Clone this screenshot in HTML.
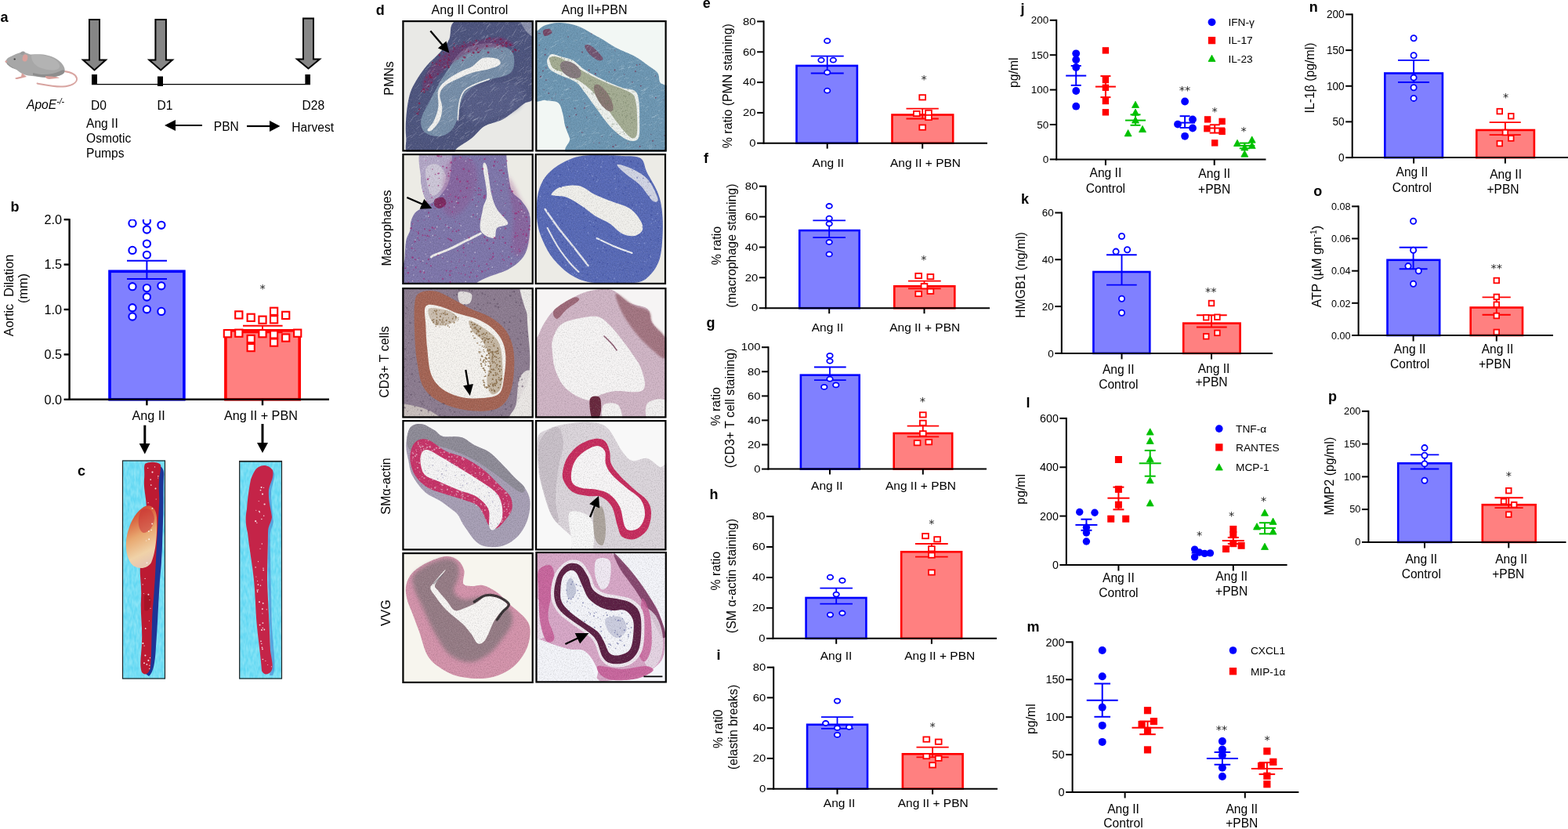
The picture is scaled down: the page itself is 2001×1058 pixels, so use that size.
<!DOCTYPE html>
<html><head><meta charset="utf-8"><title>Figure</title>
<style>html,body{margin:0;padding:0;background:#fff;} svg{display:block;} text{font-family:"Liberation Sans",Arial,Helvetica,sans-serif;}</style>
</head><body>
<svg width="2001" height="1058" viewBox="0 0 2001 1058">
<rect x="0" y="0" width="2001" height="1058" fill="#fff"/>
<text x="0.5" y="27.8" font-size="18" text-anchor="start" font-weight="bold" fill="#000">a</text>
<polygon points="114.0,25.0 127.0,25.0 127.0,76.6 135.0,76.6 120.5,89.5 106.0,76.6 114.0,76.6" fill="#868686" stroke="#000" stroke-width="2" stroke-linejoin="miter"/>
<polygon points="198.4,25.0 211.9,25.0 211.9,76.6 220.0,76.6 205.2,89.5 190.4,76.6 198.4,76.6" fill="#868686" stroke="#000" stroke-width="2" stroke-linejoin="miter"/>
<polygon points="387.0,23.5 400.0,23.5 400.0,75.6 408.0,75.6 393.5,87.5 379.0,75.6 387.0,75.6" fill="#868686" stroke="#000" stroke-width="2" stroke-linejoin="miter"/>
<line x1="117" y1="107.6" x2="396" y2="107.6" stroke="#000" stroke-width="1.3" stroke-linecap="butt"/>
<rect x="117" y="95" width="7" height="13" fill="#000" stroke="none" stroke-width="0"/>
<rect x="201" y="97.5" width="7" height="12.5" fill="#000" stroke="none" stroke-width="0"/>
<rect x="389.4" y="95" width="6.6" height="13" fill="#000" stroke="none" stroke-width="0"/>
<g>
<path d="M82,91 C90,92 97,95 98,100 C99,106 90,110 80,110.5 C68,111 56,108 47.5,106.5" fill="none" stroke="#d8a4a0" stroke-width="1.9" stroke-linecap="round"/>
<path d="M7.5,78 C8,75 11,73 14,72 C18,70 22,68 28,66.5 C33,66 36,69.5 40,69.5 C46,69 50,69 55,69.5 C63,70.5 71,73.5 77,79 C82,84 84,89 82,93 C79,96.5 73,97.5 66,98.5 C58,99.5 48,98 41,97 C34,96.5 29,95 25,92 C20,88 14,84 10,82 C8,81 7,79.5 7.5,78 Z" fill="#a7a7a7"/>
<path d="M40,70.5 C50,69 62,71 70,76 C76,80 78,85 74,88 C68,91 58,89 50,86 C44,83 40,78 40,70.5 Z" fill="#b3b3b3"/>
<path d="M42,93 C52,96 66,96 76,91 C80,89 83,88 82,92 C80,96 73,97.5 66,98.5 C58,99.5 48,98 42,96 Z" fill="#8d8d8d"/>
<path d="M9,80 C12,83 17,86 22,89 C18,88 13,86 9,82 Z" fill="#959595"/>
<ellipse cx="32" cy="74" rx="3.3" ry="4.6" transform="rotate(10 32 74)" fill="#d9a09b"/>
<path d="M25.5,69 C26,66 29,64.5 31.5,66 C32,67.5 31,69 29,70 Z" fill="#9b9b9b"/>
<ellipse cx="18.7" cy="75.5" rx="1.2" ry="1" fill="#333"/>
<circle cx="7.8" cy="78.6" r="1.3" fill="#d9a09b"/>
<path d="M28,93 C30,95 33,97 34,98 L22,101 C19,101 18.5,99.5 21,99 L27,97.5 Z" fill="#d9a09b"/>
<path d="M58,97 L66,97.5 C70,98 75,98.5 76,99.5 L63,101 C60,101 59,99.5 58,99 Z" fill="#d9a09b"/>
</g>
<text x="34" y="139.4" font-size="15.6" text-anchor="start" font-style="italic" fill="#000">ApoE<tspan font-size="10.5" dy="-6">-/-</tspan></text>
<text x="116" y="139.5" font-size="15.6" text-anchor="start" fill="#000">D0</text>
<text x="200.4" y="139.5" font-size="15.6" text-anchor="start" fill="#000">D1</text>
<text x="385.5" y="139.5" font-size="15.6" text-anchor="start" fill="#000">D28</text>
<text x="110" y="163" font-size="15.6" text-anchor="start" fill="#000">Ang II</text>
<text x="110" y="182" font-size="15.6" text-anchor="start" fill="#000">Osmotic</text>
<text x="110" y="201" font-size="15.6" text-anchor="start" fill="#000">Pumps</text>
<text x="272.8" y="167" font-size="15.6" text-anchor="start" fill="#000">PBN</text>
<text x="372.3" y="168" font-size="15.6" text-anchor="start" fill="#000">Harvest</text>
<line x1="222" y1="160" x2="258" y2="160" stroke="#000" stroke-width="2.2" stroke-linecap="butt"/>
<polygon points="210,160 224,153 224,167" fill="#000"/>
<line x1="315" y1="161" x2="346" y2="161" stroke="#000" stroke-width="2.2" stroke-linecap="butt"/>
<polygon points="357.5,161 344,154 344,168" fill="#000"/>
<text x="13.5" y="270" font-size="18" text-anchor="start" font-weight="bold" fill="#000">b</text>
<line x1="88.6" y1="279.2" x2="88.6" y2="510.8" stroke="#000" stroke-width="2.4" stroke-linecap="butt"/>
<line x1="81.6" y1="280.2" x2="88.6" y2="280.2" stroke="#000" stroke-width="2.4" stroke-linecap="butt"/>
<text x="79" y="286.032" font-size="16.2" text-anchor="end" fill="#000">2.0</text>
<line x1="81.6" y1="337.6" x2="88.6" y2="337.6" stroke="#000" stroke-width="2.4" stroke-linecap="butt"/>
<text x="79" y="343.432" font-size="16.2" text-anchor="end" fill="#000">1.5</text>
<line x1="81.6" y1="395" x2="88.6" y2="395" stroke="#000" stroke-width="2.4" stroke-linecap="butt"/>
<text x="79" y="400.832" font-size="16.2" text-anchor="end" fill="#000">1.0</text>
<line x1="81.6" y1="452.4" x2="88.6" y2="452.4" stroke="#000" stroke-width="2.4" stroke-linecap="butt"/>
<text x="79" y="458.23199999999997" font-size="16.2" text-anchor="end" fill="#000">0.5</text>
<line x1="81.6" y1="509.8" x2="88.6" y2="509.8" stroke="#000" stroke-width="2.4" stroke-linecap="butt"/>
<text x="79" y="515.6320000000001" font-size="16.2" text-anchor="end" fill="#000">0.0</text>
<clipPath id="cb"><rect x="89" y="280" width="340" height="232"/></clipPath>
<g clip-path="url(#cb)">
<rect x="140.0" y="346.3" width="94.9" height="163.5" fill="#8080ff" stroke="#0000ff" stroke-width="3.6"/>
<rect x="287.90000000000003" y="421.8" width="94.29999999999998" height="88.00000000000001" fill="#ff8080" stroke="#ff0000" stroke-width="3.6"/>
<line x1="187.4" y1="332.7" x2="187.4" y2="356.1" stroke="#0000ff" stroke-width="2" stroke-linecap="butt"/>
<line x1="162" y1="332.7" x2="213" y2="332.7" stroke="#0000ff" stroke-width="2" stroke-linecap="butt"/>
<line x1="162" y1="356.1" x2="213" y2="356.1" stroke="#0000ff" stroke-width="2" stroke-linecap="butt"/>
<line x1="335" y1="415.8" x2="335" y2="424.2" stroke="#ff0000" stroke-width="2" stroke-linecap="butt"/>
<line x1="310" y1="415.8" x2="360.6" y2="415.8" stroke="#ff0000" stroke-width="2" stroke-linecap="butt"/>
<line x1="310" y1="424.2" x2="360.6" y2="424.2" stroke="#ff0000" stroke-width="2" stroke-linecap="butt"/>
<circle cx="169" cy="284.9" r="4.6" fill="#fff" stroke="#0000ff" stroke-width="2.1"/>
<circle cx="187.4" cy="282" r="4.6" fill="#fff" stroke="#0000ff" stroke-width="2.1"/>
<circle cx="187.4" cy="293" r="4.6" fill="#fff" stroke="#0000ff" stroke-width="2.1"/>
<circle cx="205.9" cy="287.3" r="4.6" fill="#fff" stroke="#0000ff" stroke-width="2.1"/>
<circle cx="187.4" cy="311.1" r="4.6" fill="#fff" stroke="#0000ff" stroke-width="2.1"/>
<circle cx="169" cy="319.4" r="4.6" fill="#fff" stroke="#0000ff" stroke-width="2.1"/>
<circle cx="187.4" cy="325.3" r="4.6" fill="#fff" stroke="#0000ff" stroke-width="2.1"/>
<circle cx="169" cy="365.7" r="4.6" fill="#fff" stroke="#0000ff" stroke-width="2.1"/>
<circle cx="187.4" cy="367.6" r="4.6" fill="#fff" stroke="#0000ff" stroke-width="2.1"/>
<circle cx="205.9" cy="364.8" r="4.6" fill="#fff" stroke="#0000ff" stroke-width="2.1"/>
<circle cx="187.4" cy="379" r="4.6" fill="#fff" stroke="#0000ff" stroke-width="2.1"/>
<circle cx="169" cy="392.7" r="4.6" fill="#fff" stroke="#0000ff" stroke-width="2.1"/>
<circle cx="187.4" cy="394.8" r="4.6" fill="#fff" stroke="#0000ff" stroke-width="2.1"/>
<circle cx="205.9" cy="397.4" r="4.6" fill="#fff" stroke="#0000ff" stroke-width="2.1"/>
<circle cx="169" cy="404" r="4.6" fill="#fff" stroke="#0000ff" stroke-width="2.1"/>
<rect x="300.2" y="397.29999999999995" width="9.2" height="9.2" fill="#fff" stroke="#ff0000" stroke-width="2.1"/>
<rect x="315.59999999999997" y="400.7" width="9.2" height="9.2" fill="#fff" stroke="#ff0000" stroke-width="2.1"/>
<rect x="330.4" y="403.59999999999997" width="9.2" height="9.2" fill="#fff" stroke="#ff0000" stroke-width="2.1"/>
<rect x="345.0" y="392.7" width="9.2" height="9.2" fill="#fff" stroke="#ff0000" stroke-width="2.1"/>
<rect x="345.0" y="403.2" width="9.2" height="9.2" fill="#fff" stroke="#ff0000" stroke-width="2.1"/>
<rect x="360.09999999999997" y="397.79999999999995" width="9.2" height="9.2" fill="#fff" stroke="#ff0000" stroke-width="2.1"/>
<rect x="285.79999999999995" y="421.09999999999997" width="9.2" height="9.2" fill="#fff" stroke="#ff0000" stroke-width="2.1"/>
<rect x="300.2" y="420.59999999999997" width="9.2" height="9.2" fill="#fff" stroke="#ff0000" stroke-width="2.1"/>
<rect x="315.59999999999997" y="427.9" width="9.2" height="9.2" fill="#fff" stroke="#ff0000" stroke-width="2.1"/>
<rect x="315.59999999999997" y="439.0" width="9.2" height="9.2" fill="#fff" stroke="#ff0000" stroke-width="2.1"/>
<rect x="330.4" y="421.09999999999997" width="9.2" height="9.2" fill="#fff" stroke="#ff0000" stroke-width="2.1"/>
<rect x="345.0" y="422.29999999999995" width="9.2" height="9.2" fill="#fff" stroke="#ff0000" stroke-width="2.1"/>
<rect x="345.0" y="432.5" width="9.2" height="9.2" fill="#fff" stroke="#ff0000" stroke-width="2.1"/>
<rect x="360.09999999999997" y="426.5" width="9.2" height="9.2" fill="#fff" stroke="#ff0000" stroke-width="2.1"/>
<rect x="375.09999999999997" y="420.59999999999997" width="9.2" height="9.2" fill="#fff" stroke="#ff0000" stroke-width="2.1"/>
</g>
<line x1="87.6" y1="509.8" x2="420" y2="509.8" stroke="#000" stroke-width="2.4" stroke-linecap="butt"/>
<line x1="187.4" y1="509.8" x2="187.4" y2="517.3" stroke="#000" stroke-width="2.4" stroke-linecap="butt"/>
<line x1="335" y1="509.8" x2="335" y2="517.3" stroke="#000" stroke-width="2.4" stroke-linecap="butt"/>
<text x="335" y="373.15" font-size="14.5" text-anchor="middle" fill="#222" style="font-family:'DejaVu Sans',sans-serif">*</text>
<text x="189.6" y="536" font-size="16.2" text-anchor="middle" fill="#000">Ang II</text>
<text x="332.9" y="536" font-size="16.2" text-anchor="middle" fill="#000">Ang II + PBN</text>
<text x="17" y="377" font-size="16.2" text-anchor="middle" transform="rotate(-90 17 377)" fill="#000">Aortic&#160;&#160;Dilation</text>
<text x="34.5" y="368" font-size="16.2" text-anchor="middle" transform="rotate(-90 34.5 368)" fill="#000">(mm)</text>
<line x1="184.8" y1="542.7" x2="184.8" y2="567" stroke="#000" stroke-width="3" stroke-linecap="butt"/>
<polygon points="177.7,566 191.5,566 184.8,579.5" fill="#000"/>
<line x1="335" y1="541" x2="335" y2="566" stroke="#000" stroke-width="3" stroke-linecap="butt"/>
<polygon points="328,565 342,565 335,578" fill="#000"/>
<text x="99" y="607" font-size="18" text-anchor="start" font-weight="bold" fill="#000">c</text>
<defs>
<filter id="noise" x="0" y="0" width="100%" height="100%">
<feTurbulence type="fractalNoise" baseFrequency="0.35 0.12" numOctaves="2" seed="3"/>
<feColorMatrix type="matrix" values="0 0 0 0 0.7  0 0 0 0 1  0 0 0 0 1  0 0 0 -1.3 1.05"/>
</filter>
</defs>
<g><rect x="156" y="587.5" width="55" height="279.0" fill="#5ed6f2"/>
<rect x="156" y="587.5" width="55" height="279.0" fill="#fff" filter="url(#noise)" opacity="0.45"/>

<defs><linearGradient id="bulge" x1="0" y1="0" x2="0.25" y2="1">
<stop offset="0" stop-color="#c42a30"/><stop offset="0.25" stop-color="#d8603c"/><stop offset="0.55" stop-color="#e8a870"/><stop offset="0.85" stop-color="#f0d2a8"/><stop offset="1" stop-color="#e8c8b0"/></linearGradient></defs>
<path d="M200,594 C207,594 210,600 209,608 C208,625 209,645 208,665 C207,690 207,715 204,740 C202,770 201,800 199,825 C198,845 196,858 190,863 L186,860 C192,840 194,800 194,770 C195,740 195,700 196,670 C197,640 199,615 200,594 Z" fill="#1e3496"/>
<path d="M185,592 C190,589 201,589 205,593 C206,600 203,606 203,614 C202,625 204,632 203,645 C202,665 200,690 199,715 C198,735 197,755 195,775 C193,800 194,830 192,852 C190,860 185,863 181,858 C178,850 180,840 181,820 C182,800 179,785 180,765 C181,745 178,735 179,724 C182,700 186,670 187,650 C187,635 183,625 184,612 C185,602 183,597 185,592 Z" fill="#bc1a32"/>
<path d="M182,648 C190,642 199,646 200,660 C201,680 199,705 193,718 C188,726 178,727 170,722 C163,716 160,703 161,692 C162,676 170,656 182,648 Z" fill="url(#bulge)"/>
<path d="M180,651 C188,646 196,650 197,662 C196,672 190,680 183,680 C177,678 174,664 180,651 Z" fill="#c8323a" opacity="0.55"/>
<path d="M184,760 C188,757 193,760 193,768 C192,778 188,782 184,778 Z" fill="#9a1020" opacity="0.6"/>
<g fill="#fff" opacity="0.85"><circle cx="189.4" cy="758.8" r="0.98"/><circle cx="189.4" cy="842.9" r="1.05"/><circle cx="194.5" cy="602.6" r="1.07"/><circle cx="191.0" cy="765.7" r="0.57"/><circle cx="187.5" cy="718.4" r="0.83"/><circle cx="182.1" cy="745.9" r="0.63"/><circle cx="194.2" cy="668.5" r="0.96"/><circle cx="199.2" cy="637.0" r="0.58"/><circle cx="183.3" cy="757.4" r="0.50"/><circle cx="184.1" cy="824.2" r="0.63"/><circle cx="190.7" cy="853.4" r="0.67"/><circle cx="187.4" cy="847.9" r="0.91"/><circle cx="194.4" cy="648.9" r="0.91"/><circle cx="190.9" cy="849.2" r="0.68"/><circle cx="186.7" cy="690.0" r="0.59"/><circle cx="192.2" cy="612.1" r="0.86"/><circle cx="197.5" cy="595.9" r="0.70"/><circle cx="193.2" cy="676.5" r="0.79"/><circle cx="189.8" cy="678.1" r="0.92"/><circle cx="201.7" cy="610.0" r="0.51"/><circle cx="190.4" cy="792.2" r="0.51"/><circle cx="185.7" cy="802.2" r="0.85"/><circle cx="188.7" cy="597.4" r="0.61"/><circle cx="184.0" cy="846.2" r="0.95"/><circle cx="191.4" cy="839.5" r="0.71"/><circle cx="190.2" cy="688.3" r="0.97"/><circle cx="198.5" cy="623.4" r="0.98"/><circle cx="182.4" cy="821.1" r="1.07"/><circle cx="192.8" cy="619.0" r="0.87"/><circle cx="185.4" cy="836.5" r="1.05"/><circle cx="185.1" cy="738.4" r="0.69"/><circle cx="189.1" cy="641.7" r="0.59"/><circle cx="192.0" cy="776.3" r="0.60"/><circle cx="201.8" cy="607.8" r="0.82"/></g>

<rect x="156.5" y="588.0" width="54" height="278.0" fill="none" stroke="#222" stroke-width="1.2"/></g>
<g><rect x="305.2" y="588" width="54.80000000000001" height="278.5" fill="#5ed6f2"/>
<rect x="305.2" y="588" width="54.80000000000001" height="278.5" fill="#fff" filter="url(#noise)" opacity="0.45"/>

<rect x="305.2" y="588" width="54.8" height="1.6" fill="#111"/>
<path d="M333,598 C340,594 348,598 350,604 C351,612 347,618 346,628 C346,650 349,660 349,666 C348,672 344,676 345,690 C345,720 346,760 347,800 C349,830 353,850 348,862 L344,862 C347,840 344,800 343,760 C342,720 342,690 342,680 Z" fill="#3a70c8" opacity="0.5"/>
<path d="M330,596 C336,592 344,594 348,600 C350,610 345,615 343,625 C342,640 346,650 347,660 C346,668 342,670 342,680 C342,700 341,720 341,740 C342,770 344,800 345,830 C347,845 350,852 345,858 C341,862 336,861 334,856 C333,840 330,820 328,800 C326,780 326,760 324,740 C322,720 318,700 316,680 C313,668 313,660 315,650 C316,635 318,622 320,612 C323,604 326,598 330,596 Z" fill="#c42448"/>
<g fill="#fff" opacity="0.85"><circle cx="329.5" cy="716.7" r="0.58"/><circle cx="333.0" cy="818.4" r="0.80"/><circle cx="334.5" cy="826.4" r="0.83"/><circle cx="328.6" cy="755.4" r="0.73"/><circle cx="334.8" cy="777.3" r="0.94"/><circle cx="330.2" cy="639.6" r="0.57"/><circle cx="336.2" cy="727.6" r="0.85"/><circle cx="335.4" cy="795.1" r="0.95"/><circle cx="332.5" cy="625.6" r="0.90"/><circle cx="334.9" cy="782.9" r="0.55"/><circle cx="327.8" cy="667.2" r="0.67"/><circle cx="334.0" cy="804.0" r="1.03"/><circle cx="333.8" cy="821.6" r="0.73"/><circle cx="326.1" cy="723.9" r="0.75"/><circle cx="335.0" cy="828.4" r="0.86"/><circle cx="335.0" cy="630.6" r="1.04"/><circle cx="326.8" cy="651.2" r="0.55"/><circle cx="326.9" cy="736.0" r="0.55"/><circle cx="336.0" cy="725.2" r="0.75"/><circle cx="332.0" cy="700.3" r="0.56"/><circle cx="329.4" cy="746.1" r="0.87"/><circle cx="335.4" cy="841.5" r="0.83"/><circle cx="329.6" cy="752.8" r="0.66"/><circle cx="346.5" cy="850.7" r="0.57"/><circle cx="340.3" cy="777.8" r="0.64"/><circle cx="328.5" cy="754.0" r="0.72"/><circle cx="335.7" cy="769.9" r="0.96"/><circle cx="333.6" cy="621.9" r="1.02"/><circle cx="332.5" cy="747.2" r="0.74"/><circle cx="341.7" cy="848.5" r="0.51"/><circle cx="335.2" cy="801.4" r="0.76"/><circle cx="331.4" cy="653.8" r="0.69"/><circle cx="336.6" cy="622.4" r="0.56"/><circle cx="331.6" cy="797.6" r="0.97"/><circle cx="337.3" cy="803.5" r="0.93"/><circle cx="333.9" cy="662.6" r="0.76"/><circle cx="336.7" cy="658.2" r="0.74"/><circle cx="334.3" cy="694.0" r="0.72"/><circle cx="331.0" cy="768.2" r="1.01"/><circle cx="326.2" cy="665.2" r="1.09"/><circle cx="337.6" cy="643.5" r="1.09"/><circle cx="328.1" cy="752.9" r="0.54"/><circle cx="330.8" cy="652.6" r="0.87"/><circle cx="338.9" cy="843.5" r="0.58"/><circle cx="328.6" cy="741.6" r="0.55"/><circle cx="334.7" cy="740.1" r="0.54"/></g>

<rect x="305.7" y="588.5" width="53.80000000000001" height="277.5" fill="none" stroke="#222" stroke-width="1.2"/></g>
<defs>
<filter id="grain" x="0" y="0" width="100%" height="100%">
<feTurbulence type="fractalNoise" baseFrequency="0.6" numOctaves="2" seed="7"/>
<feColorMatrix type="matrix" values="0 0 0 0 0  0 0 0 0 0  0 0 0 0 0  0 0 0 -2.2 1.25"/>
</filter>
<filter id="tex" x="0" y="0" width="100%" height="100%">
<feTurbulence type="fractalNoise" baseFrequency="0.75" numOctaves="2" seed="11" result="n"/>
<feColorMatrix in="n" type="matrix" values="0 0 0 0 0  0 0 0 0 0  0 0 0 0 0  0 0 0 -2.4 1.35" result="dn"/>
<feComposite in="dn" in2="SourceAlpha" operator="in" result="dm"/>
<feComponentTransfer in="dm" result="dm2"><feFuncA type="linear" slope="0.28"/></feComponentTransfer>
<feColorMatrix in="n" type="matrix" values="0 0 0 0 1  0 0 0 0 1  0 0 0 0 1  0 0 0 2.4 -1.45" result="ln"/>
<feComposite in="ln" in2="SourceAlpha" operator="in" result="lm"/>
<feComponentTransfer in="lm" result="lm2"><feFuncA type="linear" slope="0.12"/></feComponentTransfer>
<feMerge><feMergeNode in="SourceGraphic"/><feMergeNode in="dm2"/><feMergeNode in="lm2"/></feMerge>
</filter>
<filter id="blur1"><feGaussianBlur stdDeviation="1.2"/></filter>
<filter id="blur2"><feGaussianBlur stdDeviation="2.5"/></filter>
</defs>
<text x="479.8" y="19" font-size="18" text-anchor="start" font-weight="bold" fill="#000">d</text>
<text x="599.5" y="18.4" font-size="16" text-anchor="middle" fill="#000">Ang II Control</text>
<text x="758.5" y="18.4" font-size="16" text-anchor="middle" fill="#000">Ang II+PBN</text>
<text x="502" y="100" font-size="16" text-anchor="middle" transform="rotate(-90 502 100)" fill="#000">PMNs</text>
<text x="499" y="291" font-size="16" text-anchor="middle" transform="rotate(-90 499 291)" fill="#000">Macrophages</text>
<text x="496" y="462" font-size="16" text-anchor="middle" transform="rotate(-90 496 462)" fill="#000">CD3+ T cells</text>
<text x="498.5" y="620.6" font-size="16" text-anchor="middle" transform="rotate(-90 498.5 620.6)" fill="#000">SM&#945;-actin</text>
<text x="498" y="782.2" font-size="16" text-anchor="middle" transform="rotate(-90 498 782.2)" fill="#000">VVG</text>
<clipPath id="h11"><rect x="0" y="0" width="167.5" height="167.5"/></clipPath>
<g transform="translate(513.3,26)"><g clip-path="url(#h11)">
<rect x="0" y="0" width="167.5" height="167.5" fill="#e9e9e6"/>
<g filter="url(#tex)"><path d="M65.0,3.0 C70.0,-1.7 72.2,-2.8 90.0,-4.0 C107.8,-5.2 158.3,-14.7 172.0,-4.0 C185.7,6.7 172.7,43.0 172.0,60.0 C171.3,77.0 170.7,90.3 168.0,98.0 C165.3,105.7 160.2,103.0 156.0,106.0 C151.8,109.0 147.8,112.5 143.0,116.0 C138.2,119.5 133.3,123.8 127.0,127.0 C120.7,130.2 111.3,131.2 105.0,135.0 C98.7,138.8 94.8,145.3 89.0,150.0 C83.2,154.7 74.8,159.3 70.0,163.0 C65.2,166.7 70.0,170.5 60.0,172.0 C50.0,173.5 19.2,175.7 10.0,172.0 C0.8,168.3 5.8,158.0 5.0,150.0 C4.2,142.0 4.2,133.2 5.0,124.0 C5.8,114.8 7.2,103.2 9.5,95.0 C11.8,86.8 15.2,81.3 19.0,75.0 C22.8,68.7 27.2,62.7 32.0,57.0 C36.8,51.3 43.3,46.5 48.0,41.0 C52.7,35.5 57.2,30.3 60.0,24.0 C62.8,17.7 60.0,7.7 65.0,3.0 Z" fill="#4f5680" /><path d="M79.0,37.0 C87.0,32.5 101.3,29.0 111.0,29.0 C120.7,29.0 131.7,33.2 137.0,37.0 C142.3,40.8 143.0,46.8 143.0,52.0 C143.0,57.2 142.3,64.0 137.0,68.0 C131.7,72.0 119.0,73.0 111.0,76.0 C103.0,79.0 94.8,81.7 89.0,86.0 C83.2,90.3 79.0,95.7 76.0,102.0 C73.0,108.3 73.2,117.7 71.0,124.0 C68.8,130.3 66.8,136.0 63.0,140.0 C59.2,144.0 53.7,147.5 48.0,148.0 C42.3,148.5 33.0,146.5 29.0,143.0 C25.0,139.5 23.0,133.7 24.0,127.0 C25.0,120.3 31.0,111.0 35.0,103.0 C39.0,95.0 43.3,86.8 48.0,79.0 C52.7,71.2 57.8,63.0 63.0,56.0 C68.2,49.0 71.0,41.5 79.0,37.0 Z" fill="#7890aa" /><path d="M80.0,90.0 C86.7,83.3 108.3,81.0 120.0,80.0 C131.7,79.0 145.0,79.0 150.0,84.0 C155.0,89.0 155.0,103.3 150.0,110.0 C145.0,116.7 129.0,120.7 120.0,124.0 C111.0,127.3 102.7,130.7 96.0,130.0 C89.3,129.3 82.7,126.7 80.0,120.0 C77.3,113.3 73.3,96.7 80.0,90.0 Z" fill="#5e6690" opacity="0.6" filter="url(#blur2)"/><path d="M52.0,44.0 C57.8,39.5 62.5,36.2 71.0,33.0 C79.5,29.8 93.7,26.8 103.0,25.0 C112.3,23.2 120.3,20.8 127.0,22.0 C133.7,23.2 142.5,30.0 143.0,32.0 C143.5,34.0 136.5,33.3 130.0,34.0 C123.5,34.7 112.3,34.3 104.0,36.0 C95.7,37.7 87.0,40.7 80.0,44.0 C73.0,47.3 68.0,51.3 62.0,56.0 C56.0,60.7 49.3,66.3 44.0,72.0 C38.7,77.7 33.0,88.7 30.0,90.0 C27.0,91.3 25.0,85.0 26.0,80.0 C27.0,75.0 31.7,66.0 36.0,60.0 C40.3,54.0 46.2,48.5 52.0,44.0 Z" fill="#7e2c68" opacity="0.45" filter="url(#blur1)"/><path d="M89.0,59.0 C93.7,56.2 97.7,49.7 103.0,48.0 C108.3,46.3 117.3,47.7 121.0,49.0 C124.7,50.3 126.7,53.8 125.0,56.0 C123.3,58.2 117.0,60.2 111.0,62.0 C105.0,63.8 95.8,64.8 89.0,67.0 C82.2,69.2 75.8,72.2 70.0,75.0 C64.2,77.8 57.7,80.7 54.0,84.0 C50.3,87.3 48.5,90.5 48.0,95.0 C47.5,99.5 51.0,105.7 51.0,111.0 C51.0,116.3 50.2,122.2 48.0,127.0 C45.8,131.8 40.7,137.8 38.0,140.0 C35.3,142.2 31.7,141.8 32.0,140.0 C32.3,138.2 37.7,133.8 40.0,129.0 C42.3,124.2 45.0,117.7 46.0,111.0 C47.0,104.3 44.2,94.8 46.0,89.0 C47.8,83.2 52.2,80.0 57.0,76.0 C61.8,72.0 69.7,67.8 75.0,65.0 C80.3,62.2 84.3,61.8 89.0,59.0 Z" fill="#f2f2f0" /><path d="M111.0,75.0 C107.8,76.2 97.3,79.5 92.0,82.0 C86.7,84.5 82.2,86.2 79.0,90.0 C75.8,93.8 74.3,98.8 73.0,105.0 C71.7,111.2 71.3,123.3 71.0,127.0 " fill="none" stroke="#f2f2f0" stroke-width="1.6" stroke-linecap="round" /><path d="M150.0,-4.0 C152.0,-7.3 168.3,-8.0 172.0,-4.0 C175.7,0.0 174.0,16.7 172.0,20.0 C170.0,23.3 163.7,20.0 160.0,16.0 C156.3,12.0 148.0,-0.7 150.0,-4.0 Z" fill="#b8bccc" opacity="0.6"/><path d="M42.2,94.3L47.3,89.2M107.2,11.4L111.7,3.7M143.0,81.0L146.4,78.7M90.9,127.4L93.8,125.5M130.5,101.2L132.7,98.8M145.6,81.6L153.5,76.8M67.4,140.2L74.5,133.8M150.5,15.0L153.1,11.3M164.1,74.2L168.3,71.3M59.9,101.8L67.3,96.2M112.7,26.8L121.5,22.6M154.2,97.3L158.0,95.0M142.7,98.2L145.0,95.6M18.3,138.3L21.3,135.5M52.6,132.0L55.6,130.6M105.4,5.3L109.9,2.5M103.4,3.8L107.0,-0.8M104.6,27.4L109.3,19.6M54.8,165.9L60.0,163.6M78.9,89.6L84.9,85.5M95.4,106.4L101.4,103.9M75.4,124.7L78.6,120.8M167.1,88.7L169.5,86.8M72.5,101.2L76.2,94.9M108.0,8.4L113.1,4.8M122.2,127.4L123.9,124.4M44.8,77.9L49.0,74.8M63.3,53.6L68.3,48.5M53.8,63.2L56.6,61.6M98.5,127.1L101.6,123.7M137.4,40.4L141.1,35.6M119.8,15.9L123.4,12.0M142.3,74.1L146.1,72.3M58.4,111.7L64.0,109.2M89.5,31.6L97.4,27.5M137.4,110.2L142.2,107.7M135.5,45.9L139.6,41.6M156.3,27.6L161.2,19.3M156.0,37.3L163.7,32.9M113.9,89.4L117.5,85.3M101.8,47.3L104.8,45.7M153.2,101.1L157.3,94.0M112.2,91.7L119.2,85.1M44.0,150.4L50.4,144.9M60.4,33.5L67.2,28.0M29.6,137.0L37.6,133.6M138.8,-0.1L146.2,-5.3M74.3,80.0L77.0,78.5M17.6,86.3L21.1,82.5M61.4,111.5L65.9,108.2M34.9,56.7L38.9,51.0M123.4,64.7L125.7,61.1M64.9,103.7L69.8,101.0M136.7,107.5L140.9,103.7M85.0,122.4L90.7,117.0M78.9,41.6L85.0,36.7M73.5,151.9L78.7,149.7M46.3,81.3L51.3,74.1M134.4,115.3L140.3,111.7M21.2,101.2L23.2,97.7M133.3,5.3L135.3,2.3M149.8,31.3L154.3,23.7M21.5,146.9L29.0,142.1M162.6,98.7L165.5,97.2M131.6,87.0L134.8,85.0M128.8,67.3L132.9,63.2M61.7,72.3L65.3,66.9M165.7,69.7L169.3,67.6M117.6,130.9L123.1,127.3M83.9,110.0L87.6,108.3M18.0,129.0L24.0,126.4M77.5,124.5L80.5,120.6M36.7,100.8L39.8,97.4M51.2,123.2L57.7,117.1M101.6,44.3L103.6,41.8M30.9,62.5L36.6,56.4M26.3,172.8L31.7,168.1M80.1,144.5L86.2,141.3M82.8,124.1L88.0,121.6M80.5,39.5L85.6,33.3M146.1,40.5L149.1,36.7M32.1,122.0L40.5,118.0M45.6,150.5L49.6,146.1M124.3,14.8L129.2,7.4M50.6,61.1L56.8,56.5M75.6,84.3L80.1,78.7M163.0,66.0L166.0,63.6M48.3,116.9L53.5,109.3M154.2,14.1L159.4,12.0M50.8,117.4L57.9,112.5M45.8,130.2L52.9,127.3M92.5,17.7L96.6,14.2M123.2,116.7L126.6,114.1M110.0,110.7L115.6,103.4M112.6,18.4L116.3,16.9M57.6,124.8L63.1,120.8M111.7,78.1L114.6,75.0M13.5,123.7L19.4,120.3M126.7,61.4L130.4,57.1M148.9,4.9L152.5,1.9M131.4,60.4L135.4,56.2M92.3,135.0L98.5,128.6M70.9,128.7L78.2,124.9M102.3,23.3L105.4,20.3M91.6,97.9L94.6,94.2M131.5,3.5L139.6,-0.9M160.7,65.6L166.3,61.3M116.8,50.1L122.5,47.3M103.3,127.6L107.5,120.3M113.1,84.5L118.0,80.6M35.6,92.0L39.0,86.4M109.0,77.1L116.7,71.2M150.7,21.6L157.2,18.1M57.3,150.3L60.6,148.2M144.6,103.4L152.0,100.2M124.3,58.7L132.7,54.3M146.1,74.5L151.6,71.3M29.0,85.3L34.7,81.7M73.4,112.6L77.6,108.0M128.6,70.4L134.2,63.0M122.8,63.0L127.6,58.2M103.5,37.3L105.7,33.5M134.2,22.7L137.4,19.8M71.5,27.2L73.4,24.0M32.2,83.6L33.9,81.0M120.4,7.0L124.6,3.0M8.3,167.4L10.6,164.5M82.0,26.6L86.5,23.4M123.8,45.9L129.3,42.9M159.2,50.8L162.4,47.0M139.8,108.0L142.3,105.4M103.0,-1.8L104.8,-4.9M12.0,112.1L16.0,110.3M163.5,82.1L171.8,77.7M159.6,4.7L164.4,-0.7M160.1,14.8L166.1,8.1M58.9,116.5L62.8,114.9M125.5,126.7L131.6,123.6M157.6,61.4L160.9,58.3M133.8,82.2L136.5,79.0M122.9,104.1L127.8,101.1M85.0,23.9L87.7,22.3M81.4,130.5L84.5,128.5M40.8,147.1L48.4,141.9M147.0,76.8L154.4,73.5M59.2,63.6L62.3,58.7M163.1,15.6L166.1,13.3M17.4,111.5L19.6,109.0M29.3,110.4L31.7,108.5M41.2,168.9L45.6,163.5M71.6,136.0L78.5,131.0M93.3,30.5L95.5,27.7M140.3,20.0L145.4,11.6M36.6,155.8L40.0,150.6M39.1,144.2L45.3,139.8M61.4,103.4L64.2,100.9M142.5,101.6L146.5,99.6M93.5,78.6L96.6,76.8M60.9,84.2L64.7,78.4M124.8,72.4L130.8,68.4M38.3,58.6L43.3,56.8M75.6,12.4L78.2,9.2M90.1,71.5L98.8,67.9M161.0,82.6L166.1,79.8M52.7,161.9L54.9,159.0M122.7,50.2L128.5,45.4M9.8,129.4L13.8,124.9M60.4,127.9L64.7,125.4M71.2,13.0L76.1,6.3M65.1,26.7L69.3,22.1M89.7,94.6L96.0,88.2M48.7,79.3L56.6,75.7M53.3,39.4L56.0,38.0M25.3,90.7L28.6,88.1M129.6,79.5L137.6,76.5M167.6,3.4L169.5,1.0M75.4,58.4L79.0,52.6M44.5,138.8L48.0,135.5M105.8,116.6L113.8,113.1M88.0,143.8L91.9,140.7M152.4,80.9L160.3,75.7M138.5,104.3L143.3,99.8M94.2,70.1L98.5,65.6M137.2,76.4L141.0,74.9M54.3,91.0L60.8,84.8M104.5,3.4L110.0,-0.7M82.4,47.7L90.4,42.8M19.8,116.0L24.4,111.3M110.5,31.2L114.4,29.5M67.4,143.6L70.7,140.0M56.7,66.6L59.3,63.6M45.5,170.4L48.0,166.6M89.6,128.4L96.2,125.1M138.4,0.6L144.8,-6.7M84.3,44.2L86.9,42.1M41.7,168.3L47.1,160.7M31.6,172.8L37.9,168.7M129.2,30.5L134.5,23.5M148.0,5.8L154.2,3.3M65.3,18.3L72.4,11.4M62.7,158.9L65.0,155.2M165.3,42.7L172.0,35.8M84.9,121.0L87.1,118.6M59.6,129.4L65.7,126.0M80.0,93.0L85.0,88.4M140.3,34.1L148.0,28.5M142.5,29.2L150.8,26.0M166.7,68.8L170.1,67.2M2.9,151.4L11.7,146.7M117.9,89.3L121.1,87.5M93.1,76.6L97.4,70.7M57.1,87.0L60.8,83.3M60.4,103.5L69.3,100.1M51.6,169.4L54.2,166.4M86.0,127.6L91.2,122.1M49.8,168.3L54.5,164.1M77.1,107.2L80.4,102.2M11.4,149.9L18.4,142.9M62.6,36.6L69.8,30.9M74.6,150.1L79.3,147.2M53.2,86.9L57.2,83.0M100.8,23.9L104.4,19.5M106.2,22.7L109.1,18.4M90.3,127.8L98.2,123.8M155.9,74.7L159.1,72.6M148.5,65.6L155.4,59.5M141.7,102.7L143.4,100.1M142.1,30.5L145.9,26.2M87.3,74.3L93.6,69.9M74.2,14.5L81.5,11.7M81.1,72.1L89.2,68.5M56.7,72.4L64.1,67.0M36.7,68.1L40.8,61.8M6.7,162.8L12.2,158.4M81.3,148.4L85.2,145.3M90.1,35.1L96.3,28.2M25.0,91.1L29.4,88.0M74.5,54.5L80.1,47.3M39.3,141.5L42.9,140.1M156.2,67.6L158.9,64.2M67.7,146.6L70.7,145.1M70.6,66.4L73.5,62.6M39.9,75.3L43.7,72.4M118.8,35.9L124.9,31.9M31.9,130.5L36.8,125.8M103.6,107.7L106.1,105.4M83.8,101.4L89.9,94.4M115.1,37.3L123.9,32.8M83.4,28.9L88.0,26.1M125.4,101.5L129.2,95.9M143.5,82.9L150.6,77.3M76.1,85.3L83.1,80.1M129.0,96.7L135.2,89.8M148.6,92.8L156.9,89.8M128.0,50.6L131.9,43.9M125.1,60.0L130.4,55.4M20.6,96.5L26.0,90.5M32.0,67.7L35.6,63.1M99.6,17.5L103.0,12.1M37.6,86.4L39.8,83.4" stroke="#d8dce8" stroke-width="0.6" stroke-linecap="round" opacity="0.45" fill="none"/><g fill="#8a1848" opacity="0.75"><circle cx="66.7" cy="37.0" r="0.56"/><circle cx="38.7" cy="54.1" r="1.06"/><circle cx="133.4" cy="29.5" r="1.05"/><circle cx="36.5" cy="72.1" r="0.58"/><circle cx="124.1" cy="24.8" r="0.54"/><circle cx="39.0" cy="65.4" r="0.68"/><circle cx="136.8" cy="31.1" r="0.56"/><circle cx="57.7" cy="39.5" r="0.91"/><circle cx="52.5" cy="41.1" r="0.90"/><circle cx="62.1" cy="51.9" r="0.59"/><circle cx="105.4" cy="36.5" r="0.54"/><circle cx="79.7" cy="47.4" r="1.40"/><circle cx="28.9" cy="78.2" r="1.20"/><circle cx="77.9" cy="46.6" r="0.87"/><circle cx="80.2" cy="30.2" r="0.69"/><circle cx="18.1" cy="118.9" r="0.61"/><circle cx="132.9" cy="32.7" r="1.23"/><circle cx="95.9" cy="35.3" r="0.83"/><circle cx="126.2" cy="29.4" r="0.99"/><circle cx="54.9" cy="45.7" r="0.94"/><circle cx="27.8" cy="88.3" r="1.30"/><circle cx="21.2" cy="116.9" r="0.68"/><circle cx="78.8" cy="28.3" r="0.72"/><circle cx="141.2" cy="39.8" r="1.09"/><circle cx="57.1" cy="53.1" r="0.52"/><circle cx="33.9" cy="84.3" r="0.95"/><circle cx="28.1" cy="91.7" r="1.11"/><circle cx="43.8" cy="55.9" r="1.06"/><circle cx="37.4" cy="79.4" r="1.12"/><circle cx="47.6" cy="44.4" r="1.34"/><circle cx="84.4" cy="37.3" r="0.59"/><circle cx="78.8" cy="27.5" r="0.65"/><circle cx="15.9" cy="116.4" r="0.52"/><circle cx="144.5" cy="36.8" r="0.64"/><circle cx="26.8" cy="88.1" r="1.32"/><circle cx="21.8" cy="106.0" r="1.32"/><circle cx="108.1" cy="32.8" r="1.38"/><circle cx="48.4" cy="51.6" r="1.32"/><circle cx="80.9" cy="32.5" r="0.81"/><circle cx="128.4" cy="32.5" r="1.37"/><circle cx="22.4" cy="113.1" r="0.66"/><circle cx="111.1" cy="23.0" r="1.19"/><circle cx="148.6" cy="38.9" r="0.69"/><circle cx="19.9" cy="119.4" r="1.13"/><circle cx="31.0" cy="72.7" r="0.99"/><circle cx="116.7" cy="24.2" r="0.64"/><circle cx="91.2" cy="41.4" r="1.06"/><circle cx="59.5" cy="60.0" r="1.14"/><circle cx="66.2" cy="35.4" r="0.84"/><circle cx="73.6" cy="35.0" r="0.53"/><circle cx="69.7" cy="32.6" r="0.77"/><circle cx="84.7" cy="39.9" r="1.05"/><circle cx="112.0" cy="22.5" r="0.89"/><circle cx="122.4" cy="35.2" r="0.54"/><circle cx="99.5" cy="38.7" r="0.81"/><circle cx="47.6" cy="56.9" r="0.98"/><circle cx="77.0" cy="33.1" r="1.29"/><circle cx="94.4" cy="25.7" r="1.24"/><circle cx="132.6" cy="28.9" r="1.35"/><circle cx="77.2" cy="51.1" r="1.12"/><circle cx="51.7" cy="65.9" r="0.50"/><circle cx="128.6" cy="27.9" r="0.89"/><circle cx="24.8" cy="90.5" r="1.10"/><circle cx="58.8" cy="50.5" r="1.03"/><circle cx="28.3" cy="90.5" r="0.56"/><circle cx="143.8" cy="37.3" r="1.19"/><circle cx="54.0" cy="59.5" r="1.18"/><circle cx="35.5" cy="73.1" r="1.09"/><circle cx="90.7" cy="41.3" r="1.36"/><circle cx="57.9" cy="53.4" r="0.78"/><circle cx="53.4" cy="54.8" r="0.69"/><circle cx="127.2" cy="39.4" r="0.59"/><circle cx="88.7" cy="44.5" r="0.72"/><circle cx="45.4" cy="68.6" r="1.16"/><circle cx="121.1" cy="30.6" r="0.55"/><circle cx="59.4" cy="58.4" r="1.11"/><circle cx="66.2" cy="29.5" r="0.85"/><circle cx="138.1" cy="31.3" r="1.33"/><circle cx="51.3" cy="56.9" r="0.53"/><circle cx="37.5" cy="72.7" r="1.29"/><circle cx="97.8" cy="40.6" r="1.08"/><circle cx="21.7" cy="113.6" r="1.08"/><circle cx="35.4" cy="70.1" r="1.28"/><circle cx="96.6" cy="40.8" r="1.30"/><circle cx="86.6" cy="27.8" r="0.78"/><circle cx="94.6" cy="37.9" r="0.94"/><circle cx="109.8" cy="40.9" r="1.38"/><circle cx="145.0" cy="38.1" r="1.19"/><circle cx="33.9" cy="75.9" r="0.66"/><circle cx="65.0" cy="39.7" r="0.79"/><circle cx="35.2" cy="71.6" r="1.10"/><circle cx="53.6" cy="49.9" r="0.89"/><circle cx="108.0" cy="24.0" r="1.11"/><circle cx="19.6" cy="117.9" r="0.67"/><circle cx="125.8" cy="23.7" r="0.94"/><circle cx="118.4" cy="33.9" r="0.55"/><circle cx="65.6" cy="34.2" r="0.92"/><circle cx="121.4" cy="31.3" r="1.19"/><circle cx="32.4" cy="88.6" r="0.96"/><circle cx="118.5" cy="26.9" r="1.10"/><circle cx="126.1" cy="24.3" r="1.12"/><circle cx="59.1" cy="48.1" r="0.85"/><circle cx="71.0" cy="49.2" r="0.59"/><circle cx="91.2" cy="30.9" r="1.27"/><circle cx="60.3" cy="50.6" r="1.07"/><circle cx="58.2" cy="55.9" r="1.06"/><circle cx="59.9" cy="44.2" r="1.05"/><circle cx="80.3" cy="37.4" r="0.73"/><circle cx="95.6" cy="36.3" r="0.86"/><circle cx="76.6" cy="37.8" r="0.81"/></g></g><line x1="36" y1="13.5" x2="51.6" y2="31.7" stroke="#000" stroke-width="2.3"/><polygon points="60,41.6 45.6,35.5 56.2,26.4" fill="#000"/>
</g>
<rect x="1.1" y="1.1" width="165.3" height="165.3" fill="none" stroke="#000" stroke-width="2.2"/>
</g>
<clipPath id="h12"><rect x="0" y="0" width="167.5" height="167.5"/></clipPath>
<g transform="translate(683.2,26)"><g clip-path="url(#h12)">
<rect x="0" y="0" width="167.5" height="167.5" fill="#f2f7f4"/>
<g filter="url(#tex)"><path d="M3.0,13.0 C5.8,10.7 8.2,7.7 13.0,6.0 C17.8,4.3 24.8,2.7 32.0,3.0 C39.2,3.3 48.7,5.3 56.0,8.0 C63.3,10.7 70.8,16.2 76.0,19.0 C81.2,21.8 82.5,22.3 87.0,25.0 C91.5,27.7 96.3,31.5 103.0,35.0 C109.7,38.5 120.3,42.3 127.0,46.0 C133.7,49.7 138.2,53.5 143.0,57.0 C147.8,60.5 153.3,63.3 156.0,67.0 C158.7,70.7 157.3,76.3 159.0,79.0 C160.7,81.7 163.8,81.2 166.0,83.0 C168.2,84.8 171.0,75.2 172.0,90.0 C173.0,104.8 192.7,158.3 172.0,172.0 C151.3,185.7 69.3,175.5 48.0,172.0 C26.7,168.5 45.7,157.2 44.0,151.0 C42.3,144.8 39.5,140.3 38.0,135.0 C36.5,129.7 36.5,124.0 35.0,119.0 C33.5,114.0 32.7,107.8 29.0,105.0 C25.3,102.2 18.5,103.5 13.0,102.0 C7.5,100.5 -1.2,109.7 -4.0,96.0 C-6.8,82.3 -5.2,33.8 -4.0,20.0 C-2.8,6.2 0.2,15.3 3.0,13.0 Z" fill="#6e98b4" /><path d="M16.0,48.0 C17.0,46.2 18.3,43.3 21.0,43.0 C23.7,42.7 27.5,44.7 32.0,46.0 C36.5,47.3 42.8,48.2 48.0,51.0 C53.2,53.8 56.5,58.8 63.0,63.0 C69.5,67.2 79.0,72.2 87.0,76.0 C95.0,79.8 104.3,83.7 111.0,86.0 C117.7,88.3 123.5,87.3 127.0,90.0 C130.5,92.7 131.0,95.8 132.0,102.0 C133.0,108.2 133.0,119.2 133.0,127.0 C133.0,134.8 133.5,144.5 132.0,149.0 C130.5,153.5 127.5,154.0 124.0,154.0 C120.5,154.0 115.8,152.2 111.0,149.0 C106.2,145.8 100.3,140.8 95.0,135.0 C89.7,129.2 84.3,121.2 79.0,114.0 C73.7,106.8 67.5,97.8 63.0,92.0 C58.5,86.2 57.2,82.7 52.0,79.0 C46.8,75.3 37.5,72.7 32.0,70.0 C26.5,67.3 21.8,65.7 19.0,63.0 C16.2,60.3 15.5,56.5 15.0,54.0 C14.5,51.5 15.0,49.8 16.0,48.0 Z" fill="#eef2ee" /><path d="M19.0,47.0 C21.2,46.0 24.7,44.8 32.0,48.0 C39.3,51.2 53.5,60.8 63.0,66.0 C72.5,71.2 79.3,74.7 89.0,79.0 C98.7,83.3 114.5,88.0 121.0,92.0 C127.5,96.0 126.5,97.2 128.0,103.0 C129.5,108.8 129.8,119.7 130.0,127.0 C130.2,134.3 130.5,143.3 129.0,147.0 C127.5,150.7 125.2,151.8 121.0,149.0 C116.8,146.2 109.2,136.5 104.0,130.0 C98.8,123.5 95.0,116.3 90.0,110.0 C85.0,103.7 79.0,97.0 74.0,92.0 C69.0,87.0 65.7,84.0 60.0,80.0 C54.3,76.0 46.0,71.0 40.0,68.0 C34.0,65.0 27.5,64.3 24.0,62.0 C20.5,59.7 19.8,56.5 19.0,54.0 C18.2,51.5 16.8,48.0 19.0,47.0 Z" fill="#a6ae94" /><ellipse cx="45" cy="63" rx="15" ry="9" transform="rotate(35 45 63)" fill="#877b80"/><ellipse cx="87" cy="99" rx="20" ry="7.5" transform="rotate(58 87 99)" fill="#8a7a74"/><path d="M10.0,13.0 C11.0,11.5 16.2,10.5 18.0,11.0 C19.8,11.5 22.0,14.5 21.0,16.0 C20.0,17.5 13.8,20.5 12.0,20.0 C10.2,19.5 9.0,14.5 10.0,13.0 Z" fill="#7a2a48" opacity="0.7"/><path d="M63.0,32.0 C63.7,30.5 68.2,30.3 72.0,33.0 C75.8,35.7 84.7,45.0 86.0,48.0 C87.3,51.0 83.0,52.0 80.0,51.0 C77.0,50.0 70.8,45.2 68.0,42.0 C65.2,38.8 62.3,33.5 63.0,32.0 Z" fill="#7a2a48" opacity="0.6"/><path d="M15.5,43.3L18.3,42.8M105.9,78.4L109.3,76.3M16.6,42.1L18.6,39.8M68.4,149.8L70.5,148.4M62.6,111.5L66.4,108.6M149.1,98.0L150.7,96.4M155.1,84.1L159.3,80.2M59.3,147.0L62.9,143.5M115.5,157.5L119.4,156.3M33.4,28.3L37.0,26.4M37.8,43.8L39.9,41.2M63.1,138.5L65.7,137.8M64.9,31.1L70.3,28.7M126.2,59.7L128.9,57.1M98.1,50.6L99.7,48.9M18.2,88.9L22.5,85.9M4.0,27.0L7.5,24.5M123.2,60.1L125.2,59.7M158.2,126.4L162.4,125.6M78.6,29.6L81.7,26.5M74.7,24.8L78.9,22.2M118.2,80.3L121.0,78.4M38.7,35.6L40.8,34.3M124.9,84.9L127.5,83.9M38.2,89.0L42.6,87.4M148.3,124.1L154.0,122.8M89.9,162.9L94.6,159.6M139.0,87.9L144.3,85.4M129.3,51.3L132.0,50.5M61.7,158.7L64.9,157.8M48.1,103.0L52.6,101.6M153.5,121.6L157.7,120.3M45.7,50.9L49.6,49.6M46.8,147.9L49.6,146.0M159.0,131.5L161.8,130.5M133.9,100.2L137.2,99.1M63.4,110.0L69.1,108.1M151.5,131.9L154.6,128.8M75.7,144.4L81.2,143.1M15.9,102.0L20.3,100.7M52.5,9.9L57.8,8.7M107.0,63.1L112.1,61.6M53.7,52.0L56.4,50.1M119.5,60.4L121.7,58.3M18.6,12.4L23.0,10.1M135.3,95.3L139.7,92.0M120.4,81.9L125.5,79.3M164.4,155.0L166.7,152.7M68.4,30.7L70.5,30.0M146.0,98.6L149.3,97.1M152.9,97.4L158.4,96.0M114.3,163.2L117.3,161.4M138.7,90.0L142.4,87.1M78.6,24.3L82.5,23.2M159.8,89.8L162.9,89.1M36.0,89.2L41.0,87.4M61.6,157.5L65.5,154.6M31.0,99.0L35.2,94.9M71.2,105.3L73.6,104.9M156.2,109.0L158.5,107.6M133.7,64.2L135.7,63.3M6.9,41.7L9.7,39.7M92.2,52.9L96.9,50.8M96.7,45.7L99.7,44.8M141.4,76.3L145.0,74.6M107.4,59.4L111.8,57.1M60.3,101.3L63.6,99.3M105.3,44.4L108.0,43.7M20.5,9.4L23.2,8.4M51.9,162.1L56.5,160.4M54.3,143.0L59.0,139.9M16.1,87.3L21.2,84.3M118.0,162.5L121.6,161.6M24.4,27.7L29.8,25.6M109.3,60.1L113.5,58.1M43.5,116.1L45.0,114.7M12.1,82.6L14.8,81.6M66.1,116.6L69.3,114.0M99.5,70.4L103.1,67.2M132.1,109.8L137.1,108.5M53.1,110.1L55.4,107.6M82.9,147.6L88.1,145.4M142.7,161.2L146.7,159.3M77.3,39.5L81.5,38.1M27.5,43.5L31.2,40.3M98.4,36.4L102.3,34.7M38.8,100.0L44.3,98.4M66.8,128.8L69.3,126.3M140.8,111.9L144.5,109.6M145.2,162.7L149.0,159.4M155.5,102.3L158.5,100.5M91.2,35.6L93.3,34.6M52.6,83.3L55.4,80.6M129.8,105.4L135.5,104.3M114.0,87.2L117.2,85.4M149.7,123.6L154.9,120.9M103.8,76.3L105.7,74.5M130.5,149.4L133.8,147.0M45.7,151.8L50.0,149.5M113.9,74.5L116.5,73.5M104.7,51.2L106.5,49.5M21.3,33.9L25.0,31.8M117.1,74.3L119.1,73.6M57.9,23.4L61.6,21.3M96.7,75.8L99.4,73.9M18.5,35.4L22.2,33.2M6.1,24.3L8.9,22.5M70.2,24.4L72.1,22.5M73.3,48.8L77.4,46.7M145.8,164.0L150.1,161.0M141.6,156.4L143.9,154.7M151.0,99.2L153.8,98.6M152.9,66.6L155.5,64.9M13.7,75.4L16.6,73.7M119.3,53.7L124.9,52.7M106.2,73.0L111.8,70.8M91.2,155.8L92.6,154.2M59.7,146.8L64.1,145.4M58.8,16.9L64.2,15.8M150.8,86.9L154.3,84.0M70.1,35.4L72.6,32.8M160.3,154.8L164.3,153.7M101.3,161.8L107.0,159.9M104.3,53.4L106.3,51.1M135.8,89.6L140.5,87.4M49.0,26.3L53.3,25.2M57.3,161.7L61.6,158.2M22.8,77.5L27.5,76.7M135.0,89.6L139.9,88.6M2.0,49.9L4.4,49.3M2.7,98.3L8.2,96.1M158.0,105.3L161.8,103.7M139.9,116.7L143.1,113.5M8.9,59.0L13.5,55.6M93.7,37.1L96.4,35.4M95.8,144.8L100.1,142.3M16.2,67.4L20.6,64.0M81.5,65.1L86.9,62.8M135.9,134.2L140.7,132.1M93.4,66.9L95.8,65.0M65.9,45.9L67.8,44.8M94.0,147.3L96.1,145.1M45.1,145.4L48.1,142.3M137.5,110.5L139.1,108.6M47.5,123.4L51.6,119.3M145.2,96.3L149.6,95.1M27.9,69.9L30.3,67.1M109.7,61.9L112.8,60.6M150.5,70.6L153.3,68.3M13.6,57.1L16.9,55.8M73.2,41.8L78.5,40.2M71.4,145.3L74.0,144.1M73.9,142.9L76.1,142.5M6.1,47.2L10.0,42.9M14.2,63.0L18.0,62.0M39.9,14.2L42.3,12.1M139.7,74.0L142.4,72.6M67.8,155.0L71.2,151.6M118.7,60.6L122.1,58.6M65.7,65.4L68.3,63.7M75.3,123.8L76.9,122.2M37.2,83.7L39.1,82.3M92.1,55.5L96.8,52.7M75.3,140.3L77.4,138.6M67.5,51.7L69.8,50.8M68.6,38.9L70.5,37.1M152.4,77.9L155.0,77.2M51.2,102.8L54.7,102.0M128.7,77.2L132.0,76.2M15.9,15.7L20.9,13.4M95.7,146.8L98.0,145.7M78.3,125.4L80.9,123.6M53.6,52.0L56.8,48.2M66.0,34.0L67.7,32.7M103.0,75.3L105.5,74.8M33.7,94.8L36.3,93.1M119.1,87.5L123.3,85.3M7.0,72.6L10.4,69.3M156.1,125.9L159.3,124.3M5.9,74.3L8.7,72.7M68.3,156.6L70.8,154.8M73.6,155.9L76.2,153.0M162.9,89.7L165.6,87.7M156.7,115.5L159.2,114.9M4.1,56.0L7.6,53.9M32.2,24.2L34.4,22.7M118.2,61.3L120.7,58.9M135.5,93.5L138.5,90.3M150.5,67.1L154.1,63.9M164.0,160.9L166.9,159.5M71.1,118.6L74.7,115.5M24.4,32.3L26.7,30.0M150.6,140.3L153.2,137.3M22.7,98.0L26.5,93.6M75.7,32.2L78.4,30.4M80.3,70.2L83.5,69.5M12.2,93.4L15.2,91.7M158.8,140.5L161.0,139.0M144.9,133.6L148.4,132.8M39.0,89.0L43.3,86.6" stroke="#c8dce8" stroke-width="0.6" stroke-linecap="round" opacity="0.5" fill="none"/><g fill="#7a2040" opacity="0.6"><circle cx="78.5" cy="63.5" r="0.58"/><circle cx="85.0" cy="148.5" r="0.55"/><circle cx="9.7" cy="64.4" r="0.92"/><circle cx="76.7" cy="120.5" r="0.59"/><circle cx="41.8" cy="21.0" r="0.80"/><circle cx="153.6" cy="98.6" r="0.96"/><circle cx="65.5" cy="123.9" r="0.56"/><circle cx="50.5" cy="112.2" r="0.94"/><circle cx="71.7" cy="17.2" r="0.66"/><circle cx="147.5" cy="145.5" r="0.53"/><circle cx="6.8" cy="71.8" r="1.04"/><circle cx="21.3" cy="99.7" r="0.57"/><circle cx="97.3" cy="148.0" r="0.62"/><circle cx="4.3" cy="16.5" r="0.82"/><circle cx="5.8" cy="16.7" r="0.80"/><circle cx="153.1" cy="71.1" r="0.74"/><circle cx="102.2" cy="158.2" r="0.53"/><circle cx="165.2" cy="164.7" r="0.57"/><circle cx="118.0" cy="157.0" r="0.64"/><circle cx="62.6" cy="112.2" r="0.85"/><circle cx="59.6" cy="143.0" r="0.85"/><circle cx="76.6" cy="68.2" r="1.09"/><circle cx="133.3" cy="56.3" r="0.76"/><circle cx="37.8" cy="74.9" r="0.69"/><circle cx="134.6" cy="83.6" r="0.93"/><circle cx="43.5" cy="122.5" r="0.76"/><circle cx="68.3" cy="63.4" r="1.02"/><circle cx="63.2" cy="111.1" r="0.60"/><circle cx="163.7" cy="101.3" r="0.51"/><circle cx="12.9" cy="36.8" r="0.73"/><circle cx="102.7" cy="159.6" r="0.71"/><circle cx="25.9" cy="94.0" r="0.58"/><circle cx="17.1" cy="93.1" r="0.92"/><circle cx="13.7" cy="76.1" r="0.92"/><circle cx="127.6" cy="65.0" r="1.03"/><circle cx="10.9" cy="88.7" r="0.60"/><circle cx="5.1" cy="31.5" r="0.77"/><circle cx="94.2" cy="65.9" r="0.60"/><circle cx="81.6" cy="156.3" r="0.82"/><circle cx="164.9" cy="147.0" r="0.83"/><circle cx="52.0" cy="120.4" r="0.93"/><circle cx="101.3" cy="63.4" r="1.03"/><circle cx="40.7" cy="136.3" r="0.94"/><circle cx="104.9" cy="144.9" r="0.52"/><circle cx="113.5" cy="68.9" r="0.54"/><circle cx="33.8" cy="101.5" r="0.61"/><circle cx="13.6" cy="60.5" r="0.78"/><circle cx="129.4" cy="57.1" r="0.97"/><circle cx="99.2" cy="161.2" r="1.09"/><circle cx="59.8" cy="40.5" r="0.97"/><circle cx="34.3" cy="38.8" r="0.57"/><circle cx="123.8" cy="78.7" r="0.81"/><circle cx="63.2" cy="105.8" r="0.64"/><circle cx="44.8" cy="86.9" r="0.62"/><circle cx="74.6" cy="155.9" r="0.51"/><circle cx="12.4" cy="43.7" r="1.01"/><circle cx="101.7" cy="38.8" r="0.54"/><circle cx="133.4" cy="161.0" r="0.97"/><circle cx="150.0" cy="153.8" r="1.03"/><circle cx="153.0" cy="159.7" r="0.56"/></g><g fill="#6a7a60" opacity="0.5"><circle cx="82.4" cy="90.6" r="0.69"/><circle cx="112.2" cy="115.5" r="0.48"/><circle cx="76.4" cy="79.4" r="0.52"/><circle cx="86.2" cy="85.4" r="0.54"/><circle cx="94.6" cy="93.7" r="0.74"/><circle cx="129.4" cy="111.1" r="0.42"/><circle cx="33.5" cy="67.9" r="0.61"/><circle cx="111.5" cy="116.0" r="0.67"/><circle cx="81.9" cy="84.5" r="0.70"/><circle cx="26.4" cy="61.5" r="0.80"/><circle cx="126.8" cy="91.1" r="0.61"/><circle cx="44.0" cy="73.5" r="0.71"/><circle cx="36.1" cy="56.3" r="0.63"/><circle cx="111.9" cy="129.3" r="0.64"/><circle cx="54.1" cy="78.5" r="0.44"/><circle cx="76.4" cy="109.8" r="0.43"/><circle cx="72.7" cy="94.2" r="0.60"/><circle cx="78.6" cy="97.4" r="0.48"/><circle cx="21.0" cy="53.3" r="0.45"/><circle cx="72.2" cy="93.9" r="0.62"/><circle cx="74.1" cy="92.6" r="0.76"/><circle cx="121.0" cy="120.5" r="0.61"/><circle cx="33.1" cy="69.3" r="0.71"/><circle cx="96.1" cy="114.3" r="0.69"/><circle cx="112.9" cy="96.2" r="0.80"/><circle cx="116.3" cy="122.7" r="0.84"/><circle cx="24.4" cy="64.6" r="0.50"/><circle cx="119.7" cy="94.5" r="0.77"/><circle cx="97.0" cy="101.0" r="0.61"/><circle cx="93.4" cy="104.7" r="0.53"/><circle cx="117.8" cy="115.4" r="0.44"/><circle cx="97.0" cy="99.2" r="0.65"/><circle cx="71.9" cy="92.6" r="0.64"/><circle cx="99.9" cy="131.9" r="0.60"/><circle cx="132.1" cy="123.0" r="0.43"/><circle cx="115.0" cy="135.8" r="0.41"/><circle cx="53.7" cy="78.8" r="0.77"/><circle cx="37.0" cy="61.7" r="0.45"/><circle cx="82.5" cy="91.8" r="0.89"/><circle cx="82.8" cy="101.0" r="0.80"/><circle cx="35.2" cy="60.5" r="0.70"/><circle cx="75.3" cy="81.8" r="0.60"/><circle cx="83.2" cy="81.6" r="0.47"/><circle cx="117.1" cy="121.4" r="0.70"/><circle cx="80.9" cy="93.9" r="0.50"/><circle cx="89.8" cy="106.3" r="0.89"/><circle cx="57.5" cy="63.6" r="0.87"/><circle cx="65.6" cy="81.3" r="0.50"/><circle cx="103.8" cy="95.0" r="0.79"/><circle cx="118.8" cy="107.5" r="0.61"/><circle cx="51.7" cy="75.2" r="0.72"/><circle cx="122.1" cy="111.8" r="0.70"/><circle cx="90.2" cy="95.6" r="0.69"/><circle cx="62.1" cy="67.2" r="0.58"/><circle cx="116.8" cy="102.0" r="0.44"/><circle cx="123.4" cy="123.7" r="0.58"/><circle cx="35.2" cy="65.8" r="0.54"/><circle cx="84.0" cy="89.5" r="0.68"/><circle cx="18.3" cy="49.1" r="0.79"/><circle cx="89.0" cy="97.3" r="0.75"/><circle cx="46.3" cy="62.5" r="0.63"/><circle cx="33.1" cy="51.7" r="0.66"/><circle cx="31.6" cy="54.6" r="0.46"/><circle cx="98.2" cy="132.5" r="0.80"/><circle cx="82.9" cy="113.5" r="0.78"/><circle cx="99.1" cy="113.4" r="0.70"/><circle cx="91.3" cy="102.4" r="0.51"/><circle cx="86.9" cy="93.1" r="0.85"/><circle cx="112.4" cy="128.8" r="0.57"/><circle cx="72.8" cy="86.2" r="0.63"/><circle cx="47.3" cy="66.5" r="0.66"/><circle cx="92.1" cy="105.5" r="0.88"/><circle cx="90.7" cy="78.1" r="0.87"/><circle cx="76.6" cy="85.2" r="0.79"/><circle cx="107.9" cy="144.4" r="0.76"/><circle cx="124.8" cy="91.3" r="0.73"/><circle cx="113.4" cy="144.8" r="0.76"/><circle cx="25.7" cy="50.5" r="0.58"/><circle cx="68.8" cy="77.6" r="0.77"/><circle cx="105.1" cy="87.4" r="0.75"/><circle cx="43.5" cy="60.3" r="0.59"/><circle cx="116.8" cy="109.4" r="0.74"/><circle cx="115.7" cy="108.7" r="0.47"/><circle cx="92.5" cy="93.6" r="0.83"/><circle cx="36.1" cy="62.0" r="0.59"/><circle cx="72.2" cy="82.5" r="0.40"/><circle cx="94.6" cy="98.7" r="0.79"/><circle cx="99.3" cy="94.0" r="0.84"/><circle cx="112.5" cy="104.1" r="0.69"/><circle cx="126.4" cy="126.6" r="0.83"/><circle cx="111.2" cy="86.7" r="0.41"/><circle cx="99.0" cy="120.2" r="0.55"/><circle cx="92.5" cy="93.0" r="0.51"/><circle cx="73.9" cy="94.9" r="0.55"/><circle cx="79.2" cy="113.0" r="0.81"/><circle cx="50.8" cy="69.0" r="0.59"/><circle cx="68.6" cy="82.1" r="0.61"/><circle cx="33.2" cy="47.6" r="0.73"/><circle cx="106.9" cy="120.5" r="0.70"/><circle cx="83.5" cy="104.0" r="0.56"/><circle cx="61.5" cy="86.2" r="0.80"/><circle cx="115.3" cy="97.5" r="0.84"/><circle cx="102.8" cy="116.1" r="0.90"/><circle cx="113.5" cy="96.4" r="0.76"/><circle cx="104.1" cy="132.7" r="0.80"/><circle cx="92.6" cy="125.0" r="0.76"/><circle cx="90.3" cy="103.0" r="0.70"/><circle cx="123.4" cy="130.6" r="0.75"/><circle cx="121.3" cy="139.7" r="0.56"/><circle cx="116.6" cy="141.4" r="0.69"/><circle cx="25.9" cy="49.5" r="0.76"/><circle cx="46.9" cy="73.8" r="0.75"/><circle cx="104.3" cy="102.4" r="0.81"/><circle cx="111.0" cy="120.8" r="0.86"/><circle cx="104.0" cy="93.0" r="0.46"/><circle cx="22.8" cy="51.7" r="0.72"/><circle cx="46.8" cy="60.1" r="0.83"/><circle cx="112.1" cy="142.5" r="0.73"/><circle cx="118.2" cy="88.6" r="0.67"/><circle cx="102.7" cy="107.1" r="0.58"/><circle cx="84.9" cy="94.6" r="0.57"/><circle cx="62.8" cy="73.5" r="0.48"/><circle cx="121.3" cy="118.6" r="0.74"/><circle cx="115.0" cy="114.8" r="0.77"/><circle cx="95.3" cy="106.7" r="0.53"/><circle cx="83.7" cy="95.2" r="0.49"/><circle cx="112.5" cy="131.3" r="0.59"/><circle cx="52.9" cy="73.4" r="0.57"/><circle cx="80.3" cy="114.1" r="0.57"/><circle cx="84.8" cy="120.2" r="0.48"/><circle cx="37.2" cy="49.1" r="0.79"/><circle cx="80.8" cy="99.5" r="0.86"/><circle cx="116.9" cy="136.9" r="0.48"/><circle cx="98.9" cy="85.2" r="0.57"/><circle cx="32.3" cy="57.6" r="0.54"/><circle cx="102.6" cy="97.3" r="0.77"/><circle cx="87.8" cy="106.6" r="0.50"/><circle cx="70.7" cy="76.5" r="0.88"/><circle cx="115.2" cy="104.8" r="0.87"/><circle cx="35.1" cy="47.9" r="0.51"/><circle cx="41.8" cy="50.8" r="0.82"/><circle cx="97.7" cy="135.3" r="0.73"/><circle cx="119.1" cy="94.8" r="0.56"/><circle cx="122.6" cy="125.1" r="0.88"/><circle cx="78.2" cy="110.5" r="0.67"/><circle cx="92.7" cy="103.5" r="0.81"/><circle cx="115.0" cy="123.3" r="0.86"/><circle cx="68.2" cy="68.0" r="0.67"/><circle cx="84.3" cy="91.5" r="0.41"/><circle cx="27.7" cy="63.7" r="0.86"/><circle cx="114.7" cy="116.5" r="0.43"/><circle cx="42.7" cy="50.5" r="0.74"/><circle cx="109.0" cy="113.0" r="0.44"/><circle cx="105.2" cy="127.8" r="0.59"/><circle cx="46.3" cy="51.3" r="0.70"/><circle cx="50.3" cy="68.9" r="0.62"/><circle cx="53.2" cy="75.6" r="0.62"/><circle cx="66.3" cy="91.3" r="0.53"/><circle cx="103.9" cy="142.4" r="0.68"/><circle cx="100.1" cy="132.9" r="0.54"/></g></g>
</g>
<rect x="1.1" y="1.1" width="165.3" height="165.3" fill="none" stroke="#000" stroke-width="2.2"/>
</g>
<clipPath id="h21"><rect x="0" y="0" width="167.5" height="167"/></clipPath>
<g transform="translate(513.3,196)"><g clip-path="url(#h21)">
<rect x="0" y="0" width="167.5" height="167" fill="#ecebe5"/>
<g filter="url(#tex)"><path d="M29.0,3.0 C29.8,-3.0 11.7,-2.8 29.0,-4.0 C46.3,-5.2 115.7,-5.2 133.0,-4.0 C150.3,-2.8 132.7,-1.7 133.0,3.0 C133.3,7.7 133.8,16.5 135.0,24.0 C136.2,31.5 137.2,42.0 140.0,48.0 C142.8,54.0 148.3,55.3 152.0,60.0 C155.7,64.7 160.2,70.2 162.0,76.0 C163.8,81.8 163.3,87.8 163.0,95.0 C162.7,102.2 161.8,112.3 160.0,119.0 C158.2,125.7 156.2,130.2 152.0,135.0 C147.8,139.8 141.8,144.3 135.0,148.0 C128.2,151.7 117.7,154.2 111.0,157.0 C104.3,159.8 98.5,162.5 95.0,165.0 C91.5,167.5 105.8,170.8 90.0,172.0 C74.2,173.2 14.5,178.2 0.0,172.0 C-14.5,165.8 2.2,145.2 3.0,135.0 C3.8,124.8 3.8,117.2 5.0,111.0 C6.2,104.8 9.0,102.0 10.0,98.0 C11.0,94.0 10.0,90.7 11.0,87.0 C12.0,83.3 13.8,78.8 16.0,76.0 C18.2,73.2 21.3,72.2 24.0,70.0 C26.7,67.8 31.5,66.2 32.0,63.0 C32.5,59.8 28.3,56.2 27.0,51.0 C25.7,45.8 23.7,40.0 24.0,32.0 C24.3,24.0 28.2,9.0 29.0,3.0 Z" fill="#8078ac" /><path d="M24.0,-4.0 C30.0,-10.0 53.7,-8.0 60.0,-4.0 C66.3,0.0 62.3,12.7 62.0,20.0 C61.7,27.3 60.7,34.0 58.0,40.0 C55.3,46.0 50.0,52.0 46.0,56.0 C42.0,60.0 37.2,64.8 34.0,64.0 C30.8,63.2 28.7,56.3 27.0,51.0 C25.3,45.7 24.5,41.2 24.0,32.0 C23.5,22.8 18.0,2.0 24.0,-4.0 Z" fill="#b4a8c8" /><path d="M30.0,20.0 C31.5,13.7 40.7,12.3 45.0,14.0 C49.3,15.7 55.5,24.3 56.0,30.0 C56.5,35.7 51.3,44.3 48.0,48.0 C44.7,51.7 39.0,56.7 36.0,52.0 C33.0,47.3 28.5,26.3 30.0,20.0 Z" fill="#d8d6e0" opacity="0.7"/><path d="M135.0,30.0 C136.7,26.7 147.5,51.7 152.0,60.0 C156.5,68.3 160.3,71.7 162.0,80.0 C163.7,88.3 164.0,101.7 162.0,110.0 C160.0,118.3 153.7,128.3 150.0,130.0 C146.3,131.7 141.3,128.3 140.0,120.0 C138.7,111.7 142.8,95.0 142.0,80.0 C141.2,65.0 133.3,33.3 135.0,30.0 Z" fill="#9a4a8c" opacity="0.35" filter="url(#blur2)"/><path d="M60.0,10.0 C66.7,1.7 84.2,5.0 90.0,10.0 C95.8,15.0 96.7,30.0 95.0,40.0 C93.3,50.0 85.8,63.3 80.0,70.0 C74.2,76.7 65.0,81.7 60.0,80.0 C55.0,78.3 50.0,71.7 50.0,60.0 C50.0,48.3 53.3,18.3 60.0,10.0 Z" fill="#9a4a8c" opacity="0.3" filter="url(#blur2)"/><path d="M103.0,16.0 C103.0,10.0 106.2,10.0 108.0,16.0 C109.8,22.0 111.8,42.8 114.0,52.0 C116.2,61.2 117.5,64.8 121.0,71.0 C124.5,77.2 135.0,85.0 135.0,89.0 C135.0,93.0 124.0,91.8 121.0,95.0 C118.0,98.2 120.5,107.5 117.0,108.0 C113.5,108.5 102.3,104.3 100.0,98.0 C97.7,91.7 101.7,77.7 103.0,70.0 C104.3,62.3 108.0,61.0 108.0,52.0 C108.0,43.0 103.0,22.0 103.0,16.0 Z" fill="#f0efec" /><path d="M100.0,102.0 C96.7,103.7 86.7,108.7 80.0,112.0 C73.3,115.3 66.7,119.0 60.0,122.0 C53.3,125.0 43.8,128.3 40.0,130.0 C36.2,131.7 37.5,131.7 37.0,132.0 " fill="none" stroke="#f0efec" stroke-width="3" stroke-linecap="round" /><path d="M42.0,58.0 C43.8,56.3 49.7,55.0 52.0,56.0 C54.3,57.0 56.7,61.7 56.0,64.0 C55.3,66.3 50.5,69.7 48.0,70.0 C45.5,70.3 42.0,68.0 41.0,66.0 C40.0,64.0 40.2,59.7 42.0,58.0 Z" fill="#7a1a50" opacity="0.8"/><g fill="#a02a78" opacity="0.7"><circle cx="129.9" cy="136.2" r="0.89"/><circle cx="44.9" cy="3.1" r="1.03"/><circle cx="78.2" cy="126.1" r="0.80"/><circle cx="126.2" cy="47.2" r="1.14"/><circle cx="89.1" cy="113.5" r="0.65"/><circle cx="91.6" cy="133.4" r="0.71"/><circle cx="131.5" cy="114.1" r="1.18"/><circle cx="56.7" cy="18.1" r="1.14"/><circle cx="131.8" cy="75.1" r="0.58"/><circle cx="34.5" cy="105.9" r="0.73"/><circle cx="155.2" cy="98.3" r="0.66"/><circle cx="85.3" cy="107.4" r="1.06"/><circle cx="99.3" cy="52.3" r="0.97"/><circle cx="17.3" cy="145.6" r="0.92"/><circle cx="21.7" cy="110.4" r="0.75"/><circle cx="34.4" cy="81.4" r="0.61"/><circle cx="36.6" cy="143.2" r="1.06"/><circle cx="5.0" cy="129.0" r="0.51"/><circle cx="56.3" cy="149.5" r="1.00"/><circle cx="52.0" cy="64.1" r="0.81"/><circle cx="23.3" cy="165.0" r="0.54"/><circle cx="70.7" cy="123.9" r="0.82"/><circle cx="110.2" cy="147.1" r="0.86"/><circle cx="136.0" cy="132.0" r="0.91"/><circle cx="78.3" cy="117.3" r="0.83"/><circle cx="16.7" cy="123.9" r="0.71"/><circle cx="81.0" cy="130.0" r="0.64"/><circle cx="97.3" cy="61.5" r="0.71"/><circle cx="75.2" cy="153.3" r="0.70"/><circle cx="68.7" cy="145.4" r="0.99"/><circle cx="45.9" cy="79.9" r="0.88"/><circle cx="51.9" cy="133.4" r="0.76"/><circle cx="150.7" cy="63.9" r="0.98"/><circle cx="54.2" cy="67.5" r="0.89"/><circle cx="49.5" cy="4.0" r="0.86"/><circle cx="126.8" cy="21.2" r="1.07"/><circle cx="60.9" cy="155.0" r="1.18"/><circle cx="154.6" cy="102.4" r="0.84"/><circle cx="128.2" cy="134.8" r="0.89"/><circle cx="78.0" cy="19.2" r="0.79"/><circle cx="26.2" cy="104.3" r="0.99"/><circle cx="26.1" cy="104.7" r="0.58"/><circle cx="19.9" cy="107.6" r="0.87"/><circle cx="146.9" cy="104.9" r="1.06"/><circle cx="23.3" cy="137.9" r="0.57"/><circle cx="101.9" cy="150.6" r="1.23"/><circle cx="145.9" cy="76.2" r="1.06"/><circle cx="129.6" cy="25.2" r="1.25"/><circle cx="148.4" cy="74.4" r="1.12"/><circle cx="74.5" cy="47.8" r="1.07"/><circle cx="13.2" cy="132.6" r="1.28"/><circle cx="48.8" cy="155.2" r="0.57"/><circle cx="140.3" cy="48.3" r="1.27"/><circle cx="71.9" cy="152.4" r="0.53"/><circle cx="16.7" cy="135.3" r="1.01"/><circle cx="88.7" cy="8.3" r="0.64"/><circle cx="62.3" cy="11.4" r="1.29"/><circle cx="15.4" cy="121.5" r="0.59"/><circle cx="90.5" cy="78.2" r="0.90"/><circle cx="86.2" cy="7.9" r="0.92"/><circle cx="27.0" cy="48.6" r="0.62"/><circle cx="93.9" cy="65.9" r="0.68"/><circle cx="38.5" cy="94.4" r="1.23"/><circle cx="70.1" cy="29.4" r="0.75"/><circle cx="41.5" cy="95.7" r="1.13"/><circle cx="94.0" cy="33.5" r="0.76"/><circle cx="64.0" cy="74.4" r="0.82"/><circle cx="162.6" cy="92.3" r="1.03"/><circle cx="117.6" cy="107.5" r="1.14"/><circle cx="62.6" cy="111.0" r="1.28"/><circle cx="29.3" cy="104.3" r="0.81"/><circle cx="124.4" cy="21.6" r="1.07"/><circle cx="128.8" cy="39.5" r="0.95"/><circle cx="78.4" cy="120.3" r="1.19"/><circle cx="30.0" cy="110.1" r="0.60"/><circle cx="21.0" cy="162.3" r="0.54"/><circle cx="150.2" cy="124.5" r="1.04"/><circle cx="119.7" cy="108.5" r="0.73"/><circle cx="73.9" cy="35.7" r="1.19"/><circle cx="127.6" cy="130.6" r="0.67"/><circle cx="97.8" cy="44.3" r="1.13"/><circle cx="116.3" cy="113.8" r="1.12"/><circle cx="18.0" cy="99.4" r="0.53"/><circle cx="61.7" cy="22.0" r="1.26"/><circle cx="7.5" cy="152.3" r="1.26"/><circle cx="72.7" cy="137.9" r="0.54"/><circle cx="97.5" cy="47.3" r="0.61"/><circle cx="70.1" cy="32.5" r="1.28"/><circle cx="64.4" cy="99.2" r="0.95"/><circle cx="46.2" cy="25.2" r="1.21"/><circle cx="33.8" cy="75.6" r="1.15"/><circle cx="95.2" cy="156.6" r="1.15"/><circle cx="85.2" cy="22.4" r="0.97"/><circle cx="78.8" cy="142.6" r="0.92"/><circle cx="114.1" cy="134.5" r="0.88"/><circle cx="27.7" cy="151.9" r="1.20"/><circle cx="139.8" cy="57.7" r="0.70"/><circle cx="139.8" cy="61.8" r="0.50"/><circle cx="51.8" cy="16.4" r="1.00"/><circle cx="23.1" cy="150.5" r="1.17"/><circle cx="86.2" cy="157.6" r="0.92"/><circle cx="61.3" cy="164.1" r="1.17"/><circle cx="97.7" cy="143.5" r="1.02"/><circle cx="130.6" cy="13.8" r="0.61"/><circle cx="20.5" cy="100.7" r="1.08"/><circle cx="27.8" cy="84.8" r="0.59"/><circle cx="113.0" cy="129.2" r="0.57"/><circle cx="159.8" cy="110.7" r="0.60"/><circle cx="59.2" cy="28.6" r="1.08"/><circle cx="32.4" cy="104.9" r="1.19"/><circle cx="20.7" cy="102.5" r="0.86"/><circle cx="131.6" cy="95.6" r="1.09"/><circle cx="158.4" cy="104.4" r="1.23"/><circle cx="46.8" cy="3.2" r="1.21"/><circle cx="7.8" cy="164.0" r="0.86"/><circle cx="102.8" cy="19.5" r="1.17"/><circle cx="62.7" cy="137.9" r="0.62"/><circle cx="67.7" cy="6.1" r="0.93"/><circle cx="74.3" cy="5.0" r="1.30"/><circle cx="158.1" cy="112.9" r="0.88"/><circle cx="115.8" cy="131.7" r="1.29"/><circle cx="140.9" cy="73.9" r="0.70"/><circle cx="89.7" cy="59.0" r="0.94"/><circle cx="144.5" cy="76.4" r="1.28"/><circle cx="117.9" cy="10.4" r="1.10"/><circle cx="108.8" cy="103.8" r="0.50"/><circle cx="143.6" cy="83.2" r="0.93"/><circle cx="30.2" cy="8.7" r="0.51"/><circle cx="36.6" cy="52.3" r="0.62"/><circle cx="12.3" cy="120.8" r="1.06"/><circle cx="17.4" cy="144.8" r="0.79"/><circle cx="32.6" cy="32.7" r="1.24"/><circle cx="38.3" cy="65.3" r="0.94"/><circle cx="60.5" cy="109.3" r="0.57"/><circle cx="71.8" cy="97.7" r="1.00"/><circle cx="100.4" cy="46.6" r="1.01"/><circle cx="158.6" cy="81.2" r="1.02"/><circle cx="136.9" cy="43.9" r="0.71"/><circle cx="71.2" cy="63.1" r="1.29"/><circle cx="90.2" cy="148.2" r="0.63"/><circle cx="47.4" cy="108.3" r="0.75"/><circle cx="73.2" cy="89.4" r="0.64"/><circle cx="45.1" cy="3.2" r="0.71"/><circle cx="52.5" cy="65.9" r="0.97"/><circle cx="139.4" cy="119.2" r="1.09"/><circle cx="48.3" cy="83.3" r="1.08"/><circle cx="85.5" cy="144.3" r="0.62"/><circle cx="128.4" cy="106.9" r="1.19"/><circle cx="130.0" cy="24.9" r="0.59"/><circle cx="66.8" cy="82.2" r="0.56"/><circle cx="47.1" cy="31.4" r="0.61"/><circle cx="37.8" cy="56.0" r="0.84"/><circle cx="81.0" cy="55.3" r="0.99"/><circle cx="33.9" cy="31.7" r="0.59"/><circle cx="110.1" cy="25.6" r="0.68"/><circle cx="59.3" cy="94.4" r="1.02"/><circle cx="97.8" cy="99.6" r="0.65"/><circle cx="149.0" cy="122.4" r="0.83"/><circle cx="66.4" cy="96.5" r="0.60"/><circle cx="106.1" cy="149.3" r="0.79"/><circle cx="82.8" cy="44.0" r="1.23"/><circle cx="63.3" cy="61.4" r="1.07"/><circle cx="62.6" cy="149.6" r="0.83"/><circle cx="97.2" cy="52.4" r="0.97"/><circle cx="78.6" cy="19.9" r="1.21"/><circle cx="28.7" cy="96.3" r="1.04"/><circle cx="78.0" cy="56.1" r="0.86"/><circle cx="144.6" cy="101.4" r="0.88"/><circle cx="105.1" cy="106.6" r="1.16"/><circle cx="159.2" cy="86.5" r="0.78"/><circle cx="61.0" cy="150.5" r="0.88"/><circle cx="14.3" cy="98.0" r="0.59"/><circle cx="58.5" cy="108.4" r="0.99"/><circle cx="88.8" cy="137.4" r="0.99"/><circle cx="45.3" cy="129.6" r="0.79"/><circle cx="154.2" cy="103.3" r="0.83"/><circle cx="31.0" cy="140.4" r="0.78"/><circle cx="5.5" cy="133.1" r="0.51"/><circle cx="80.4" cy="154.5" r="0.88"/><circle cx="35.9" cy="164.4" r="0.59"/><circle cx="60.1" cy="62.9" r="0.80"/><circle cx="123.9" cy="106.3" r="0.72"/><circle cx="33.5" cy="135.2" r="0.95"/><circle cx="83.3" cy="35.5" r="1.28"/><circle cx="87.6" cy="151.8" r="1.04"/><circle cx="105.2" cy="7.0" r="1.23"/><circle cx="16.1" cy="112.4" r="1.03"/><circle cx="33.9" cy="163.5" r="0.58"/><circle cx="94.0" cy="81.1" r="0.76"/><circle cx="125.7" cy="127.9" r="0.51"/><circle cx="55.2" cy="90.9" r="0.74"/><circle cx="99.0" cy="7.7" r="0.58"/><circle cx="84.9" cy="37.8" r="0.67"/><circle cx="69.1" cy="99.3" r="1.02"/><circle cx="98.8" cy="83.7" r="0.85"/><circle cx="115.3" cy="48.8" r="0.74"/><circle cx="67.1" cy="8.3" r="0.85"/><circle cx="34.4" cy="40.7" r="0.84"/><circle cx="123.9" cy="108.7" r="0.75"/><circle cx="60.3" cy="69.2" r="0.73"/><circle cx="27.6" cy="159.8" r="0.98"/><circle cx="83.2" cy="105.0" r="0.51"/><circle cx="13.5" cy="89.6" r="0.87"/><circle cx="51.8" cy="159.8" r="1.17"/><circle cx="59.0" cy="25.2" r="0.73"/><circle cx="46.2" cy="129.5" r="0.60"/><circle cx="162.0" cy="96.7" r="1.23"/><circle cx="41.8" cy="104.2" r="0.67"/><circle cx="14.0" cy="162.2" r="0.52"/><circle cx="59.5" cy="54.3" r="0.66"/><circle cx="140.0" cy="125.2" r="0.81"/><circle cx="93.2" cy="137.4" r="0.55"/><circle cx="107.9" cy="141.1" r="0.98"/><circle cx="86.8" cy="43.2" r="0.63"/><circle cx="31.3" cy="60.9" r="0.73"/><circle cx="127.8" cy="28.9" r="0.60"/><circle cx="130.7" cy="76.3" r="0.59"/><circle cx="133.5" cy="9.4" r="0.80"/><circle cx="67.9" cy="86.9" r="0.69"/><circle cx="151.4" cy="97.1" r="0.76"/><circle cx="92.7" cy="99.7" r="0.70"/><circle cx="152.3" cy="71.7" r="0.91"/><circle cx="20.1" cy="85.9" r="0.77"/><circle cx="101.0" cy="114.2" r="0.58"/><circle cx="14.6" cy="148.1" r="0.66"/><circle cx="111.5" cy="121.3" r="1.13"/><circle cx="4.2" cy="146.3" r="1.06"/><circle cx="116.0" cy="127.5" r="0.99"/><circle cx="35.1" cy="28.9" r="0.51"/><circle cx="108.5" cy="110.6" r="1.29"/><circle cx="42.2" cy="26.5" r="0.80"/><circle cx="143.9" cy="106.3" r="1.11"/><circle cx="21.5" cy="133.3" r="0.82"/><circle cx="121.7" cy="10.8" r="0.74"/><circle cx="93.6" cy="47.1" r="0.93"/><circle cx="104.5" cy="56.3" r="1.28"/><circle cx="61.5" cy="52.4" r="0.82"/><circle cx="105.1" cy="54.1" r="1.28"/><circle cx="35.0" cy="97.9" r="1.20"/><circle cx="46.1" cy="40.8" r="0.91"/><circle cx="138.9" cy="140.6" r="1.19"/><circle cx="117.1" cy="15.6" r="1.24"/><circle cx="83.9" cy="5.8" r="0.53"/><circle cx="33.9" cy="162.2" r="0.72"/><circle cx="38.6" cy="20.0" r="0.67"/><circle cx="105.2" cy="114.9" r="0.76"/><circle cx="127.8" cy="14.5" r="0.52"/><circle cx="61.1" cy="109.8" r="1.18"/><circle cx="158.2" cy="102.1" r="0.85"/><circle cx="11.3" cy="95.2" r="1.23"/><circle cx="129.0" cy="79.0" r="1.01"/><circle cx="49.8" cy="3.2" r="0.74"/><circle cx="131.6" cy="63.4" r="0.59"/><circle cx="118.6" cy="35.5" r="0.78"/><circle cx="68.1" cy="55.2" r="1.09"/><circle cx="33.7" cy="134.6" r="0.87"/><circle cx="71.7" cy="56.5" r="1.23"/><circle cx="41.7" cy="70.3" r="0.71"/><circle cx="112.0" cy="134.8" r="0.75"/><circle cx="73.4" cy="135.3" r="0.54"/></g><g fill="#e8e4f0" opacity="0.6"><circle cx="54.8" cy="27.4" r="0.73"/><circle cx="14.6" cy="89.8" r="0.58"/><circle cx="12.3" cy="85.2" r="0.42"/><circle cx="72.4" cy="14.3" r="0.45"/><circle cx="70.9" cy="137.0" r="0.46"/><circle cx="38.7" cy="104.6" r="0.87"/><circle cx="95.3" cy="67.3" r="0.89"/><circle cx="10.5" cy="142.1" r="0.54"/><circle cx="26.1" cy="22.1" r="0.55"/><circle cx="133.6" cy="32.3" r="0.69"/><circle cx="90.6" cy="13.2" r="0.43"/><circle cx="36.0" cy="113.2" r="0.61"/><circle cx="53.3" cy="97.9" r="0.63"/><circle cx="51.0" cy="131.7" r="0.75"/><circle cx="42.1" cy="96.1" r="0.66"/><circle cx="143.0" cy="121.2" r="0.54"/><circle cx="69.9" cy="125.7" r="0.48"/><circle cx="81.2" cy="9.4" r="0.73"/><circle cx="125.3" cy="95.8" r="0.84"/><circle cx="53.2" cy="115.6" r="0.70"/><circle cx="95.8" cy="76.9" r="0.82"/><circle cx="154.1" cy="79.8" r="0.73"/><circle cx="12.7" cy="116.6" r="0.72"/><circle cx="48.5" cy="65.5" r="0.73"/><circle cx="29.9" cy="22.0" r="0.43"/><circle cx="125.9" cy="24.0" r="0.52"/><circle cx="65.6" cy="144.2" r="0.44"/><circle cx="74.9" cy="92.0" r="0.84"/><circle cx="134.1" cy="143.0" r="0.54"/><circle cx="69.4" cy="61.1" r="0.84"/><circle cx="31.2" cy="40.6" r="0.52"/><circle cx="80.6" cy="98.4" r="0.53"/><circle cx="62.1" cy="94.7" r="0.88"/><circle cx="101.8" cy="112.5" r="0.43"/><circle cx="146.9" cy="129.4" r="0.84"/><circle cx="130.7" cy="66.6" r="0.60"/><circle cx="19.6" cy="105.8" r="0.43"/><circle cx="27.2" cy="19.4" r="0.58"/><circle cx="7.1" cy="144.6" r="0.71"/><circle cx="26.8" cy="43.9" r="0.57"/><circle cx="61.3" cy="22.9" r="0.82"/><circle cx="161.9" cy="78.5" r="0.64"/><circle cx="57.8" cy="45.9" r="0.81"/><circle cx="28.8" cy="6.7" r="0.88"/><circle cx="87.5" cy="26.7" r="0.67"/><circle cx="114.4" cy="45.3" r="0.58"/><circle cx="29.7" cy="128.1" r="0.67"/><circle cx="127.6" cy="56.4" r="0.51"/><circle cx="139.4" cy="133.6" r="0.81"/><circle cx="121.4" cy="39.7" r="0.66"/><circle cx="59.9" cy="7.7" r="0.41"/><circle cx="47.7" cy="45.0" r="0.75"/><circle cx="156.0" cy="75.5" r="0.87"/><circle cx="61.3" cy="38.7" r="0.51"/><circle cx="34.5" cy="36.1" r="0.71"/><circle cx="79.7" cy="108.8" r="0.80"/><circle cx="16.6" cy="110.0" r="0.85"/><circle cx="128.2" cy="124.5" r="0.64"/><circle cx="31.6" cy="130.8" r="0.57"/><circle cx="66.3" cy="68.0" r="0.87"/><circle cx="119.0" cy="30.5" r="0.46"/><circle cx="27.2" cy="149.6" r="0.80"/><circle cx="26.4" cy="136.9" r="0.89"/><circle cx="90.8" cy="24.2" r="0.41"/><circle cx="158.3" cy="108.2" r="0.66"/><circle cx="152.4" cy="73.3" r="0.84"/><circle cx="135.2" cy="37.2" r="0.53"/><circle cx="49.9" cy="42.0" r="0.69"/><circle cx="44.5" cy="70.9" r="0.47"/><circle cx="148.6" cy="60.3" r="0.63"/><circle cx="96.3" cy="149.5" r="0.61"/><circle cx="149.8" cy="84.3" r="0.67"/><circle cx="86.8" cy="6.0" r="0.62"/><circle cx="32.3" cy="3.6" r="0.80"/><circle cx="30.6" cy="79.7" r="0.76"/><circle cx="92.0" cy="55.8" r="0.66"/><circle cx="91.9" cy="130.1" r="0.45"/><circle cx="92.6" cy="43.3" r="0.54"/><circle cx="92.9" cy="126.1" r="0.86"/><circle cx="73.9" cy="102.2" r="0.65"/><circle cx="84.9" cy="115.2" r="0.63"/><circle cx="88.3" cy="80.4" r="0.87"/><circle cx="114.9" cy="145.0" r="0.87"/><circle cx="44.5" cy="93.6" r="0.87"/><circle cx="22.5" cy="74.6" r="0.44"/><circle cx="41.5" cy="14.8" r="0.73"/><circle cx="128.4" cy="148.3" r="0.48"/><circle cx="117.6" cy="110.0" r="0.47"/><circle cx="38.1" cy="157.3" r="0.60"/><circle cx="81.0" cy="163.4" r="0.82"/><circle cx="28.8" cy="72.9" r="0.66"/><circle cx="57.3" cy="34.7" r="0.56"/><circle cx="118.5" cy="6.2" r="0.68"/><circle cx="73.5" cy="5.9" r="0.57"/><circle cx="13.3" cy="162.6" r="0.79"/><circle cx="45.5" cy="9.4" r="0.79"/><circle cx="46.3" cy="24.0" r="0.61"/><circle cx="148.8" cy="135.7" r="0.53"/><circle cx="26.9" cy="151.9" r="0.69"/><circle cx="115.1" cy="17.5" r="0.43"/><circle cx="14.6" cy="155.0" r="0.72"/><circle cx="131.3" cy="16.6" r="0.83"/><circle cx="13.7" cy="142.8" r="0.63"/><circle cx="57.3" cy="92.6" r="0.86"/><circle cx="45.9" cy="23.9" r="0.66"/><circle cx="41.1" cy="20.7" r="0.48"/><circle cx="52.9" cy="52.4" r="0.78"/><circle cx="49.4" cy="84.0" r="0.49"/><circle cx="58.5" cy="5.9" r="0.53"/><circle cx="5.5" cy="121.8" r="0.68"/><circle cx="33.3" cy="79.9" r="0.87"/><circle cx="20.0" cy="135.7" r="0.62"/><circle cx="82.2" cy="138.2" r="0.60"/><circle cx="84.1" cy="114.4" r="0.89"/><circle cx="57.8" cy="137.8" r="0.75"/><circle cx="58.6" cy="11.8" r="0.46"/><circle cx="14.3" cy="123.0" r="0.53"/><circle cx="29.1" cy="16.7" r="0.82"/><circle cx="142.3" cy="111.6" r="0.54"/><circle cx="41.8" cy="50.5" r="0.63"/></g></g><line x1="6" y1="56" x2="26.1" y2="64.8" stroke="#000" stroke-width="2.3"/><polygon points="38,70 22.4,70.8 28.0,58.0" fill="#000"/>
</g>
<rect x="1.1" y="1.1" width="165.3" height="164.8" fill="none" stroke="#000" stroke-width="2.2"/>
</g>
<clipPath id="h22"><rect x="0" y="0" width="167.5" height="167"/></clipPath>
<g transform="translate(682.6,196)"><g clip-path="url(#h22)">
<rect x="0" y="0" width="167.5" height="167" fill="#ecebe6"/>
<g filter="url(#tex)"><path d="M3.0,57.0 C4.2,48.3 6.5,41.3 10.0,35.0 C13.5,28.7 17.7,23.8 24.0,19.0 C30.3,14.2 40.2,8.8 48.0,6.0 C55.8,3.2 60.5,2.5 71.0,2.0 C81.5,1.5 100.3,2.3 111.0,3.0 C121.7,3.7 129.7,2.5 135.0,6.0 C140.3,9.5 139.5,17.0 143.0,24.0 C146.5,31.0 152.8,40.2 156.0,48.0 C159.2,55.8 160.8,61.8 162.0,71.0 C163.2,80.2 163.5,92.3 163.0,103.0 C162.5,113.7 161.8,126.2 159.0,135.0 C156.2,143.8 151.3,151.0 146.0,156.0 C140.7,161.0 138.7,163.5 127.0,165.0 C115.3,166.5 89.2,166.5 76.0,165.0 C62.8,163.5 56.7,161.0 48.0,156.0 C39.3,151.0 30.3,142.5 24.0,135.0 C17.7,127.5 13.5,119.0 10.0,111.0 C6.5,103.0 4.2,96.0 3.0,87.0 C1.8,78.0 1.8,65.7 3.0,57.0 Z" fill="#5a6cb8" /><path d="M105.0,14.0 C106.5,13.0 118.3,16.7 125.0,20.0 C131.7,23.3 139.7,27.7 145.0,34.0 C150.3,40.3 156.2,53.7 157.0,58.0 C157.8,62.3 153.8,63.0 150.0,60.0 C146.2,57.0 139.7,45.7 134.0,40.0 C128.3,34.3 120.8,30.3 116.0,26.0 C111.2,21.7 103.5,15.0 105.0,14.0 Z" fill="#e8e8ec" opacity="0.85"/><path d="M21.0,52.0 C21.8,50.2 26.2,44.8 32.0,43.0 C37.8,41.2 48.7,39.5 56.0,41.0 C63.3,42.5 69.5,48.8 76.0,52.0 C82.5,55.2 87.5,57.0 95.0,60.0 C102.5,63.0 114.3,65.7 121.0,70.0 C127.7,74.3 132.3,81.3 135.0,86.0 C137.7,90.7 138.3,94.8 137.0,98.0 C135.7,101.2 131.3,104.3 127.0,105.0 C122.7,105.7 116.3,104.7 111.0,102.0 C105.7,99.3 100.8,92.8 95.0,89.0 C89.2,85.2 81.8,82.7 76.0,79.0 C70.2,75.3 65.8,70.8 60.0,67.0 C54.2,63.2 46.5,58.2 41.0,56.0 C35.5,53.8 30.3,54.7 27.0,54.0 C23.7,53.3 20.2,53.8 21.0,52.0 Z" fill="#f1f0ec" /><path d="M13.0,71.0 C15.8,75.0 23.8,86.8 30.0,95.0 C36.2,103.2 43.7,112.0 50.0,120.0 C56.3,128.0 65.0,139.2 68.0,143.0 " fill="none" stroke="#e6e8f0" stroke-width="2.4" stroke-linecap="round" /><path d="M16.0,95.0 C18.3,99.2 25.2,112.5 30.0,120.0 C34.8,127.5 40.7,134.8 45.0,140.0 C49.3,145.2 54.2,149.2 56.0,151.0 " fill="none" stroke="#e6e8f0" stroke-width="2" stroke-linecap="round" /><path d="M79.0,108.0 C82.5,109.7 92.5,114.8 100.0,118.0 C107.5,121.2 120.0,125.5 124.0,127.0 " fill="none" stroke="#eef0f4" stroke-width="2" stroke-linecap="round" /><g fill="#3a4aa0" opacity="0.5"><circle cx="75.4" cy="93.2" r="1.15"/><circle cx="77.5" cy="84.8" r="0.91"/><circle cx="32.5" cy="85.4" r="0.94"/><circle cx="129.9" cy="17.3" r="0.71"/><circle cx="114.0" cy="8.8" r="1.19"/><circle cx="157.4" cy="108.6" r="0.93"/><circle cx="87.5" cy="11.7" r="0.63"/><circle cx="137.8" cy="86.6" r="0.95"/><circle cx="83.0" cy="110.0" r="0.82"/><circle cx="116.2" cy="53.4" r="0.66"/><circle cx="49.2" cy="13.4" r="1.04"/><circle cx="67.1" cy="140.0" r="0.77"/><circle cx="148.6" cy="78.6" r="1.19"/><circle cx="66.6" cy="13.9" r="0.94"/><circle cx="127.6" cy="46.0" r="0.56"/><circle cx="124.3" cy="21.2" r="0.67"/><circle cx="130.5" cy="31.0" r="0.89"/><circle cx="74.6" cy="33.1" r="1.01"/><circle cx="24.0" cy="106.9" r="0.58"/><circle cx="70.3" cy="36.7" r="0.69"/><circle cx="158.3" cy="133.0" r="0.71"/><circle cx="144.6" cy="36.3" r="0.78"/><circle cx="139.7" cy="106.6" r="0.57"/><circle cx="44.3" cy="127.9" r="0.73"/><circle cx="50.4" cy="14.0" r="0.56"/><circle cx="96.2" cy="41.6" r="0.92"/><circle cx="62.5" cy="75.9" r="1.17"/><circle cx="80.4" cy="95.7" r="1.11"/><circle cx="32.3" cy="27.1" r="1.14"/><circle cx="133.8" cy="42.7" r="0.63"/><circle cx="121.3" cy="155.3" r="0.64"/><circle cx="115.7" cy="43.9" r="1.08"/><circle cx="98.4" cy="49.8" r="0.62"/><circle cx="118.3" cy="13.2" r="0.66"/><circle cx="92.5" cy="140.9" r="0.93"/><circle cx="47.8" cy="151.5" r="0.64"/><circle cx="74.3" cy="11.9" r="0.62"/><circle cx="62.0" cy="95.3" r="0.59"/><circle cx="60.9" cy="147.2" r="1.19"/><circle cx="108.1" cy="114.7" r="0.91"/><circle cx="115.2" cy="158.9" r="0.51"/><circle cx="119.9" cy="54.0" r="1.20"/><circle cx="15.0" cy="91.0" r="1.02"/><circle cx="147.0" cy="122.1" r="0.99"/><circle cx="129.9" cy="151.1" r="0.75"/><circle cx="112.6" cy="148.8" r="1.11"/><circle cx="69.7" cy="130.9" r="1.10"/><circle cx="94.6" cy="103.9" r="0.77"/><circle cx="96.2" cy="101.2" r="0.56"/><circle cx="105.3" cy="163.9" r="1.12"/><circle cx="119.5" cy="65.3" r="1.01"/><circle cx="137.1" cy="15.7" r="1.03"/><circle cx="7.8" cy="100.0" r="0.84"/><circle cx="39.8" cy="115.8" r="0.85"/><circle cx="101.3" cy="152.0" r="0.68"/><circle cx="111.5" cy="35.0" r="0.62"/><circle cx="147.9" cy="109.6" r="0.81"/><circle cx="145.7" cy="55.3" r="0.97"/><circle cx="34.8" cy="72.2" r="1.06"/><circle cx="149.3" cy="145.5" r="0.77"/><circle cx="96.3" cy="53.6" r="0.60"/><circle cx="82.4" cy="138.4" r="1.09"/><circle cx="116.8" cy="156.9" r="0.69"/><circle cx="30.1" cy="75.5" r="0.69"/><circle cx="37.3" cy="69.5" r="0.94"/><circle cx="82.0" cy="53.4" r="1.09"/><circle cx="160.1" cy="75.8" r="0.55"/><circle cx="94.3" cy="52.4" r="1.05"/><circle cx="75.8" cy="6.0" r="1.08"/><circle cx="41.0" cy="25.0" r="0.53"/><circle cx="103.8" cy="108.8" r="1.07"/><circle cx="156.4" cy="113.6" r="0.64"/><circle cx="79.0" cy="31.1" r="0.51"/><circle cx="78.6" cy="118.4" r="0.63"/><circle cx="101.3" cy="125.3" r="0.78"/><circle cx="129.7" cy="149.7" r="0.56"/><circle cx="152.2" cy="119.7" r="0.59"/><circle cx="75.6" cy="104.0" r="1.14"/><circle cx="63.3" cy="94.7" r="1.12"/><circle cx="130.5" cy="155.9" r="0.82"/><circle cx="107.2" cy="35.4" r="1.01"/><circle cx="133.9" cy="106.6" r="1.00"/><circle cx="88.9" cy="130.9" r="0.72"/><circle cx="148.6" cy="141.5" r="0.74"/><circle cx="16.2" cy="73.9" r="0.89"/><circle cx="30.7" cy="56.6" r="1.05"/><circle cx="25.5" cy="26.2" r="0.86"/><circle cx="118.8" cy="138.9" r="0.98"/><circle cx="154.3" cy="82.3" r="1.16"/><circle cx="16.8" cy="38.1" r="0.87"/><circle cx="49.4" cy="120.8" r="0.95"/><circle cx="86.6" cy="139.5" r="0.89"/><circle cx="52.9" cy="64.1" r="1.09"/><circle cx="147.1" cy="35.9" r="1.10"/><circle cx="158.0" cy="87.4" r="0.90"/><circle cx="35.2" cy="89.4" r="0.85"/><circle cx="99.8" cy="6.5" r="1.18"/><circle cx="81.6" cy="114.6" r="0.55"/><circle cx="46.1" cy="79.1" r="0.59"/><circle cx="72.4" cy="135.0" r="1.13"/><circle cx="33.6" cy="102.7" r="1.15"/><circle cx="23.7" cy="129.0" r="0.52"/><circle cx="34.1" cy="39.0" r="0.98"/><circle cx="102.2" cy="19.1" r="1.01"/><circle cx="22.6" cy="85.2" r="0.68"/><circle cx="34.6" cy="88.4" r="0.81"/><circle cx="63.1" cy="69.4" r="0.87"/><circle cx="28.6" cy="35.3" r="0.94"/><circle cx="139.2" cy="101.7" r="1.10"/><circle cx="40.2" cy="122.7" r="1.07"/><circle cx="147.4" cy="53.5" r="0.72"/><circle cx="24.4" cy="41.0" r="1.01"/><circle cx="44.5" cy="17.8" r="1.08"/><circle cx="70.5" cy="130.8" r="0.59"/><circle cx="67.4" cy="113.7" r="0.51"/><circle cx="35.1" cy="113.2" r="1.14"/><circle cx="83.9" cy="125.6" r="0.85"/><circle cx="112.7" cy="32.8" r="0.55"/><circle cx="94.0" cy="25.9" r="0.63"/><circle cx="35.6" cy="139.0" r="1.19"/><circle cx="76.9" cy="126.6" r="0.73"/><circle cx="77.7" cy="86.0" r="0.80"/><circle cx="99.1" cy="4.2" r="0.99"/><circle cx="138.1" cy="31.5" r="0.82"/><circle cx="121.3" cy="68.1" r="0.64"/><circle cx="29.4" cy="85.5" r="0.51"/><circle cx="145.9" cy="132.7" r="0.99"/><circle cx="140.7" cy="104.6" r="0.78"/><circle cx="44.3" cy="150.5" r="1.02"/><circle cx="127.5" cy="134.8" r="0.78"/><circle cx="146.4" cy="145.4" r="0.99"/><circle cx="125.8" cy="126.7" r="0.78"/><circle cx="118.6" cy="13.5" r="0.74"/><circle cx="78.0" cy="3.7" r="0.75"/><circle cx="105.2" cy="103.7" r="0.66"/><circle cx="154.1" cy="110.6" r="0.74"/><circle cx="115.2" cy="126.2" r="1.19"/><circle cx="121.2" cy="43.8" r="0.78"/><circle cx="11.1" cy="33.9" r="0.76"/><circle cx="18.8" cy="42.9" r="1.13"/><circle cx="157.7" cy="94.6" r="1.20"/><circle cx="105.1" cy="134.0" r="0.55"/><circle cx="98.6" cy="125.8" r="0.53"/><circle cx="78.5" cy="29.6" r="0.85"/><circle cx="100.8" cy="11.5" r="1.16"/><circle cx="70.3" cy="87.9" r="0.92"/><circle cx="48.4" cy="118.8" r="0.71"/><circle cx="123.7" cy="65.6" r="1.13"/><circle cx="122.7" cy="10.2" r="1.19"/><circle cx="147.9" cy="72.0" r="0.83"/><circle cx="86.7" cy="154.8" r="1.01"/><circle cx="77.9" cy="161.5" r="1.07"/><circle cx="99.6" cy="20.8" r="0.94"/><circle cx="75.9" cy="35.2" r="0.54"/><circle cx="87.5" cy="22.3" r="0.81"/><circle cx="44.9" cy="96.9" r="0.79"/><circle cx="120.5" cy="40.9" r="0.58"/><circle cx="145.8" cy="129.8" r="0.94"/><circle cx="97.7" cy="105.2" r="1.03"/><circle cx="33.4" cy="42.6" r="1.19"/><circle cx="149.5" cy="145.2" r="0.53"/><circle cx="12.7" cy="46.2" r="0.80"/><circle cx="102.7" cy="18.7" r="0.88"/><circle cx="104.0" cy="62.8" r="0.83"/><circle cx="36.7" cy="58.0" r="1.02"/><circle cx="137.2" cy="14.1" r="0.58"/><circle cx="132.5" cy="103.7" r="1.04"/><circle cx="37.1" cy="71.2" r="0.68"/><circle cx="132.6" cy="62.1" r="0.96"/><circle cx="90.8" cy="123.6" r="1.14"/><circle cx="112.7" cy="50.7" r="1.04"/><circle cx="15.2" cy="36.8" r="0.96"/><circle cx="16.1" cy="51.5" r="1.01"/><circle cx="114.0" cy="48.1" r="0.60"/><circle cx="60.2" cy="120.3" r="0.76"/><circle cx="21.8" cy="117.6" r="0.90"/><circle cx="149.1" cy="73.4" r="1.06"/><circle cx="66.9" cy="154.4" r="1.13"/><circle cx="42.7" cy="61.0" r="0.76"/><circle cx="65.0" cy="33.8" r="0.89"/><circle cx="136.8" cy="93.7" r="0.62"/><circle cx="124.4" cy="145.6" r="0.70"/><circle cx="6.6" cy="86.0" r="0.88"/><circle cx="93.8" cy="159.5" r="0.96"/><circle cx="131.7" cy="12.4" r="0.88"/><circle cx="129.1" cy="15.7" r="0.56"/><circle cx="120.9" cy="148.5" r="0.56"/><circle cx="104.5" cy="25.5" r="1.02"/><circle cx="106.8" cy="42.0" r="0.65"/><circle cx="125.4" cy="66.3" r="0.74"/><circle cx="157.9" cy="111.6" r="0.85"/><circle cx="89.0" cy="119.5" r="1.00"/><circle cx="149.4" cy="68.9" r="1.08"/><circle cx="109.7" cy="141.1" r="1.06"/><circle cx="136.4" cy="146.8" r="1.17"/><circle cx="116.6" cy="132.8" r="0.80"/><circle cx="70.3" cy="25.8" r="1.02"/><circle cx="29.8" cy="35.3" r="0.80"/><circle cx="12.5" cy="52.3" r="0.58"/><circle cx="106.7" cy="128.5" r="0.63"/></g><g fill="#9aaae0" opacity="0.6"><circle cx="78.9" cy="109.2" r="0.80"/><circle cx="132.7" cy="114.6" r="0.76"/><circle cx="92.3" cy="109.8" r="0.49"/><circle cx="73.4" cy="28.4" r="0.94"/><circle cx="14.9" cy="114.0" r="0.60"/><circle cx="67.7" cy="139.3" r="0.41"/><circle cx="84.4" cy="16.8" r="0.99"/><circle cx="70.7" cy="24.0" r="0.59"/><circle cx="102.4" cy="28.7" r="0.82"/><circle cx="133.5" cy="67.3" r="0.65"/><circle cx="64.5" cy="7.0" r="0.84"/><circle cx="109.2" cy="60.1" r="0.62"/><circle cx="113.4" cy="111.8" r="0.47"/><circle cx="40.6" cy="61.2" r="0.71"/><circle cx="71.8" cy="86.6" r="0.53"/><circle cx="126.5" cy="18.7" r="0.73"/><circle cx="31.5" cy="115.4" r="0.42"/><circle cx="104.9" cy="10.5" r="0.68"/><circle cx="79.2" cy="158.3" r="0.69"/><circle cx="150.9" cy="61.4" r="0.51"/><circle cx="122.8" cy="150.7" r="0.40"/><circle cx="45.9" cy="127.6" r="0.61"/><circle cx="9.4" cy="102.9" r="0.99"/><circle cx="6.8" cy="54.6" r="0.87"/><circle cx="136.1" cy="106.2" r="0.54"/><circle cx="103.3" cy="44.8" r="0.97"/><circle cx="49.6" cy="144.3" r="0.57"/><circle cx="154.0" cy="86.0" r="0.82"/><circle cx="115.8" cy="36.9" r="0.57"/><circle cx="43.8" cy="113.4" r="0.82"/><circle cx="70.3" cy="41.3" r="0.66"/><circle cx="159.7" cy="93.3" r="0.77"/><circle cx="124.7" cy="70.1" r="0.75"/><circle cx="147.2" cy="130.6" r="0.75"/><circle cx="147.6" cy="132.0" r="0.94"/><circle cx="148.7" cy="89.2" r="0.87"/><circle cx="63.7" cy="18.0" r="0.61"/><circle cx="52.9" cy="154.2" r="0.81"/><circle cx="89.7" cy="103.4" r="0.47"/><circle cx="88.5" cy="116.2" r="0.64"/><circle cx="42.3" cy="68.3" r="0.59"/><circle cx="112.6" cy="25.1" r="0.45"/><circle cx="53.0" cy="115.4" r="0.86"/><circle cx="108.5" cy="154.4" r="0.62"/><circle cx="7.8" cy="81.5" r="0.67"/><circle cx="31.7" cy="110.8" r="0.60"/><circle cx="35.2" cy="72.5" r="0.53"/><circle cx="150.0" cy="83.7" r="0.82"/><circle cx="29.0" cy="77.7" r="0.76"/><circle cx="137.9" cy="42.7" r="0.68"/><circle cx="139.8" cy="137.6" r="0.54"/><circle cx="89.1" cy="126.1" r="0.64"/><circle cx="110.7" cy="110.1" r="0.98"/><circle cx="91.6" cy="113.0" r="0.61"/><circle cx="120.2" cy="54.5" r="0.70"/><circle cx="24.7" cy="38.8" r="0.73"/><circle cx="43.3" cy="9.5" r="0.88"/><circle cx="48.7" cy="154.6" r="0.76"/><circle cx="65.3" cy="144.3" r="0.94"/><circle cx="54.4" cy="22.5" r="0.78"/><circle cx="137.8" cy="101.2" r="0.87"/><circle cx="69.0" cy="102.7" r="0.56"/><circle cx="132.1" cy="29.7" r="0.52"/><circle cx="86.6" cy="10.6" r="0.90"/><circle cx="142.8" cy="135.8" r="0.62"/><circle cx="120.5" cy="51.8" r="0.48"/><circle cx="141.4" cy="137.8" r="0.53"/><circle cx="30.4" cy="28.6" r="0.83"/><circle cx="50.5" cy="33.0" r="0.51"/><circle cx="52.9" cy="142.5" r="0.76"/><circle cx="19.4" cy="113.7" r="0.72"/><circle cx="74.8" cy="88.0" r="0.79"/><circle cx="69.4" cy="86.2" r="0.83"/><circle cx="47.6" cy="152.8" r="0.69"/><circle cx="139.9" cy="114.5" r="0.97"/><circle cx="67.9" cy="101.1" r="0.85"/><circle cx="137.2" cy="23.1" r="0.44"/><circle cx="42.9" cy="20.4" r="0.81"/><circle cx="101.5" cy="159.4" r="0.98"/><circle cx="122.5" cy="156.8" r="0.42"/><circle cx="79.1" cy="35.7" r="0.85"/><circle cx="70.8" cy="90.5" r="0.59"/><circle cx="41.7" cy="16.2" r="0.76"/><circle cx="125.4" cy="154.1" r="0.62"/><circle cx="50.7" cy="152.5" r="0.76"/><circle cx="110.1" cy="4.0" r="0.54"/><circle cx="80.2" cy="121.2" r="0.90"/><circle cx="124.2" cy="57.4" r="0.63"/><circle cx="80.6" cy="33.7" r="0.77"/><circle cx="39.9" cy="64.8" r="0.77"/><circle cx="23.3" cy="90.2" r="0.97"/><circle cx="122.2" cy="43.1" r="0.65"/><circle cx="19.4" cy="122.1" r="0.78"/><circle cx="30.7" cy="91.3" r="0.76"/><circle cx="30.7" cy="67.2" r="0.52"/><circle cx="59.0" cy="154.9" r="0.58"/><circle cx="56.2" cy="109.2" r="0.64"/><circle cx="85.5" cy="107.5" r="0.44"/><circle cx="110.5" cy="18.5" r="0.55"/><circle cx="110.8" cy="30.0" r="0.66"/><circle cx="48.2" cy="139.1" r="0.54"/><circle cx="34.4" cy="106.0" r="0.78"/><circle cx="156.5" cy="76.7" r="0.96"/><circle cx="65.7" cy="77.9" r="0.62"/><circle cx="117.4" cy="124.5" r="0.54"/><circle cx="87.2" cy="120.4" r="0.70"/><circle cx="109.0" cy="102.4" r="0.83"/><circle cx="129.4" cy="65.6" r="0.98"/><circle cx="136.9" cy="70.6" r="0.59"/><circle cx="44.5" cy="69.5" r="0.43"/><circle cx="52.2" cy="27.8" r="0.47"/><circle cx="136.1" cy="63.9" r="0.69"/><circle cx="99.2" cy="154.1" r="0.49"/><circle cx="39.5" cy="142.2" r="0.95"/><circle cx="152.1" cy="88.1" r="0.62"/><circle cx="129.6" cy="44.5" r="0.72"/><circle cx="101.8" cy="32.2" r="0.90"/><circle cx="137.3" cy="107.0" r="0.66"/><circle cx="6.4" cy="82.5" r="0.62"/><circle cx="67.0" cy="14.7" r="0.95"/></g></g>
</g>
<rect x="1.1" y="1.1" width="165.3" height="164.8" fill="none" stroke="#000" stroke-width="2.2"/>
</g>
<clipPath id="h31"><rect x="0" y="0" width="167.5" height="166.5"/></clipPath>
<g transform="translate(513.3,367)"><g clip-path="url(#h31)">
<rect x="0" y="0" width="167.5" height="166.5" fill="#ebe9e6"/>
<g filter="url(#tex)"><path d="M-4.0,-4.0 C21.7,-33.3 123.0,-8.0 150.0,-4.0 C177.0,0.0 156.3,11.3 158.0,20.0 C159.7,28.7 159.2,36.3 160.0,48.0 C160.8,59.7 163.0,78.0 163.0,90.0 C163.0,102.0 162.2,111.7 160.0,120.0 C157.8,128.3 153.3,133.3 150.0,140.0 C146.7,146.7 145.0,154.7 140.0,160.0 C135.0,165.3 144.0,170.0 120.0,172.0 C96.0,174.0 16.7,201.3 -4.0,172.0 C-24.7,142.7 -29.7,25.3 -4.0,-4.0 Z" fill="#8e7e92" /><path d="M150.0,-4.0 C151.7,-11.3 168.3,-13.0 172.0,-4.0 C175.7,5.0 173.7,42.7 172.0,50.0 C170.3,57.3 165.7,49.0 162.0,40.0 C158.3,31.0 148.3,3.3 150.0,-4.0 Z" fill="#eceae8" /><path d="M150.0,115.0 C153.5,108.3 162.3,100.5 166.0,110.0 C169.7,119.5 177.2,161.7 172.0,172.0 C166.8,182.3 139.5,175.7 135.0,172.0 C130.5,168.3 142.5,159.5 145.0,150.0 C147.5,140.5 146.5,121.7 150.0,115.0 Z" fill="#ebe8e6" opacity="0.9"/><path d="M-4.0,150.0 C0.0,146.7 12.7,150.3 20.0,152.0 C27.3,153.7 35.0,156.7 40.0,160.0 C45.0,163.3 57.3,170.0 50.0,172.0 C42.7,174.0 5.0,175.7 -4.0,172.0 C-13.0,168.3 -8.0,153.3 -4.0,150.0 Z" fill="#d8d0c8" opacity="0.8"/><path d="M72.0,6.0 C74.3,4.0 85.7,5.7 88.0,8.0 C90.3,10.3 88.3,18.0 86.0,20.0 C83.7,22.0 76.3,22.3 74.0,20.0 C71.7,17.7 69.7,8.0 72.0,6.0 Z" fill="#eceae8" opacity="0.9"/><path d="M16.0,19.0 C17.3,9.5 19.3,8.3 24.0,6.0 C28.7,3.7 36.8,3.3 44.0,5.0 C51.2,6.7 59.8,12.3 67.0,16.0 C74.2,19.7 79.7,23.5 87.0,27.0 C94.3,30.5 103.8,32.8 111.0,37.0 C118.2,41.2 125.2,46.3 130.0,52.0 C134.8,57.7 137.8,63.8 140.0,71.0 C142.2,78.2 143.0,85.7 143.0,95.0 C143.0,104.3 142.2,118.2 140.0,127.0 C137.8,135.8 134.8,143.0 130.0,148.0 C125.2,153.0 119.5,155.7 111.0,157.0 C102.5,158.3 89.5,157.8 79.0,156.0 C68.5,154.2 56.7,150.8 48.0,146.0 C39.3,141.2 31.8,135.5 27.0,127.0 C22.2,118.5 20.8,105.7 19.0,95.0 C17.2,84.3 16.5,75.7 16.0,63.0 C15.5,50.3 14.7,28.5 16.0,19.0 Z" fill="#a66656" /><path d="M30.0,24.0 C33.0,20.0 41.2,22.5 48.0,24.0 C54.8,25.5 63.2,30.3 71.0,33.0 C78.8,35.7 87.8,37.0 95.0,40.0 C102.2,43.0 108.7,46.5 114.0,51.0 C119.3,55.5 124.0,61.0 127.0,67.0 C130.0,73.0 131.5,79.2 132.0,87.0 C132.5,94.8 131.3,106.0 130.0,114.0 C128.7,122.0 128.5,130.5 124.0,135.0 C119.5,139.5 111.0,140.2 103.0,141.0 C95.0,141.8 84.5,141.8 76.0,140.0 C67.5,138.2 58.5,134.8 52.0,130.0 C45.5,125.2 40.3,119.5 37.0,111.0 C33.7,102.5 33.2,89.5 32.0,79.0 C30.8,68.5 30.3,57.2 30.0,48.0 C29.7,38.8 27.0,28.0 30.0,24.0 Z" fill="#f5f3ef" /><path d="M86.0,42.0 C89.3,42.0 103.7,51.0 110.0,56.0 C116.3,61.0 121.0,64.7 124.0,72.0 C127.0,79.3 127.7,90.7 128.0,100.0 C128.3,109.3 128.3,122.0 126.0,128.0 C123.7,134.0 117.0,137.7 114.0,136.0 C111.0,134.3 108.3,124.7 108.0,118.0 C107.7,111.3 112.7,104.0 112.0,96.0 C111.3,88.0 107.7,76.7 104.0,70.0 C100.3,63.3 93.0,60.7 90.0,56.0 C87.0,51.3 82.7,42.0 86.0,42.0 Z" fill="#b4a088" opacity="0.7"/><path d="M34.0,27.0 C37.3,24.3 54.0,27.8 60.0,30.0 C66.0,32.2 70.7,37.0 70.0,40.0 C69.3,43.0 61.0,47.0 56.0,48.0 C51.0,49.0 43.7,49.5 40.0,46.0 C36.3,42.5 30.7,29.7 34.0,27.0 Z" fill="#b4a088" opacity="0.6"/><g fill="#7a5a30" opacity="0.75"><circle cx="114.7" cy="121.8" r="0.63"/><circle cx="95.7" cy="55.8" r="0.66"/><circle cx="108.3" cy="62.1" r="0.71"/><circle cx="104.1" cy="120.7" r="0.93"/><circle cx="120.0" cy="117.8" r="1.08"/><circle cx="117.3" cy="131.2" r="1.06"/><circle cx="106.4" cy="113.0" r="0.89"/><circle cx="104.0" cy="76.2" r="0.80"/><circle cx="99.2" cy="53.0" r="1.07"/><circle cx="115.0" cy="94.1" r="1.02"/><circle cx="104.6" cy="58.6" r="0.64"/><circle cx="108.0" cy="65.8" r="0.82"/><circle cx="111.4" cy="79.2" r="0.59"/><circle cx="106.6" cy="64.1" r="0.66"/><circle cx="116.2" cy="129.7" r="0.53"/><circle cx="121.2" cy="102.1" r="0.61"/><circle cx="123.2" cy="117.5" r="0.64"/><circle cx="121.9" cy="77.2" r="1.00"/><circle cx="111.3" cy="109.9" r="0.65"/><circle cx="111.9" cy="96.6" r="0.91"/><circle cx="100.3" cy="69.8" r="0.62"/><circle cx="95.5" cy="48.5" r="0.95"/><circle cx="109.4" cy="93.1" r="0.53"/><circle cx="104.5" cy="74.2" r="0.56"/><circle cx="107.7" cy="86.6" r="0.97"/><circle cx="107.1" cy="127.6" r="1.02"/><circle cx="110.7" cy="75.4" r="0.67"/><circle cx="98.1" cy="61.2" r="0.75"/><circle cx="106.2" cy="94.1" r="0.73"/><circle cx="98.2" cy="82.9" r="0.60"/><circle cx="98.7" cy="78.5" r="0.52"/><circle cx="104.6" cy="124.4" r="1.19"/><circle cx="106.1" cy="76.9" r="0.74"/><circle cx="116.2" cy="104.7" r="1.15"/><circle cx="107.8" cy="128.5" r="0.81"/><circle cx="110.1" cy="100.3" r="1.09"/><circle cx="120.1" cy="92.2" r="0.71"/><circle cx="89.6" cy="46.9" r="0.52"/><circle cx="116.1" cy="123.4" r="1.20"/><circle cx="120.0" cy="81.9" r="0.94"/><circle cx="121.0" cy="109.3" r="0.70"/><circle cx="105.8" cy="67.2" r="1.05"/><circle cx="121.8" cy="81.1" r="1.20"/><circle cx="118.0" cy="87.5" r="0.68"/><circle cx="105.4" cy="126.8" r="0.88"/><circle cx="106.0" cy="59.9" r="0.90"/><circle cx="93.5" cy="51.7" r="0.91"/><circle cx="106.9" cy="91.0" r="1.08"/><circle cx="113.3" cy="82.3" r="1.17"/><circle cx="92.5" cy="47.0" r="0.85"/><circle cx="106.4" cy="99.2" r="0.67"/><circle cx="104.9" cy="113.4" r="0.74"/><circle cx="115.4" cy="82.2" r="1.14"/><circle cx="120.3" cy="120.1" r="0.98"/><circle cx="116.3" cy="104.7" r="0.91"/><circle cx="96.8" cy="54.6" r="1.01"/><circle cx="113.0" cy="99.3" r="0.86"/><circle cx="118.6" cy="124.4" r="0.77"/><circle cx="120.2" cy="88.9" r="0.90"/><circle cx="124.3" cy="106.3" r="0.76"/><circle cx="103.4" cy="118.5" r="1.05"/><circle cx="103.2" cy="95.0" r="1.02"/><circle cx="98.4" cy="61.2" r="1.18"/><circle cx="89.7" cy="52.6" r="0.59"/><circle cx="94.9" cy="57.0" r="0.51"/><circle cx="123.1" cy="104.0" r="1.00"/><circle cx="115.4" cy="116.9" r="1.10"/><circle cx="92.5" cy="47.1" r="0.93"/><circle cx="107.8" cy="91.0" r="1.05"/><circle cx="103.9" cy="81.6" r="0.67"/><circle cx="109.3" cy="127.2" r="0.70"/><circle cx="95.2" cy="70.7" r="0.57"/><circle cx="115.6" cy="96.1" r="0.79"/><circle cx="115.8" cy="63.9" r="0.73"/><circle cx="120.4" cy="84.1" r="0.79"/><circle cx="107.9" cy="64.9" r="0.61"/><circle cx="117.2" cy="95.0" r="0.94"/><circle cx="125.6" cy="117.1" r="0.92"/><circle cx="118.3" cy="88.2" r="0.89"/><circle cx="120.3" cy="100.2" r="0.76"/><circle cx="100.3" cy="82.3" r="0.70"/><circle cx="109.3" cy="79.7" r="1.08"/><circle cx="111.0" cy="94.5" r="1.05"/><circle cx="104.5" cy="92.4" r="1.03"/><circle cx="116.3" cy="111.9" r="1.12"/><circle cx="109.4" cy="94.2" r="0.63"/><circle cx="106.9" cy="126.5" r="0.53"/><circle cx="105.3" cy="121.7" r="0.61"/><circle cx="118.4" cy="82.5" r="0.90"/><circle cx="119.7" cy="111.1" r="0.89"/><circle cx="115.4" cy="84.0" r="1.01"/><circle cx="111.7" cy="79.8" r="1.11"/><circle cx="110.6" cy="84.1" r="1.16"/><circle cx="107.5" cy="89.8" r="0.54"/><circle cx="119.5" cy="102.1" r="0.67"/><circle cx="125.3" cy="123.8" r="0.83"/><circle cx="109.7" cy="69.7" r="0.99"/><circle cx="126.4" cy="104.6" r="0.85"/><circle cx="111.4" cy="65.4" r="0.83"/><circle cx="88.4" cy="44.6" r="0.94"/><circle cx="116.2" cy="125.5" r="0.97"/><circle cx="112.4" cy="101.8" r="0.62"/><circle cx="91.9" cy="64.6" r="0.87"/><circle cx="119.1" cy="108.8" r="0.90"/><circle cx="107.5" cy="57.9" r="0.93"/><circle cx="96.3" cy="71.0" r="0.82"/><circle cx="104.6" cy="64.1" r="0.97"/><circle cx="116.2" cy="85.6" r="0.65"/><circle cx="119.9" cy="98.6" r="0.50"/><circle cx="118.8" cy="96.5" r="0.80"/><circle cx="115.1" cy="67.5" r="0.60"/><circle cx="122.9" cy="83.6" r="0.55"/><circle cx="101.3" cy="100.2" r="0.96"/><circle cx="109.9" cy="124.7" r="0.83"/><circle cx="116.0" cy="85.9" r="1.00"/><circle cx="117.0" cy="74.4" r="1.12"/><circle cx="118.1" cy="122.6" r="1.11"/><circle cx="111.0" cy="131.3" r="0.61"/><circle cx="110.5" cy="106.6" r="0.70"/><circle cx="120.1" cy="81.2" r="0.64"/><circle cx="105.8" cy="106.2" r="0.80"/><circle cx="94.8" cy="53.5" r="0.93"/><circle cx="119.5" cy="111.8" r="1.02"/><circle cx="88.1" cy="56.4" r="1.03"/><circle cx="118.3" cy="105.3" r="0.67"/><circle cx="122.4" cy="90.4" r="0.64"/><circle cx="120.9" cy="121.1" r="0.94"/><circle cx="116.7" cy="64.7" r="0.57"/><circle cx="122.7" cy="83.6" r="0.71"/><circle cx="103.8" cy="103.1" r="1.11"/><circle cx="90.4" cy="61.4" r="0.73"/><circle cx="93.1" cy="50.6" r="0.96"/><circle cx="102.7" cy="59.8" r="0.86"/><circle cx="103.7" cy="79.5" r="0.76"/><circle cx="103.4" cy="58.8" r="0.71"/><circle cx="115.0" cy="87.1" r="0.55"/><circle cx="111.9" cy="100.8" r="0.75"/><circle cx="110.3" cy="81.0" r="0.86"/><circle cx="124.9" cy="118.4" r="1.10"/><circle cx="102.6" cy="88.0" r="0.86"/><circle cx="122.2" cy="84.2" r="0.81"/><circle cx="101.4" cy="59.9" r="0.70"/><circle cx="101.7" cy="69.0" r="0.74"/><circle cx="89.6" cy="55.8" r="0.66"/><circle cx="113.4" cy="129.3" r="0.68"/><circle cx="87.3" cy="50.4" r="0.90"/><circle cx="105.5" cy="75.0" r="0.79"/><circle cx="93.4" cy="64.4" r="0.55"/><circle cx="103.4" cy="58.2" r="0.64"/><circle cx="117.9" cy="132.3" r="1.18"/><circle cx="99.9" cy="92.9" r="0.80"/><circle cx="111.7" cy="79.5" r="1.05"/><circle cx="104.7" cy="69.6" r="1.13"/><circle cx="109.9" cy="66.0" r="1.13"/><circle cx="106.1" cy="98.7" r="0.83"/><circle cx="122.1" cy="110.8" r="0.81"/><circle cx="121.2" cy="98.6" r="1.11"/><circle cx="108.2" cy="81.0" r="0.72"/><circle cx="97.3" cy="56.4" r="1.15"/><circle cx="119.9" cy="122.5" r="1.03"/><circle cx="98.3" cy="82.1" r="1.16"/><circle cx="102.3" cy="103.1" r="0.54"/><circle cx="106.2" cy="89.6" r="1.14"/><circle cx="126.3" cy="112.7" r="0.73"/><circle cx="122.6" cy="128.1" r="0.55"/><circle cx="103.8" cy="93.8" r="0.71"/><circle cx="124.4" cy="89.6" r="0.71"/><circle cx="110.4" cy="84.0" r="0.98"/><circle cx="122.9" cy="127.7" r="0.84"/><circle cx="118.9" cy="125.1" r="0.87"/><circle cx="92.0" cy="51.8" r="0.97"/><circle cx="100.3" cy="91.5" r="0.53"/><circle cx="112.6" cy="100.5" r="0.75"/><circle cx="124.6" cy="100.2" r="1.17"/><circle cx="105.7" cy="66.0" r="0.56"/><circle cx="112.1" cy="107.3" r="0.98"/><circle cx="113.1" cy="108.1" r="1.16"/><circle cx="99.8" cy="90.8" r="0.62"/><circle cx="102.2" cy="74.8" r="0.82"/><circle cx="103.0" cy="62.5" r="0.62"/><circle cx="100.2" cy="51.6" r="0.89"/><circle cx="110.7" cy="90.0" r="1.16"/><circle cx="107.5" cy="76.2" r="0.65"/><circle cx="110.4" cy="111.9" r="0.85"/><circle cx="102.4" cy="65.6" r="1.09"/><circle cx="115.9" cy="72.5" r="0.61"/><circle cx="124.5" cy="106.9" r="0.97"/><circle cx="122.1" cy="80.7" r="0.80"/><circle cx="115.0" cy="91.2" r="1.05"/><circle cx="116.0" cy="64.7" r="0.81"/><circle cx="113.9" cy="69.6" r="0.97"/><circle cx="112.8" cy="123.2" r="0.86"/><circle cx="113.9" cy="104.4" r="0.95"/><circle cx="105.0" cy="71.8" r="0.59"/><circle cx="123.3" cy="114.9" r="0.96"/><circle cx="117.6" cy="71.6" r="0.62"/><circle cx="108.4" cy="85.9" r="0.95"/><circle cx="122.7" cy="78.9" r="0.76"/><circle cx="115.6" cy="125.0" r="0.90"/><circle cx="111.0" cy="125.8" r="1.14"/><circle cx="105.2" cy="82.1" r="0.69"/><circle cx="98.9" cy="73.4" r="0.59"/><circle cx="111.5" cy="58.9" r="0.59"/><circle cx="124.4" cy="94.5" r="1.12"/><circle cx="95.0" cy="58.6" r="0.90"/><circle cx="107.1" cy="94.8" r="0.85"/><circle cx="99.2" cy="84.0" r="0.58"/><circle cx="90.1" cy="47.5" r="1.08"/><circle cx="108.3" cy="127.3" r="1.12"/><circle cx="114.4" cy="130.9" r="0.99"/><circle cx="103.4" cy="93.2" r="0.71"/><circle cx="115.3" cy="88.7" r="1.17"/><circle cx="101.6" cy="87.5" r="1.17"/><circle cx="104.9" cy="105.3" r="1.15"/><circle cx="112.8" cy="75.9" r="0.54"/><circle cx="105.6" cy="96.4" r="0.69"/><circle cx="106.2" cy="108.4" r="0.66"/><circle cx="97.9" cy="56.1" r="0.94"/><circle cx="100.7" cy="97.4" r="1.18"/><circle cx="126.8" cy="116.4" r="1.18"/></g><g fill="#7a5a30" opacity="0.7"><circle cx="60.1" cy="50.5" r="0.66"/><circle cx="44.2" cy="45.4" r="0.90"/><circle cx="46.1" cy="44.1" r="0.74"/><circle cx="42.9" cy="49.5" r="0.71"/><circle cx="44.4" cy="47.1" r="0.88"/><circle cx="40.0" cy="40.8" r="0.90"/><circle cx="40.6" cy="43.3" r="0.57"/><circle cx="47.5" cy="29.1" r="0.62"/><circle cx="58.3" cy="48.8" r="0.91"/><circle cx="38.5" cy="41.7" r="0.88"/><circle cx="41.2" cy="29.4" r="1.02"/><circle cx="54.6" cy="31.8" r="0.77"/><circle cx="42.7" cy="47.0" r="0.80"/><circle cx="37.6" cy="34.0" r="0.52"/><circle cx="53.2" cy="44.1" r="0.82"/><circle cx="52.2" cy="39.1" r="0.76"/><circle cx="53.0" cy="32.9" r="1.02"/><circle cx="39.7" cy="44.6" r="0.84"/><circle cx="47.9" cy="41.2" r="1.06"/><circle cx="44.5" cy="34.6" r="0.61"/><circle cx="59.1" cy="38.7" r="0.65"/><circle cx="57.4" cy="34.1" r="1.06"/><circle cx="48.3" cy="33.3" r="0.52"/><circle cx="39.8" cy="32.0" r="0.64"/><circle cx="43.9" cy="42.1" r="1.05"/><circle cx="45.7" cy="46.0" r="0.72"/><circle cx="56.4" cy="41.9" r="1.07"/><circle cx="64.3" cy="39.7" r="1.00"/><circle cx="48.7" cy="36.6" r="1.08"/><circle cx="55.8" cy="46.3" r="0.69"/><circle cx="70.6" cy="42.3" r="0.65"/><circle cx="71.3" cy="38.7" r="0.70"/><circle cx="44.5" cy="29.6" r="0.62"/><circle cx="44.3" cy="38.2" r="0.83"/><circle cx="49.2" cy="46.6" r="0.65"/><circle cx="48.7" cy="37.6" r="0.58"/><circle cx="42.9" cy="30.7" r="0.94"/><circle cx="39.9" cy="43.7" r="0.63"/><circle cx="59.9" cy="43.4" r="0.71"/><circle cx="50.3" cy="33.7" r="0.78"/><circle cx="71.4" cy="40.6" r="0.56"/><circle cx="68.7" cy="37.7" r="1.09"/><circle cx="65.8" cy="34.6" r="0.58"/><circle cx="49.2" cy="41.7" r="0.50"/><circle cx="52.0" cy="46.6" r="0.80"/><circle cx="55.1" cy="34.4" r="1.08"/><circle cx="43.9" cy="44.0" r="0.89"/><circle cx="68.2" cy="36.9" r="0.77"/><circle cx="47.8" cy="50.4" r="0.52"/><circle cx="66.3" cy="44.7" r="1.08"/><circle cx="54.9" cy="47.9" r="0.77"/><circle cx="51.5" cy="41.4" r="0.98"/><circle cx="50.9" cy="44.0" r="1.08"/><circle cx="50.8" cy="32.0" r="0.52"/><circle cx="68.5" cy="38.9" r="0.73"/><circle cx="54.8" cy="30.0" r="0.63"/><circle cx="43.4" cy="33.4" r="1.02"/><circle cx="43.9" cy="29.3" r="1.02"/><circle cx="61.0" cy="44.2" r="0.89"/><circle cx="65.0" cy="37.6" r="0.63"/></g><g fill="#5a4a60" opacity="0.5"><circle cx="118.9" cy="23.8" r="1.29"/><circle cx="-1.2" cy="150.8" r="1.05"/><circle cx="139.3" cy="149.9" r="1.14"/><circle cx="33.3" cy="158.8" r="0.91"/><circle cx="66.1" cy="9.9" r="0.95"/><circle cx="151.3" cy="109.6" r="0.82"/><circle cx="77.9" cy="162.3" r="0.52"/><circle cx="152.7" cy="117.5" r="1.08"/><circle cx="144.1" cy="13.6" r="0.59"/><circle cx="3.9" cy="78.5" r="1.17"/><circle cx="154.3" cy="58.3" r="0.69"/><circle cx="49.2" cy="155.2" r="0.77"/><circle cx="69.7" cy="9.1" r="1.23"/><circle cx="15.3" cy="82.7" r="0.80"/><circle cx="2.9" cy="153.3" r="1.26"/><circle cx="76.3" cy="167.9" r="0.53"/><circle cx="6.3" cy="144.5" r="0.96"/><circle cx="-2.5" cy="54.6" r="1.02"/><circle cx="-1.5" cy="113.8" r="0.78"/><circle cx="148.5" cy="116.5" r="0.75"/><circle cx="5.9" cy="26.3" r="1.19"/><circle cx="117.7" cy="15.1" r="1.17"/><circle cx="145.3" cy="18.7" r="0.58"/><circle cx="147.4" cy="65.3" r="1.13"/><circle cx="-3.2" cy="133.8" r="0.62"/><circle cx="15.4" cy="89.3" r="0.87"/><circle cx="22.1" cy="120.5" r="1.12"/><circle cx="52.6" cy="148.3" r="1.29"/><circle cx="41.6" cy="171.8" r="0.55"/><circle cx="149.0" cy="118.7" r="1.13"/><circle cx="12.6" cy="109.7" r="0.66"/><circle cx="143.7" cy="36.4" r="0.63"/><circle cx="140.5" cy="5.8" r="0.83"/><circle cx="66.7" cy="158.8" r="1.28"/><circle cx="37.3" cy="162.7" r="0.52"/><circle cx="51.5" cy="154.2" r="0.64"/><circle cx="107.7" cy="171.0" r="0.99"/><circle cx="72.7" cy="1.4" r="0.86"/><circle cx="122.7" cy="25.2" r="1.26"/><circle cx="158.4" cy="96.5" r="0.92"/><circle cx="25.4" cy="148.6" r="1.22"/><circle cx="16.1" cy="151.8" r="1.05"/><circle cx="150.0" cy="22.7" r="1.03"/><circle cx="131.3" cy="148.9" r="1.12"/><circle cx="159.6" cy="62.6" r="1.03"/><circle cx="12.1" cy="19.2" r="0.68"/><circle cx="105.7" cy="8.8" r="1.05"/><circle cx="35.1" cy="137.6" r="1.25"/><circle cx="106.0" cy="163.1" r="0.95"/><circle cx="3.0" cy="131.1" r="0.68"/><circle cx="151.5" cy="63.1" r="0.51"/><circle cx="138.6" cy="152.1" r="1.17"/><circle cx="6.9" cy="158.0" r="0.85"/><circle cx="16.5" cy="106.0" r="0.54"/><circle cx="133.0" cy="12.0" r="0.61"/><circle cx="54.1" cy="163.6" r="1.21"/><circle cx="79.7" cy="21.6" r="0.97"/><circle cx="16.2" cy="136.6" r="0.65"/><circle cx="43.3" cy="155.6" r="1.10"/><circle cx="131.6" cy="15.1" r="0.72"/><circle cx="21.9" cy="161.7" r="0.70"/><circle cx="150.8" cy="113.7" r="1.09"/><circle cx="24.3" cy="157.0" r="1.25"/><circle cx="13.1" cy="60.7" r="0.65"/><circle cx="18.1" cy="97.9" r="0.85"/><circle cx="112.2" cy="19.9" r="1.02"/><circle cx="58.4" cy="10.6" r="0.77"/><circle cx="24.2" cy="146.1" r="0.79"/><circle cx="72.9" cy="171.7" r="1.03"/><circle cx="95.6" cy="25.2" r="0.69"/><circle cx="57.3" cy="7.9" r="0.72"/><circle cx="147.2" cy="38.3" r="0.60"/><circle cx="7.5" cy="172.0" r="0.67"/><circle cx="8.8" cy="59.1" r="0.53"/><circle cx="-1.0" cy="136.2" r="1.01"/><circle cx="121.7" cy="21.1" r="1.26"/><circle cx="160.6" cy="80.5" r="0.76"/><circle cx="60.8" cy="156.1" r="1.13"/><circle cx="-0.5" cy="82.8" r="0.74"/><circle cx="47.7" cy="163.5" r="0.68"/><circle cx="-2.2" cy="166.5" r="0.55"/><circle cx="123.3" cy="1.6" r="0.74"/><circle cx="130.2" cy="48.7" r="0.51"/><circle cx="151.8" cy="19.4" r="1.04"/><circle cx="137.9" cy="10.4" r="1.29"/><circle cx="-0.1" cy="14.4" r="0.70"/><circle cx="142.0" cy="121.5" r="0.84"/><circle cx="148.9" cy="86.7" r="0.62"/><circle cx="153.4" cy="126.0" r="1.30"/><circle cx="145.4" cy="19.3" r="0.51"/><circle cx="40.1" cy="163.4" r="0.57"/><circle cx="142.9" cy="4.9" r="0.96"/><circle cx="138.2" cy="37.9" r="0.72"/><circle cx="92.7" cy="26.6" r="1.02"/><circle cx="150.1" cy="52.2" r="0.64"/><circle cx="142.8" cy="5.4" r="1.18"/><circle cx="58.8" cy="164.8" r="1.02"/><circle cx="95.6" cy="8.9" r="0.96"/><circle cx="150.4" cy="57.8" r="0.84"/><circle cx="8.3" cy="70.5" r="0.87"/><circle cx="96.9" cy="21.2" r="1.02"/><circle cx="73.2" cy="158.8" r="0.61"/><circle cx="144.6" cy="73.1" r="0.68"/><circle cx="27.9" cy="150.0" r="0.76"/><circle cx="36.1" cy="142.6" r="1.12"/><circle cx="151.4" cy="14.8" r="1.12"/><circle cx="146.0" cy="133.9" r="0.52"/><circle cx="141.7" cy="36.7" r="0.71"/><circle cx="22.7" cy="145.7" r="0.71"/><circle cx="7.8" cy="28.4" r="0.60"/><circle cx="19.8" cy="155.3" r="0.52"/><circle cx="-0.4" cy="76.8" r="1.17"/><circle cx="148.8" cy="140.9" r="0.54"/><circle cx="2.7" cy="126.5" r="0.87"/><circle cx="130.4" cy="44.8" r="1.27"/><circle cx="45.9" cy="149.4" r="0.56"/><circle cx="2.2" cy="101.6" r="1.10"/><circle cx="102.2" cy="7.4" r="1.25"/><circle cx="113.8" cy="-2.8" r="0.85"/><circle cx="103.5" cy="168.2" r="0.78"/><circle cx="11.4" cy="136.8" r="1.21"/><circle cx="12.6" cy="66.4" r="0.91"/><circle cx="101.6" cy="168.4" r="0.66"/><circle cx="48.1" cy="162.8" r="1.13"/><circle cx="41.6" cy="-1.1" r="0.87"/><circle cx="-1.4" cy="-1.6" r="1.05"/><circle cx="150.2" cy="82.4" r="1.11"/><circle cx="73.7" cy="165.2" r="0.59"/><circle cx="-0.2" cy="138.1" r="0.66"/><circle cx="4.6" cy="33.1" r="0.84"/><circle cx="5.4" cy="125.8" r="0.84"/><circle cx="0.5" cy="163.6" r="1.28"/><circle cx="2.4" cy="153.1" r="0.74"/><circle cx="9.2" cy="56.0" r="0.84"/><circle cx="15.8" cy="119.5" r="0.97"/><circle cx="89.2" cy="169.6" r="1.19"/><circle cx="126.9" cy="162.8" r="1.11"/><circle cx="79.2" cy="-2.0" r="1.28"/><circle cx="137.3" cy="64.8" r="1.12"/><circle cx="13.3" cy="89.6" r="0.54"/><circle cx="145.4" cy="18.7" r="1.10"/><circle cx="113.2" cy="36.5" r="0.60"/><circle cx="109.5" cy="11.3" r="0.75"/><circle cx="148.0" cy="125.9" r="0.81"/><circle cx="150.9" cy="41.8" r="1.06"/><circle cx="4.0" cy="91.4" r="1.07"/><circle cx="136.9" cy="43.9" r="1.03"/><circle cx="158.3" cy="56.3" r="0.81"/><circle cx="28.1" cy="133.6" r="0.75"/><circle cx="38.6" cy="142.1" r="0.50"/><circle cx="109.0" cy="19.9" r="1.18"/><circle cx="15.1" cy="134.1" r="0.62"/><circle cx="11.2" cy="91.1" r="1.01"/><circle cx="85.8" cy="3.6" r="1.11"/><circle cx="151.2" cy="72.7" r="1.30"/><circle cx="151.3" cy="32.7" r="0.90"/><circle cx="89.0" cy="4.4" r="1.11"/><circle cx="113.9" cy="168.3" r="1.10"/><circle cx="136.2" cy="53.5" r="1.29"/><circle cx="33.6" cy="157.1" r="1.24"/><circle cx="29.5" cy="138.4" r="0.67"/><circle cx="69.3" cy="3.5" r="0.61"/><circle cx="42.5" cy="157.9" r="0.95"/><circle cx="2.4" cy="169.9" r="0.77"/><circle cx="151.2" cy="43.0" r="1.21"/><circle cx="39.8" cy="0.0" r="0.56"/><circle cx="40.8" cy="143.9" r="0.81"/><circle cx="8.1" cy="83.1" r="0.57"/><circle cx="-2.7" cy="159.1" r="0.58"/><circle cx="15.0" cy="41.7" r="0.60"/><circle cx="4.6" cy="24.6" r="0.71"/><circle cx="156.5" cy="78.9" r="0.65"/><circle cx="147.5" cy="114.4" r="0.89"/><circle cx="114.2" cy="157.1" r="0.90"/><circle cx="122.3" cy="165.8" r="1.22"/><circle cx="22.2" cy="166.9" r="0.94"/><circle cx="138.4" cy="136.4" r="1.09"/><circle cx="35.1" cy="166.2" r="1.03"/><circle cx="5.2" cy="106.2" r="0.72"/><circle cx="12.6" cy="110.4" r="1.23"/><circle cx="99.9" cy="28.2" r="0.95"/><circle cx="26.5" cy="145.0" r="0.98"/><circle cx="46.7" cy="169.7" r="0.99"/><circle cx="7.6" cy="116.9" r="0.79"/><circle cx="47.9" cy="154.2" r="0.60"/><circle cx="78.0" cy="6.4" r="0.63"/><circle cx="36.9" cy="2.0" r="1.06"/><circle cx="-2.2" cy="65.0" r="1.13"/><circle cx="31.7" cy="152.3" r="0.72"/><circle cx="10.2" cy="44.8" r="1.17"/><circle cx="132.2" cy="155.3" r="1.21"/><circle cx="158.4" cy="48.5" r="0.53"/><circle cx="147.0" cy="77.4" r="0.97"/><circle cx="24.6" cy="-1.8" r="0.58"/><circle cx="6.2" cy="139.7" r="0.93"/><circle cx="72.6" cy="2.9" r="1.29"/><circle cx="104.0" cy="21.7" r="0.90"/><circle cx="9.2" cy="165.1" r="0.86"/><circle cx="53.9" cy="171.4" r="0.96"/><circle cx="-2.2" cy="113.8" r="0.54"/></g></g><line x1="81" y1="105" x2="84.4" y2="125.2" stroke="#000" stroke-width="2.3"/><polygon points="86.5,138 77.8,125.3 90.6,123.1" fill="#000"/>
</g>
<rect x="1.1" y="1.1" width="165.3" height="164.3" fill="none" stroke="#000" stroke-width="2.2"/>
</g>
<clipPath id="h32"><rect x="0" y="0" width="167.5" height="166.5"/></clipPath>
<g transform="translate(683,367)"><g clip-path="url(#h32)">
<rect x="0" y="0" width="167.5" height="166.5" fill="#f6f4f4"/>
<g filter="url(#tex)"><path d="M3.0,63.0 C5.3,59.3 6.5,53.7 10.0,48.0 C13.5,42.3 17.7,34.8 24.0,29.0 C30.3,23.2 40.2,17.2 48.0,13.0 C55.8,8.8 62.7,5.7 71.0,4.0 C79.3,2.3 90.0,0.5 98.0,3.0 C106.0,5.5 111.5,15.0 119.0,19.0 C126.5,23.0 138.0,22.8 143.0,27.0 C148.0,31.2 145.3,38.0 149.0,44.0 C152.7,50.0 161.2,58.7 165.0,63.0 C168.8,67.3 170.8,51.8 172.0,70.0 C173.2,88.2 201.3,155.0 172.0,172.0 C142.7,189.0 25.3,189.0 -4.0,172.0 C-33.3,155.0 -5.2,88.2 -4.0,70.0 C-2.8,51.8 0.7,66.7 3.0,63.0 Z" fill="#d0b6c6" /><path d="M103.0,8.0 C105.2,6.0 118.0,18.3 125.0,22.0 C132.0,25.7 140.8,26.0 145.0,30.0 C149.2,34.0 146.5,40.3 150.0,46.0 C153.5,51.7 163.3,56.7 166.0,64.0 C168.7,71.3 168.7,87.3 166.0,90.0 C163.3,92.7 156.0,85.0 150.0,80.0 C144.0,75.0 136.3,67.7 130.0,60.0 C123.7,52.3 116.5,42.7 112.0,34.0 C107.5,25.3 100.8,10.0 103.0,8.0 Z" fill="#8e5660" opacity="0.65" filter="url(#blur1)"/><path d="M24.0,29.0 C27.3,24.5 42.7,15.2 48.0,13.0 C53.3,10.8 57.3,13.5 56.0,16.0 C54.7,18.5 44.7,24.0 40.0,28.0 C35.3,32.0 30.7,39.8 28.0,40.0 C25.3,40.2 20.7,33.5 24.0,29.0 Z" fill="#8a4a5a" opacity="0.7"/><path d="M22.0,67.0 C23.7,61.2 27.0,52.5 32.0,48.0 C37.0,43.5 44.2,41.8 52.0,40.0 C59.8,38.2 71.8,35.7 79.0,37.0 C86.2,38.3 89.7,43.0 95.0,48.0 C100.3,53.0 105.7,60.2 111.0,67.0 C116.3,73.8 123.0,83.0 127.0,89.0 C131.0,95.0 132.8,97.2 135.0,103.0 C137.2,108.8 140.5,119.0 140.0,124.0 C139.5,129.0 138.2,131.7 132.0,133.0 C125.8,134.3 111.2,131.3 103.0,132.0 C94.8,132.7 88.3,135.0 83.0,137.0 C77.7,139.0 76.2,143.8 71.0,144.0 C65.8,144.2 58.0,141.3 52.0,138.0 C46.0,134.7 39.5,129.8 35.0,124.0 C30.5,118.2 27.2,109.8 25.0,103.0 C22.8,96.2 22.5,89.0 22.0,83.0 C21.5,77.0 20.3,72.8 22.0,67.0 Z" fill="#f6f4f4" /><path d="M70.0,142.0 C71.7,137.7 79.7,137.7 82.0,140.0 C84.3,142.3 84.3,151.3 84.0,156.0 C83.7,160.7 82.0,166.3 80.0,168.0 C78.0,169.7 73.7,170.3 72.0,166.0 C70.3,161.7 68.3,146.3 70.0,142.0 Z" fill="#6a2a40" /><path d="M87.0,150.0 C90.0,146.3 102.2,146.3 106.0,150.0 C109.8,153.7 113.0,168.3 110.0,172.0 C107.0,175.7 91.8,175.7 88.0,172.0 C84.2,168.3 84.0,153.7 87.0,150.0 Z" fill="#f4f2f2" /><path d="M143.0,148.0 C146.5,143.3 161.2,140.0 166.0,144.0 C170.8,148.0 175.5,167.3 172.0,172.0 C168.5,176.7 149.8,176.0 145.0,172.0 C140.2,168.0 139.5,152.7 143.0,148.0 Z" fill="#f2f0f0" /><path d="M88.0,62.0 C89.7,63.7 95.3,69.0 98.0,72.0 C100.7,75.0 103.0,78.7 104.0,80.0 " fill="none" stroke="#8a5a70" stroke-width="1.6" stroke-linecap="round" /></g>
</g>
<rect x="1.1" y="1.1" width="165.3" height="164.3" fill="none" stroke="#000" stroke-width="2.2"/>
</g>
<clipPath id="h41"><rect x="0" y="0" width="167.5" height="166.5"/></clipPath>
<g transform="translate(513.3,536)"><g clip-path="url(#h41)">
<rect x="0" y="0" width="167.5" height="166.5" fill="#f6f6f6"/>
<g filter="url(#tex)"><path d="M5.0,32.0 C5.3,25.0 6.8,14.5 10.0,10.0 C13.2,5.5 18.8,4.5 24.0,5.0 C29.2,5.5 36.3,10.3 41.0,13.0 C45.7,15.7 46.3,19.5 52.0,21.0 C57.7,22.5 68.3,20.2 75.0,22.0 C81.7,23.8 86.0,28.8 92.0,32.0 C98.0,35.2 105.2,37.0 111.0,41.0 C116.8,45.0 121.7,50.7 127.0,56.0 C132.3,61.3 138.2,68.0 143.0,73.0 C147.8,78.0 152.7,81.0 156.0,86.0 C159.3,91.0 162.3,96.2 163.0,103.0 C163.7,109.8 162.5,119.5 160.0,127.0 C157.5,134.5 153.0,142.5 148.0,148.0 C143.0,153.5 136.2,157.7 130.0,160.0 C123.8,162.3 116.8,162.7 111.0,162.0 C105.2,161.3 100.3,160.5 95.0,156.0 C89.7,151.5 83.0,140.8 79.0,135.0 C75.0,129.2 73.7,124.5 71.0,121.0 C68.3,117.5 66.8,117.0 63.0,114.0 C59.2,111.0 53.7,106.7 48.0,103.0 C42.3,99.3 34.8,97.3 29.0,92.0 C23.2,86.7 16.5,77.7 13.0,71.0 C9.5,64.3 9.3,58.5 8.0,52.0 C6.7,45.5 4.7,39.0 5.0,32.0 Z" fill="#a8a0b6" /><path d="M6.0,30.0 C5.3,25.0 7.0,14.2 10.0,10.0 C13.0,5.8 18.8,4.5 24.0,5.0 C29.2,5.5 36.3,10.3 41.0,13.0 C45.7,15.7 46.3,19.5 52.0,21.0 C57.7,22.5 68.3,20.2 75.0,22.0 C81.7,23.8 86.0,28.8 92.0,32.0 C98.0,35.2 105.2,37.0 111.0,41.0 C116.8,45.0 121.7,50.7 127.0,56.0 C132.3,61.3 138.2,68.0 143.0,73.0 C147.8,78.0 154.8,82.8 156.0,86.0 C157.2,89.2 156.0,94.7 150.0,92.0 C144.0,89.3 130.0,77.0 120.0,70.0 C110.0,63.0 100.7,55.7 90.0,50.0 C79.3,44.3 66.0,39.3 56.0,36.0 C46.0,32.7 37.0,29.3 30.0,30.0 C23.0,30.7 18.0,40.0 14.0,40.0 C10.0,40.0 6.7,35.0 6.0,30.0 Z" fill="#8c8a94" opacity="0.85"/><path d="M10.0,48.0 C10.0,41.2 12.3,32.8 16.0,29.0 C19.7,25.2 25.3,23.2 32.0,25.0 C38.7,26.8 48.2,36.2 56.0,40.0 C63.8,43.8 71.2,44.2 79.0,48.0 C86.8,51.8 95.5,57.2 103.0,63.0 C110.5,68.8 118.2,77.2 124.0,83.0 C129.8,88.8 135.3,92.8 138.0,98.0 C140.7,103.2 141.0,109.2 140.0,114.0 C139.0,118.8 135.2,123.0 132.0,127.0 C128.8,131.0 124.5,136.7 121.0,138.0 C117.5,139.3 114.8,139.5 111.0,135.0 C107.2,130.5 103.3,116.5 98.0,111.0 C92.7,105.5 86.0,104.7 79.0,102.0 C72.0,99.3 63.8,97.7 56.0,95.0 C48.2,92.3 38.7,90.2 32.0,86.0 C25.3,81.8 19.7,76.3 16.0,70.0 C12.3,63.7 10.0,54.8 10.0,48.0 Z" fill="#c8346a" /><path d="M24.0,44.0 C25.3,40.5 27.5,37.3 32.0,38.0 C36.5,38.7 44.5,44.3 51.0,48.0 C57.5,51.7 63.7,55.5 71.0,60.0 C78.3,64.5 87.0,69.7 95.0,75.0 C103.0,80.3 113.7,86.5 119.0,92.0 C124.3,97.5 125.7,102.2 127.0,108.0 C128.3,113.8 128.7,121.7 127.0,127.0 C125.3,132.3 119.7,138.5 117.0,140.0 C114.3,141.5 112.2,140.3 111.0,136.0 C109.8,131.7 112.7,120.3 110.0,114.0 C107.3,107.7 101.5,102.2 95.0,98.0 C88.5,93.8 78.8,92.2 71.0,89.0 C63.2,85.8 54.8,82.0 48.0,79.0 C41.2,76.0 34.0,74.3 30.0,71.0 C26.0,67.7 25.0,63.5 24.0,59.0 C23.0,54.5 22.7,47.5 24.0,44.0 Z" fill="#f6f5f6" /><g fill="#f0d0dc" opacity="0.6"><circle cx="53.6" cy="41.0" r="1.02"/><circle cx="69.4" cy="95.8" r="0.71"/><circle cx="136.6" cy="119.1" r="1.05"/><circle cx="78.0" cy="51.5" r="0.61"/><circle cx="119.5" cy="80.5" r="1.14"/><circle cx="69.1" cy="94.3" r="0.85"/><circle cx="13.0" cy="41.3" r="0.66"/><circle cx="80.1" cy="99.5" r="0.78"/><circle cx="51.5" cy="82.8" r="1.17"/><circle cx="23.1" cy="35.5" r="0.59"/><circle cx="33.2" cy="26.3" r="0.87"/><circle cx="104.9" cy="77.1" r="0.53"/><circle cx="13.9" cy="47.4" r="0.97"/><circle cx="23.4" cy="49.4" r="0.79"/><circle cx="24.1" cy="38.1" r="0.80"/><circle cx="66.3" cy="50.4" r="0.63"/><circle cx="26.1" cy="33.6" r="1.20"/><circle cx="49.6" cy="81.4" r="0.87"/><circle cx="71.4" cy="91.6" r="0.85"/><circle cx="92.2" cy="100.6" r="1.01"/><circle cx="16.8" cy="62.8" r="0.62"/><circle cx="102.4" cy="70.5" r="0.77"/><circle cx="39.0" cy="76.3" r="1.00"/><circle cx="61.4" cy="95.4" r="0.54"/><circle cx="134.3" cy="103.2" r="0.66"/><circle cx="76.4" cy="49.7" r="0.91"/><circle cx="107.2" cy="127.4" r="0.58"/><circle cx="66.7" cy="45.6" r="0.56"/><circle cx="20.2" cy="28.7" r="0.61"/><circle cx="110.5" cy="72.2" r="1.03"/><circle cx="59.8" cy="46.9" r="1.02"/><circle cx="35.0" cy="34.1" r="1.17"/><circle cx="31.7" cy="31.4" r="0.53"/><circle cx="49.3" cy="41.6" r="0.80"/><circle cx="90.2" cy="58.6" r="0.71"/><circle cx="35.7" cy="34.3" r="0.79"/><circle cx="51.3" cy="44.2" r="0.79"/><circle cx="18.6" cy="53.7" r="0.79"/><circle cx="25.3" cy="72.4" r="0.84"/><circle cx="130.7" cy="93.8" r="0.71"/><circle cx="130.3" cy="110.7" r="0.94"/><circle cx="21.8" cy="54.8" r="1.16"/><circle cx="128.4" cy="125.0" r="0.74"/><circle cx="63.3" cy="91.6" r="0.87"/><circle cx="92.2" cy="106.3" r="0.67"/><circle cx="131.5" cy="124.0" r="1.07"/><circle cx="129.3" cy="108.1" r="0.72"/><circle cx="20.5" cy="30.8" r="0.94"/><circle cx="47.5" cy="35.9" r="1.17"/><circle cx="134.2" cy="116.2" r="0.54"/><circle cx="23.6" cy="34.8" r="0.97"/><circle cx="49.8" cy="88.5" r="0.63"/><circle cx="103.2" cy="64.2" r="0.58"/><circle cx="130.3" cy="116.6" r="0.81"/><circle cx="35.5" cy="87.0" r="0.55"/><circle cx="138.5" cy="116.1" r="0.55"/><circle cx="22.4" cy="66.7" r="0.74"/><circle cx="66.7" cy="55.8" r="0.80"/><circle cx="98.5" cy="61.5" r="1.08"/><circle cx="69.2" cy="52.4" r="0.86"/><circle cx="51.1" cy="82.8" r="1.17"/><circle cx="128.9" cy="100.6" r="0.95"/><circle cx="54.6" cy="94.0" r="0.59"/><circle cx="98.9" cy="67.1" r="0.87"/><circle cx="28.1" cy="74.2" r="1.07"/><circle cx="51.0" cy="91.6" r="0.54"/><circle cx="93.3" cy="67.9" r="0.90"/><circle cx="103.4" cy="68.8" r="0.99"/><circle cx="17.6" cy="38.3" r="0.73"/><circle cx="104.2" cy="121.4" r="0.58"/><circle cx="30.2" cy="30.4" r="0.70"/><circle cx="120.3" cy="89.3" r="0.62"/><circle cx="30.4" cy="36.5" r="0.77"/><circle cx="27.5" cy="37.0" r="0.89"/><circle cx="30.2" cy="26.2" r="0.53"/><circle cx="38.2" cy="39.0" r="0.89"/><circle cx="18.3" cy="44.1" r="1.05"/><circle cx="88.5" cy="106.2" r="0.54"/><circle cx="76.3" cy="100.4" r="1.03"/><circle cx="136.7" cy="104.6" r="0.62"/><circle cx="79.0" cy="61.1" r="0.97"/><circle cx="135.6" cy="110.2" r="0.86"/><circle cx="79.9" cy="64.0" r="0.91"/><circle cx="78.4" cy="50.5" r="1.13"/><circle cx="12.6" cy="51.8" r="0.67"/><circle cx="111.1" cy="74.6" r="1.14"/><circle cx="89.8" cy="56.4" r="0.90"/><circle cx="66.8" cy="96.2" r="0.80"/><circle cx="99.0" cy="69.2" r="0.71"/><circle cx="83.9" cy="97.2" r="0.84"/><circle cx="105.7" cy="109.5" r="0.93"/><circle cx="13.9" cy="42.8" r="0.97"/><circle cx="20.5" cy="28.7" r="0.77"/><circle cx="70.5" cy="59.6" r="1.11"/><circle cx="94.7" cy="73.8" r="0.86"/><circle cx="125.0" cy="87.3" r="0.85"/><circle cx="94.9" cy="102.4" r="0.54"/><circle cx="18.3" cy="40.2" r="0.64"/><circle cx="56.2" cy="50.1" r="0.95"/><circle cx="101.7" cy="116.7" r="0.92"/><circle cx="100.2" cy="106.5" r="0.55"/><circle cx="78.5" cy="94.6" r="0.55"/><circle cx="13.4" cy="49.6" r="0.54"/><circle cx="41.9" cy="86.6" r="1.15"/><circle cx="42.6" cy="86.0" r="0.80"/><circle cx="75.1" cy="96.7" r="0.61"/><circle cx="24.5" cy="40.5" r="0.70"/><circle cx="22.5" cy="75.3" r="0.70"/><circle cx="57.6" cy="88.7" r="1.12"/><circle cx="133.3" cy="114.0" r="1.04"/><circle cx="108.4" cy="76.7" r="0.77"/><circle cx="76.8" cy="48.4" r="1.16"/><circle cx="43.6" cy="35.8" r="1.12"/><circle cx="31.8" cy="34.9" r="1.04"/><circle cx="130.0" cy="107.6" r="0.75"/><circle cx="131.4" cy="93.0" r="0.73"/><circle cx="137.7" cy="117.4" r="0.58"/><circle cx="135.7" cy="107.4" r="0.81"/><circle cx="76.1" cy="91.7" r="1.13"/><circle cx="94.7" cy="109.1" r="1.05"/><circle cx="71.7" cy="92.3" r="0.54"/><circle cx="63.3" cy="46.9" r="0.91"/><circle cx="60.0" cy="51.4" r="0.98"/><circle cx="130.8" cy="105.7" r="0.69"/><circle cx="127.2" cy="88.9" r="0.81"/><circle cx="117.3" cy="83.9" r="0.95"/><circle cx="50.7" cy="88.9" r="0.87"/><circle cx="76.7" cy="95.1" r="0.99"/><circle cx="22.2" cy="33.4" r="1.01"/><circle cx="133.2" cy="96.8" r="1.00"/><circle cx="23.9" cy="31.8" r="0.52"/><circle cx="23.7" cy="49.6" r="1.13"/><circle cx="123.4" cy="86.0" r="0.55"/><circle cx="19.5" cy="61.0" r="0.86"/><circle cx="105.3" cy="77.2" r="0.74"/><circle cx="77.2" cy="97.5" r="1.06"/><circle cx="19.6" cy="60.9" r="0.96"/><circle cx="102.2" cy="114.2" r="0.51"/><circle cx="16.7" cy="46.1" r="1.15"/><circle cx="128.0" cy="128.4" r="1.12"/><circle cx="41.0" cy="37.7" r="1.14"/><circle cx="62.1" cy="86.6" r="0.67"/><circle cx="122.5" cy="88.6" r="0.78"/><circle cx="23.7" cy="50.9" r="0.74"/><circle cx="100.6" cy="107.4" r="1.02"/><circle cx="70.1" cy="47.4" r="0.94"/><circle cx="60.1" cy="42.3" r="0.97"/><circle cx="93.1" cy="60.4" r="0.74"/><circle cx="126.7" cy="130.2" r="1.04"/><circle cx="117.6" cy="90.8" r="0.76"/><circle cx="70.0" cy="91.1" r="1.09"/><circle cx="132.6" cy="93.0" r="1.13"/><circle cx="122.4" cy="96.8" r="1.14"/><circle cx="88.7" cy="69.7" r="1.00"/><circle cx="87.6" cy="66.2" r="0.52"/><circle cx="35.5" cy="34.6" r="1.08"/><circle cx="71.0" cy="46.4" r="0.59"/><circle cx="37.4" cy="87.4" r="0.79"/><circle cx="91.5" cy="104.4" r="0.80"/><circle cx="105.5" cy="115.0" r="1.04"/></g><g fill="#8a88b0" opacity="0.6"><circle cx="75.7" cy="70.4" r="0.82"/><circle cx="114.9" cy="103.2" r="0.55"/><circle cx="78.3" cy="74.7" r="0.53"/><circle cx="86.2" cy="94.7" r="0.68"/><circle cx="64.3" cy="58.0" r="0.53"/><circle cx="39.5" cy="49.3" r="0.51"/><circle cx="110.7" cy="92.8" r="0.80"/><circle cx="118.8" cy="120.7" r="0.42"/><circle cx="91.7" cy="79.2" r="0.44"/><circle cx="51.3" cy="54.7" r="0.55"/><circle cx="98.7" cy="87.7" r="0.60"/><circle cx="77.1" cy="83.4" r="0.88"/><circle cx="56.8" cy="57.3" r="0.58"/><circle cx="82.5" cy="81.1" r="0.85"/><circle cx="119.8" cy="94.7" r="0.71"/><circle cx="77.4" cy="91.4" r="0.50"/><circle cx="102.8" cy="83.8" r="0.62"/><circle cx="109.1" cy="85.7" r="0.78"/><circle cx="45.8" cy="65.3" r="0.66"/><circle cx="111.6" cy="119.0" r="0.61"/><circle cx="51.8" cy="73.4" r="0.67"/><circle cx="53.3" cy="70.8" r="0.57"/><circle cx="74.9" cy="66.9" r="0.46"/><circle cx="56.0" cy="58.4" r="0.58"/><circle cx="78.4" cy="77.6" r="0.66"/><circle cx="79.1" cy="70.3" r="0.80"/><circle cx="114.7" cy="135.6" r="0.60"/><circle cx="68.0" cy="70.8" r="0.78"/><circle cx="53.7" cy="62.7" r="0.53"/><circle cx="63.0" cy="55.4" r="0.87"/><circle cx="123.3" cy="113.8" r="0.55"/><circle cx="112.9" cy="132.0" r="0.66"/><circle cx="38.8" cy="48.6" r="0.81"/><circle cx="115.5" cy="104.7" r="0.79"/><circle cx="44.9" cy="70.2" r="0.42"/><circle cx="93.5" cy="88.2" r="0.61"/><circle cx="50.7" cy="68.9" r="0.85"/><circle cx="120.9" cy="114.7" r="0.51"/><circle cx="45.4" cy="75.0" r="0.84"/><circle cx="89.2" cy="76.7" r="0.63"/><circle cx="73.9" cy="83.1" r="0.72"/><circle cx="111.7" cy="108.7" r="0.52"/><circle cx="122.0" cy="132.9" r="0.83"/><circle cx="74.7" cy="86.3" r="0.60"/><circle cx="44.5" cy="64.2" r="0.42"/><circle cx="33.0" cy="68.2" r="0.71"/><circle cx="50.8" cy="69.8" r="0.59"/><circle cx="118.6" cy="109.8" r="0.54"/><circle cx="122.0" cy="116.3" r="0.45"/><circle cx="38.8" cy="58.1" r="0.80"/><circle cx="34.9" cy="47.8" r="0.64"/><circle cx="55.2" cy="71.7" r="0.41"/><circle cx="79.3" cy="71.0" r="0.63"/><circle cx="98.7" cy="98.2" r="0.73"/><circle cx="54.4" cy="80.8" r="0.44"/><circle cx="51.1" cy="62.3" r="0.65"/><circle cx="109.6" cy="105.1" r="0.64"/><circle cx="34.2" cy="58.9" r="0.67"/><circle cx="107.7" cy="101.0" r="0.50"/><circle cx="29.3" cy="64.7" r="0.76"/><circle cx="107.5" cy="105.9" r="0.49"/><circle cx="105.0" cy="97.8" r="0.73"/><circle cx="35.4" cy="40.4" r="0.47"/><circle cx="91.7" cy="78.7" r="0.54"/><circle cx="123.1" cy="109.4" r="0.53"/><circle cx="99.1" cy="83.6" r="0.44"/><circle cx="56.1" cy="64.5" r="0.76"/><circle cx="35.7" cy="42.1" r="0.58"/><circle cx="57.6" cy="59.4" r="0.49"/><circle cx="111.0" cy="96.7" r="0.70"/></g></g>
</g>
<rect x="1.1" y="1.1" width="165.3" height="164.3" fill="none" stroke="#000" stroke-width="2.2"/>
</g>
<clipPath id="h42"><rect x="0" y="0" width="167.5" height="166.5"/></clipPath>
<g transform="translate(683,536)"><g clip-path="url(#h42)">
<rect x="0" y="0" width="167.5" height="166.5" fill="#f8f8f8"/>
<g filter="url(#tex)"><path d="M3.0,24.0 C4.8,14.3 9.8,15.2 16.0,12.0 C22.2,8.8 31.0,6.5 40.0,5.0 C49.0,3.5 61.3,2.2 70.0,3.0 C78.7,3.8 85.2,3.8 92.0,10.0 C98.8,16.2 105.7,33.0 111.0,40.0 C116.3,47.0 118.7,50.5 124.0,52.0 C129.3,53.5 137.2,47.7 143.0,49.0 C148.8,50.3 154.2,57.5 159.0,60.0 C163.8,62.5 169.8,45.3 172.0,64.0 C174.2,82.7 191.3,154.0 172.0,172.0 C152.7,190.0 76.7,175.5 56.0,172.0 C35.3,168.5 53.3,158.5 48.0,151.0 C42.7,143.5 29.7,135.5 24.0,127.0 C18.3,118.5 17.2,109.5 14.0,100.0 C10.8,90.5 6.8,82.7 5.0,70.0 C3.2,57.3 1.2,33.7 3.0,24.0 Z" fill="#dcd6dc" /><path d="M5.0,30.0 C6.8,22.3 11.8,17.3 16.0,14.0 C20.2,10.7 26.7,7.3 30.0,10.0 C33.3,12.7 36.0,21.7 36.0,30.0 C36.0,38.3 31.7,48.3 30.0,60.0 C28.3,71.7 26.0,88.3 26.0,100.0 C26.0,111.7 31.0,126.7 30.0,130.0 C29.0,133.3 23.3,126.7 20.0,120.0 C16.7,113.3 12.5,100.0 10.0,90.0 C7.5,80.0 5.8,70.0 5.0,60.0 C4.2,50.0 3.2,37.7 5.0,30.0 Z" fill="#c4bcc4" opacity="0.8"/><path d="M44.0,118.0 C48.0,113.7 64.8,118.7 70.0,124.0 C75.2,129.3 75.0,142.0 75.0,150.0 C75.0,158.0 74.2,168.3 70.0,172.0 C65.8,175.7 54.0,175.7 50.0,172.0 C46.0,168.3 47.0,159.0 46.0,150.0 C45.0,141.0 40.0,122.3 44.0,118.0 Z" fill="#f8f8f8" /><path d="M35.0,67.0 C35.7,61.8 37.5,53.8 41.0,48.0 C44.5,42.2 50.2,36.0 56.0,32.0 C61.8,28.0 70.5,24.8 76.0,24.0 C81.5,23.2 85.8,24.3 89.0,27.0 C92.2,29.7 93.7,35.2 95.0,40.0 C96.3,44.8 94.8,50.8 97.0,56.0 C99.2,61.2 103.0,65.5 108.0,71.0 C113.0,76.5 121.2,83.7 127.0,89.0 C132.8,94.3 139.5,98.0 143.0,103.0 C146.5,108.0 148.0,112.8 148.0,119.0 C148.0,125.2 146.5,134.5 143.0,140.0 C139.5,145.5 132.3,150.5 127.0,152.0 C121.7,153.5 114.7,151.8 111.0,149.0 C107.3,146.2 107.2,141.3 105.0,135.0 C102.8,128.7 101.5,117.2 98.0,111.0 C94.5,104.8 89.2,100.3 84.0,98.0 C78.8,95.7 73.0,98.0 67.0,97.0 C61.0,96.0 53.0,95.0 48.0,92.0 C43.0,89.0 39.2,83.2 37.0,79.0 C34.8,74.8 34.3,72.2 35.0,67.0 Z" fill="#c82e60" /><path d="M46.0,68.0 C46.5,63.2 48.2,56.7 51.0,52.0 C53.8,47.3 58.3,43.2 63.0,40.0 C67.7,36.8 74.7,33.0 79.0,33.0 C83.3,33.0 87.2,36.2 89.0,40.0 C90.8,43.8 88.5,51.0 90.0,56.0 C91.5,61.0 93.5,64.8 98.0,70.0 C102.5,75.2 110.8,81.7 117.0,87.0 C123.2,92.3 131.2,96.3 135.0,102.0 C138.8,107.7 140.3,115.2 140.0,121.0 C139.7,126.8 136.2,133.7 133.0,137.0 C129.8,140.3 124.2,141.3 121.0,141.0 C117.8,140.7 116.2,140.0 114.0,135.0 C111.8,130.0 111.2,117.7 108.0,111.0 C104.8,104.3 99.8,98.7 95.0,95.0 C90.2,91.3 84.8,90.3 79.0,89.0 C73.2,87.7 65.2,88.3 60.0,87.0 C54.8,85.7 50.3,84.2 48.0,81.0 C45.7,77.8 45.5,72.8 46.0,68.0 Z" fill="#f8f6f7" /><path d="M75.0,116.0 C76.7,109.7 83.5,108.0 86.0,112.0 C88.5,116.0 90.0,132.0 90.0,140.0 C90.0,148.0 88.3,158.3 86.0,160.0 C83.7,161.7 77.8,157.3 76.0,150.0 C74.2,142.7 73.3,122.3 75.0,116.0 Z" fill="#9a9284" opacity="0.7"/></g><line x1="70" y1="124" x2="76.1" y2="109.0" stroke="#000" stroke-width="2.3"/><polygon points="81,97 82.2,112.6 69.2,107.3" fill="#000"/>
</g>
<rect x="1.1" y="1.1" width="165.3" height="164.3" fill="none" stroke="#000" stroke-width="2.2"/>
</g>
<clipPath id="h51"><rect x="0" y="0" width="167.5" height="167"/></clipPath>
<g transform="translate(513.3,705)"><g clip-path="url(#h51)">
<rect x="0" y="0" width="167.5" height="167" fill="#f7f5ee"/>
<g filter="url(#tex)"><path d="M5.0,42.0 C6.2,36.5 8.5,30.8 13.0,26.0 C17.5,21.2 24.8,16.5 32.0,13.0 C39.2,9.5 49.5,5.5 56.0,5.0 C62.5,4.5 67.2,7.0 71.0,10.0 C74.8,13.0 77.8,18.0 79.0,23.0 C80.2,28.0 76.3,36.7 78.0,40.0 C79.7,43.3 84.8,42.7 89.0,43.0 C93.2,43.3 97.7,40.7 103.0,42.0 C108.3,43.3 115.2,46.8 121.0,51.0 C126.8,55.2 132.2,61.7 138.0,67.0 C143.8,72.3 151.8,78.0 156.0,83.0 C160.2,88.0 162.3,90.8 163.0,97.0 C163.7,103.2 162.8,112.5 160.0,120.0 C157.2,127.5 151.5,136.2 146.0,142.0 C140.5,147.8 134.2,151.8 127.0,155.0 C119.8,158.2 112.3,160.5 103.0,161.0 C93.7,161.5 80.2,160.3 71.0,158.0 C61.8,155.7 54.5,151.5 48.0,147.0 C41.5,142.5 36.3,138.5 32.0,131.0 C27.7,123.5 25.2,110.8 22.0,102.0 C18.8,93.2 15.7,85.2 13.0,78.0 C10.3,70.8 7.3,65.0 6.0,59.0 C4.7,53.0 3.8,47.5 5.0,42.0 Z" fill="#d494ac" /><path d="M14.0,30.0 C16.7,24.7 25.0,19.7 32.0,16.0 C39.0,12.3 49.7,8.3 56.0,8.0 C62.3,7.7 67.3,10.3 70.0,14.0 C72.7,17.7 72.7,24.0 72.0,30.0 C71.3,36.0 64.7,45.0 66.0,50.0 C67.3,55.0 72.7,59.0 80.0,60.0 C87.3,61.0 100.7,54.0 110.0,56.0 C119.3,58.0 131.0,66.3 136.0,72.0 C141.0,77.7 141.3,83.7 140.0,90.0 C138.7,96.3 133.0,103.3 128.0,110.0 C123.0,116.7 117.0,125.0 110.0,130.0 C103.0,135.0 94.3,140.0 86.0,140.0 C77.7,140.0 67.7,136.7 60.0,130.0 C52.3,123.3 45.7,110.0 40.0,100.0 C34.3,90.0 30.0,78.7 26.0,70.0 C22.0,61.3 18.0,54.7 16.0,48.0 C14.0,41.3 11.3,35.3 14.0,30.0 Z" fill="#7e7478" opacity="0.7" filter="url(#blur2)"/><path d="M55.0,23.0 C53.5,25.5 43.5,36.7 42.0,41.0 C40.5,45.3 43.5,45.5 46.0,49.0 C48.5,52.5 53.5,57.8 57.0,62.0 C60.5,66.2 63.2,72.5 67.0,74.0 C70.8,75.5 75.3,72.7 80.0,71.0 C84.7,69.3 90.5,66.5 95.0,64.0 C99.5,61.5 102.5,57.0 107.0,56.0 C111.5,55.0 117.5,56.2 122.0,58.0 C126.5,59.8 133.7,63.7 134.0,67.0 C134.3,70.3 127.0,74.2 124.0,78.0 C121.0,81.8 118.3,85.7 116.0,90.0 C113.7,94.3 112.0,100.0 110.0,104.0 C108.0,108.0 106.3,112.0 104.0,114.0 C101.7,116.0 98.7,117.7 96.0,116.0 C93.3,114.3 91.0,108.0 88.0,104.0 C85.0,100.0 81.7,95.7 78.0,92.0 C74.3,88.3 70.2,85.7 66.0,82.0 C61.8,78.3 56.8,74.2 53.0,70.0 C49.2,65.8 45.8,61.0 43.0,57.0 C40.2,53.0 36.5,49.0 36.0,46.0 C35.5,43.0 37.5,42.3 40.0,39.0 C42.5,35.7 48.5,28.7 51.0,26.0 C53.5,23.3 56.5,20.5 55.0,23.0 Z" fill="#f8f6f4" /><path d="M92.0,63.0 C94.3,61.7 101.2,56.2 106.0,55.0 C110.8,53.8 116.0,54.2 121.0,56.0 C126.0,57.8 134.8,62.7 136.0,66.0 C137.2,69.3 130.5,72.7 128.0,76.0 C125.5,79.3 122.2,84.3 121.0,86.0 " fill="none" stroke="#262626" stroke-width="3.2" stroke-linecap="round" opacity="0.85"/><path d="M40.0,40.0 C42.0,38.0 50.0,30.0 52.0,28.0 " fill="none" stroke="#6a6470" stroke-width="1.5" stroke-linecap="round" opacity="0.6"/></g>
</g>
<rect x="1.1" y="1.1" width="165.3" height="164.8" fill="none" stroke="#000" stroke-width="2.2"/>
</g>
<clipPath id="h52"><rect x="0" y="0" width="167.5" height="167.5"/></clipPath>
<g transform="translate(683.4,704)"><g clip-path="url(#h52)">
<rect x="0" y="0" width="167.5" height="167.5" fill="#f4f5fa"/>
<g filter="url(#tex)"><path d="M-4.0,-4.0 C12.5,-21.3 74.5,-8.7 95.0,-4.0 C115.5,0.7 112.3,16.7 119.0,24.0 C125.7,31.3 129.7,33.5 135.0,40.0 C140.3,46.5 146.3,53.8 151.0,63.0 C155.7,72.2 160.7,85.5 163.0,95.0 C165.3,104.5 165.5,112.5 165.0,120.0 C164.5,127.5 164.2,134.2 160.0,140.0 C155.8,145.8 148.3,151.3 140.0,155.0 C131.7,158.7 120.0,160.3 110.0,162.0 C100.0,163.7 85.2,167.0 80.0,165.0 C74.8,163.0 81.7,156.2 79.0,150.0 C76.3,143.8 70.5,132.3 64.0,128.0 C57.5,123.7 50.2,126.8 40.0,124.0 C29.8,121.2 10.3,115.0 3.0,111.0 C-4.3,107.0 -2.8,119.2 -4.0,100.0 C-5.2,80.8 -20.5,13.3 -4.0,-4.0 Z" fill="#d8a8c8" /><path d="M98.0,-4.0 C106.7,-8.3 159.7,-21.3 172.0,-4.0 C184.3,13.3 174.0,86.0 172.0,100.0 C170.0,114.0 165.3,88.3 160.0,80.0 C154.7,71.7 146.7,59.7 140.0,50.0 C133.3,40.3 127.0,31.0 120.0,22.0 C113.0,13.0 89.3,0.3 98.0,-4.0 Z" fill="#f4f5fa" /><path d="M100.0,2.0 C101.7,1.7 111.7,12.7 118.0,20.0 C124.3,27.3 131.7,36.7 138.0,46.0 C144.3,55.3 151.3,66.2 156.0,76.0 C160.7,85.8 165.3,99.7 166.0,105.0 C166.7,110.3 163.3,112.2 160.0,108.0 C156.7,103.8 151.3,89.7 146.0,80.0 C140.7,70.3 134.3,59.7 128.0,50.0 C121.7,40.3 112.7,30.0 108.0,22.0 C103.3,14.0 98.3,2.3 100.0,2.0 Z" fill="#7a3a62" opacity="0.85"/><path d="M134.0,70.0 C136.3,66.7 147.3,74.2 152.0,80.0 C156.7,85.8 160.7,95.8 162.0,105.0 C163.3,114.2 162.7,127.5 160.0,135.0 C157.3,142.5 150.0,150.8 146.0,150.0 C142.0,149.2 137.3,138.3 136.0,130.0 C134.7,121.7 138.3,110.0 138.0,100.0 C137.7,90.0 131.7,73.3 134.0,70.0 Z" fill="#e8dce8" opacity="0.85"/><path d="M-4.0,104.0 C-2.8,93.8 -4.3,107.7 3.0,111.0 C10.3,114.3 29.8,121.2 40.0,124.0 C50.2,126.8 58.0,122.3 64.0,128.0 C70.0,133.7 73.3,150.7 76.0,158.0 C78.7,165.3 93.3,169.7 80.0,172.0 C66.7,174.3 10.0,183.3 -4.0,172.0 C-18.0,160.7 -5.2,114.2 -4.0,104.0 Z" fill="#f4f5fa" /><path d="M-4.0,60.0 C-1.7,53.7 6.0,63.3 10.0,70.0 C14.0,76.7 20.0,93.3 20.0,100.0 C20.0,106.7 14.0,108.7 10.0,110.0 C6.0,111.3 -1.7,116.3 -4.0,108.0 C-6.3,99.7 -6.3,66.3 -4.0,60.0 Z" fill="#eee4f0" opacity="0.85"/><path d="M4.0,24.0 C6.7,18.7 16.7,15.3 20.0,18.0 C23.3,20.7 24.7,29.7 24.0,40.0 C23.3,50.3 16.0,68.3 16.0,80.0 C16.0,91.7 24.3,104.3 24.0,110.0 C23.7,115.7 17.0,117.3 14.0,114.0 C11.0,110.7 7.7,100.7 6.0,90.0 C4.3,79.3 4.3,61.0 4.0,50.0 C3.7,39.0 1.3,29.3 4.0,24.0 Z" fill="#c8609a" opacity="0.9"/><path d="M78.0,10.0 C81.2,7.0 92.3,7.0 95.0,12.0 C97.7,17.0 95.8,34.0 94.0,40.0 C92.2,46.0 87.0,49.7 84.0,48.0 C81.0,46.3 77.0,36.3 76.0,30.0 C75.0,23.7 74.8,13.0 78.0,10.0 Z" fill="#f4f5fa" opacity="0.85"/><path d="M80.0,146.0 C84.3,144.7 100.0,150.0 110.0,150.0 C120.0,150.0 133.3,145.7 140.0,146.0 C146.7,146.3 151.7,149.3 150.0,152.0 C148.3,154.7 138.3,160.0 130.0,162.0 C121.7,164.0 107.7,164.7 100.0,164.0 C92.3,163.3 87.3,161.0 84.0,158.0 C80.7,155.0 75.7,147.3 80.0,146.0 Z" fill="#c8609a" opacity="0.9"/><path d="M136.0,60.0 C138.0,57.3 144.0,70.0 146.0,80.0 C148.0,90.0 149.0,110.0 148.0,120.0 C147.0,130.0 142.7,138.3 140.0,140.0 C137.3,141.7 133.0,137.3 132.0,130.0 C131.0,122.7 133.3,107.7 134.0,96.0 C134.7,84.3 134.0,62.7 136.0,60.0 Z" fill="#c8609a" opacity="0.8"/><path d="M20.0,46.0 C20.8,39.7 22.5,31.7 26.0,26.0 C29.5,20.3 35.7,14.2 41.0,12.0 C46.3,9.8 53.2,10.0 58.0,13.0 C62.8,16.0 67.0,24.7 70.0,30.0 C73.0,35.3 73.0,41.2 76.0,45.0 C79.0,48.8 83.3,51.2 88.0,53.0 C92.7,54.8 98.2,54.7 104.0,56.0 C109.8,57.3 117.7,58.0 123.0,61.0 C128.3,64.0 133.3,68.3 136.0,74.0 C138.7,79.7 139.0,86.3 139.0,95.0 C139.0,103.7 139.0,117.8 136.0,126.0 C133.0,134.2 127.3,140.5 121.0,144.0 C114.7,147.5 104.2,148.0 98.0,147.0 C91.8,146.0 87.8,143.2 84.0,138.0 C80.2,132.8 78.0,121.3 75.0,116.0 C72.0,110.7 70.8,110.0 66.0,106.0 C61.2,102.0 52.0,96.5 46.0,92.0 C40.0,87.5 34.2,83.7 30.0,79.0 C25.8,74.3 22.7,69.5 21.0,64.0 C19.3,58.5 19.2,52.3 20.0,46.0 Z" fill="#f0e8f0" /><path d="M24.0,48.0 C24.7,42.3 26.2,34.3 29.0,29.0 C31.8,23.7 36.5,18.0 41.0,16.0 C45.5,14.0 51.7,14.3 56.0,17.0 C60.3,19.7 64.2,26.8 67.0,32.0 C69.8,37.2 69.8,43.8 73.0,48.0 C76.2,52.2 81.0,55.0 86.0,57.0 C91.0,59.0 97.2,58.7 103.0,60.0 C108.8,61.3 116.2,62.3 121.0,65.0 C125.8,67.7 129.7,71.0 132.0,76.0 C134.3,81.0 135.0,87.0 135.0,95.0 C135.0,103.0 134.7,116.5 132.0,124.0 C129.3,131.5 124.7,136.8 119.0,140.0 C113.3,143.2 103.5,143.8 98.0,143.0 C92.5,142.2 89.3,139.8 86.0,135.0 C82.7,130.2 81.0,119.3 78.0,114.0 C75.0,108.7 73.0,107.2 68.0,103.0 C63.0,98.8 54.0,93.5 48.0,89.0 C42.0,84.5 35.8,80.3 32.0,76.0 C28.2,71.7 26.3,67.7 25.0,63.0 C23.7,58.3 23.3,53.7 24.0,48.0 Z" fill="#5e2446" /><path d="M32.0,48.0 C32.3,42.8 33.0,36.0 35.0,32.0 C37.0,28.0 41.2,24.8 44.0,24.0 C46.8,23.2 49.3,23.7 52.0,27.0 C54.7,30.3 57.3,38.5 60.0,44.0 C62.7,49.5 64.2,55.5 68.0,60.0 C71.8,64.5 78.0,68.5 83.0,71.0 C88.0,73.5 92.8,74.3 98.0,75.0 C103.2,75.7 109.7,73.2 114.0,75.0 C118.3,76.8 122.2,81.3 124.0,86.0 C125.8,90.7 125.5,96.7 125.0,103.0 C124.5,109.3 123.8,119.2 121.0,124.0 C118.2,128.8 112.3,131.0 108.0,132.0 C103.7,133.0 98.5,133.0 95.0,130.0 C91.5,127.0 89.7,118.7 87.0,114.0 C84.3,109.3 83.5,106.2 79.0,102.0 C74.5,97.8 66.0,93.3 60.0,89.0 C54.0,84.7 47.5,80.3 43.0,76.0 C38.5,71.7 34.8,67.7 33.0,63.0 C31.2,58.3 31.7,53.2 32.0,48.0 Z" fill="#f4f5fa" /><path d="M40.0,40.0 C41.0,36.3 44.0,32.3 46.0,34.0 C48.0,35.7 52.0,45.7 52.0,50.0 C52.0,54.3 48.0,59.0 46.0,60.0 C44.0,61.0 41.0,59.3 40.0,56.0 C39.0,52.7 39.0,43.7 40.0,40.0 Z" fill="#8088b0" opacity="0.4"/><path d="M90.0,85.0 C93.0,82.3 105.7,81.5 110.0,84.0 C114.3,86.5 117.0,95.7 116.0,100.0 C115.0,104.3 108.0,110.0 104.0,110.0 C100.0,110.0 94.3,104.2 92.0,100.0 C89.7,95.8 87.0,87.7 90.0,85.0 Z" fill="#8088b0" opacity="0.35"/><g fill="#4a5090" opacity="0.6"><circle cx="77.5" cy="77.4" r="0.69"/><circle cx="105.2" cy="117.5" r="0.97"/><circle cx="53.8" cy="49.6" r="0.84"/><circle cx="95.0" cy="118.3" r="0.90"/><circle cx="52.1" cy="56.3" r="0.40"/><circle cx="99.6" cy="82.1" r="0.76"/><circle cx="42.7" cy="75.6" r="0.95"/><circle cx="72.6" cy="68.0" r="0.69"/><circle cx="86.7" cy="81.7" r="0.60"/><circle cx="107.5" cy="113.0" r="0.73"/><circle cx="40.2" cy="40.0" r="0.49"/><circle cx="116.7" cy="92.0" r="0.88"/><circle cx="108.1" cy="97.6" r="0.72"/><circle cx="96.1" cy="119.5" r="0.69"/><circle cx="45.3" cy="60.6" r="0.91"/><circle cx="45.6" cy="41.6" r="0.84"/><circle cx="79.8" cy="84.3" r="0.68"/><circle cx="69.6" cy="89.9" r="0.68"/><circle cx="121.1" cy="102.9" r="0.58"/><circle cx="118.5" cy="105.9" r="0.84"/><circle cx="97.0" cy="110.0" r="0.48"/><circle cx="59.9" cy="87.4" r="0.44"/><circle cx="62.6" cy="89.1" r="0.96"/><circle cx="69.9" cy="79.4" r="0.84"/><circle cx="118.1" cy="110.7" r="0.43"/><circle cx="55.8" cy="53.5" r="0.53"/><circle cx="47.1" cy="38.7" r="0.81"/><circle cx="110.4" cy="114.2" r="0.56"/><circle cx="109.2" cy="107.8" r="0.72"/><circle cx="113.3" cy="119.8" r="0.97"/><circle cx="40.7" cy="63.3" r="0.72"/><circle cx="91.4" cy="81.2" r="0.94"/><circle cx="104.0" cy="116.8" r="0.81"/><circle cx="101.8" cy="101.1" r="0.75"/><circle cx="58.1" cy="50.6" r="0.48"/><circle cx="54.5" cy="53.7" r="0.44"/><circle cx="88.4" cy="109.7" r="0.70"/><circle cx="93.5" cy="118.0" r="0.74"/><circle cx="52.1" cy="42.1" r="0.99"/><circle cx="56.5" cy="56.3" r="0.52"/><circle cx="118.7" cy="98.2" r="0.72"/><circle cx="63.1" cy="70.6" r="0.52"/><circle cx="54.0" cy="43.7" r="0.49"/><circle cx="107.4" cy="108.7" r="0.97"/><circle cx="53.7" cy="75.0" r="0.65"/><circle cx="65.9" cy="81.7" r="0.47"/><circle cx="75.3" cy="96.6" r="0.91"/><circle cx="58.3" cy="44.6" r="0.49"/><circle cx="60.6" cy="65.4" r="0.97"/><circle cx="102.3" cy="123.5" r="0.70"/><circle cx="104.6" cy="105.6" r="0.90"/><circle cx="113.5" cy="100.3" r="0.97"/><circle cx="122.2" cy="96.9" r="0.89"/><circle cx="82.8" cy="86.0" r="0.55"/><circle cx="106.5" cy="80.7" r="0.53"/><circle cx="102.1" cy="86.8" r="0.66"/><circle cx="95.0" cy="82.6" r="0.62"/><circle cx="64.9" cy="87.6" r="0.51"/><circle cx="48.0" cy="58.1" r="0.83"/><circle cx="108.6" cy="113.6" r="0.78"/><circle cx="118.4" cy="90.4" r="0.50"/><circle cx="116.8" cy="96.7" r="0.40"/><circle cx="44.3" cy="66.1" r="0.72"/><circle cx="93.4" cy="121.4" r="0.66"/><circle cx="36.4" cy="65.0" r="0.52"/><circle cx="74.3" cy="90.7" r="0.43"/><circle cx="101.2" cy="103.4" r="0.77"/><circle cx="42.3" cy="60.0" r="0.98"/><circle cx="74.5" cy="82.3" r="0.93"/><circle cx="39.6" cy="49.2" r="0.77"/><circle cx="61.7" cy="84.3" r="0.41"/><circle cx="118.5" cy="108.3" r="0.85"/><circle cx="110.3" cy="78.7" r="0.80"/><circle cx="57.2" cy="43.9" r="0.83"/><circle cx="59.9" cy="69.5" r="0.51"/><circle cx="75.1" cy="78.5" r="0.83"/><circle cx="67.2" cy="72.5" r="0.53"/><circle cx="54.2" cy="59.8" r="0.68"/><circle cx="68.3" cy="77.4" r="0.55"/><circle cx="82.6" cy="106.9" r="0.68"/><circle cx="90.2" cy="77.7" r="0.59"/><circle cx="96.5" cy="75.6" r="0.77"/><circle cx="40.1" cy="64.6" r="0.62"/><circle cx="84.0" cy="101.6" r="0.97"/><circle cx="83.1" cy="96.0" r="1.00"/><circle cx="105.9" cy="87.7" r="0.87"/><circle cx="111.1" cy="85.5" r="0.57"/><circle cx="51.6" cy="63.7" r="0.49"/><circle cx="104.9" cy="88.1" r="0.77"/><circle cx="108.0" cy="88.3" r="0.78"/></g></g><line x1="38" y1="118" x2="54.4" y2="110.3" stroke="#000" stroke-width="2.3"/><polygon points="68,104 56.7,117.6 50.3,104.0" fill="#000"/><line x1="138" y1="159.3" x2="162" y2="159.3" stroke="#000" stroke-width="1.7"/>
</g>
<rect x="1.1" y="1.1" width="165.3" height="165.3" fill="none" stroke="#000" stroke-width="2.2"/>
</g>
<text x="896.7" y="9.8" font-size="18" text-anchor="start" font-weight="bold" fill="#000">e</text>
<rect x="1016.5" y="83.89999999999999" width="77.4" height="98.8" fill="#8080ff" stroke="#0000ff" stroke-width="2.6"/>
<rect x="1138.5" y="146.5" width="77.69999999999996" height="36.2" fill="#ff8080" stroke="#ff0000" stroke-width="2.6"/>
<line x1="1055.7" y1="71.7" x2="1055.7" y2="93.5" stroke="#0000ff" stroke-width="1.8" stroke-linecap="butt"/>
<line x1="1034.8" y1="71.7" x2="1076.7" y2="71.7" stroke="#0000ff" stroke-width="1.8" stroke-linecap="butt"/>
<line x1="1034.8" y1="93.5" x2="1076.7" y2="93.5" stroke="#0000ff" stroke-width="1.8" stroke-linecap="butt"/>
<line x1="1177.2" y1="138.7" x2="1177.2" y2="151.5" stroke="#ff0000" stroke-width="1.8" stroke-linecap="butt"/>
<line x1="1156.5" y1="138.7" x2="1197.8" y2="138.7" stroke="#ff0000" stroke-width="1.8" stroke-linecap="butt"/>
<line x1="1156.5" y1="151.5" x2="1197.8" y2="151.5" stroke="#ff0000" stroke-width="1.8" stroke-linecap="butt"/>
<ellipse cx="1055.7" cy="52.2" rx="3.7" ry="3.0" fill="#fff" stroke="#0000ff" stroke-width="1.8"/>
<ellipse cx="1048" cy="76.7" rx="3.7" ry="3.0" fill="#fff" stroke="#0000ff" stroke-width="1.8"/>
<ellipse cx="1063.3" cy="76.7" rx="3.7" ry="3.0" fill="#fff" stroke="#0000ff" stroke-width="1.8"/>
<ellipse cx="1055.7" cy="92.4" rx="3.7" ry="3.0" fill="#fff" stroke="#0000ff" stroke-width="1.8"/>
<ellipse cx="1055.7" cy="115.7" rx="3.7" ry="3.0" fill="#fff" stroke="#0000ff" stroke-width="1.8"/>
<rect x="1173.3" y="121.15" width="7.8" height="6.3" fill="#fff" stroke="#ff0000" stroke-width="1.8"/>
<rect x="1165.9" y="141.85" width="7.8" height="6.3" fill="#fff" stroke="#ff0000" stroke-width="1.8"/>
<rect x="1181.1" y="140.75" width="7.8" height="6.3" fill="#fff" stroke="#ff0000" stroke-width="1.8"/>
<rect x="1181.1" y="146.85" width="7.8" height="6.3" fill="#fff" stroke="#ff0000" stroke-width="1.8"/>
<rect x="1173.3" y="159.45" width="7.8" height="6.3" fill="#fff" stroke="#ff0000" stroke-width="1.8"/>
<line x1="974.6" y1="26.4" x2="974.6" y2="183.7" stroke="#000" stroke-width="2" stroke-linecap="butt"/>
<line x1="966.1" y1="27.4" x2="974.6" y2="27.4" stroke="#000" stroke-width="2" stroke-linecap="butt"/>
<text transform="translate(964.6 31.6602) scale(1.25 1)" font-size="11.9" text-anchor="end" fill="#000">80</text>
<line x1="966.1" y1="66.3" x2="974.6" y2="66.3" stroke="#000" stroke-width="2" stroke-linecap="butt"/>
<text transform="translate(964.6 70.5602) scale(1.25 1)" font-size="11.9" text-anchor="end" fill="#000">60</text>
<line x1="966.1" y1="105.1" x2="974.6" y2="105.1" stroke="#000" stroke-width="2" stroke-linecap="butt"/>
<text transform="translate(964.6 109.36019999999999) scale(1.25 1)" font-size="11.9" text-anchor="end" fill="#000">40</text>
<line x1="966.1" y1="143.9" x2="974.6" y2="143.9" stroke="#000" stroke-width="2" stroke-linecap="butt"/>
<text transform="translate(964.6 148.1602) scale(1.25 1)" font-size="11.9" text-anchor="end" fill="#000">20</text>
<line x1="966.1" y1="182.7" x2="974.6" y2="182.7" stroke="#000" stroke-width="2" stroke-linecap="butt"/>
<text transform="translate(964.6 186.9602) scale(1.25 1)" font-size="11.9" text-anchor="end" fill="#000">0</text>
<line x1="973.6" y1="182.7" x2="1260" y2="182.7" stroke="#000" stroke-width="2" stroke-linecap="butt"/>
<line x1="1055.7" y1="182.7" x2="1055.7" y2="189.7" stroke="#000" stroke-width="2" stroke-linecap="butt"/>
<line x1="1177.2" y1="182.7" x2="1177.2" y2="189.7" stroke="#000" stroke-width="2" stroke-linecap="butt"/>
<text x="1179" y="106.15" font-size="14.5" text-anchor="middle" fill="#222" style="font-family:'DejaVu Sans',sans-serif">*</text>
<text x="1056.8" y="213" font-size="15.5" text-anchor="middle" fill="#000">Ang II</text>
<text x="1181" y="213" font-size="15.5" text-anchor="middle" fill="#000">Ang II + PBN</text>
<text x="933.6" y="109.7" font-size="15.9" text-anchor="middle" transform="rotate(-90 933.6 109.7)" fill="#000">% ratio (PMN staining)</text>
<text x="898.0" y="207.6" font-size="18" text-anchor="start" font-weight="bold" fill="#000">f</text>
<rect x="1020.3" y="294.1" width="76.4" height="99.09999999999998" fill="#8080ff" stroke="#0000ff" stroke-width="2.6"/>
<rect x="1141.3" y="365.3" width="76.99999999999991" height="27.899999999999988" fill="#ff8080" stroke="#ff0000" stroke-width="2.6"/>
<line x1="1058.2" y1="281.4" x2="1058.2" y2="303.2" stroke="#0000ff" stroke-width="1.8" stroke-linecap="butt"/>
<line x1="1037.4" y1="281.4" x2="1079" y2="281.4" stroke="#0000ff" stroke-width="1.8" stroke-linecap="butt"/>
<line x1="1037.4" y1="303.2" x2="1079" y2="303.2" stroke="#0000ff" stroke-width="1.8" stroke-linecap="butt"/>
<line x1="1179.5" y1="358.7" x2="1179.5" y2="368.3" stroke="#ff0000" stroke-width="1.8" stroke-linecap="butt"/>
<line x1="1159" y1="358.7" x2="1200.7" y2="358.7" stroke="#ff0000" stroke-width="1.8" stroke-linecap="butt"/>
<line x1="1159" y1="368.3" x2="1200.7" y2="368.3" stroke="#ff0000" stroke-width="1.8" stroke-linecap="butt"/>
<ellipse cx="1058.2" cy="263" rx="3.7" ry="3.0" fill="#fff" stroke="#0000ff" stroke-width="1.8"/>
<ellipse cx="1058.2" cy="278.7" rx="3.7" ry="3.0" fill="#fff" stroke="#0000ff" stroke-width="1.8"/>
<ellipse cx="1058.2" cy="285.5" rx="3.7" ry="3.0" fill="#fff" stroke="#0000ff" stroke-width="1.8"/>
<ellipse cx="1058.2" cy="309" rx="3.7" ry="3.0" fill="#fff" stroke="#0000ff" stroke-width="1.8"/>
<ellipse cx="1058.2" cy="324.4" rx="3.7" ry="3.0" fill="#fff" stroke="#0000ff" stroke-width="1.8"/>
<rect x="1168.3" y="348.85" width="7.8" height="6.3" fill="#fff" stroke="#ff0000" stroke-width="1.8"/>
<rect x="1183.5" y="349.95" width="7.8" height="6.3" fill="#fff" stroke="#ff0000" stroke-width="1.8"/>
<rect x="1175.6" y="362.05" width="7.8" height="6.3" fill="#fff" stroke="#ff0000" stroke-width="1.8"/>
<rect x="1183.5" y="368.65" width="7.8" height="6.3" fill="#fff" stroke="#ff0000" stroke-width="1.8"/>
<rect x="1168.3" y="371.85" width="7.8" height="6.3" fill="#fff" stroke="#ff0000" stroke-width="1.8"/>
<line x1="977.3" y1="236.7" x2="977.3" y2="394.2" stroke="#000" stroke-width="2" stroke-linecap="butt"/>
<line x1="968.8" y1="237.7" x2="977.3" y2="237.7" stroke="#000" stroke-width="2" stroke-linecap="butt"/>
<text transform="translate(967.3 241.9602) scale(1.25 1)" font-size="11.9" text-anchor="end" fill="#000">80</text>
<line x1="968.8" y1="276.6" x2="977.3" y2="276.6" stroke="#000" stroke-width="2" stroke-linecap="butt"/>
<text transform="translate(967.3 280.8602) scale(1.25 1)" font-size="11.9" text-anchor="end" fill="#000">60</text>
<line x1="968.8" y1="315.5" x2="977.3" y2="315.5" stroke="#000" stroke-width="2" stroke-linecap="butt"/>
<text transform="translate(967.3 319.7602) scale(1.25 1)" font-size="11.9" text-anchor="end" fill="#000">40</text>
<line x1="968.8" y1="354.3" x2="977.3" y2="354.3" stroke="#000" stroke-width="2" stroke-linecap="butt"/>
<text transform="translate(967.3 358.5602) scale(1.25 1)" font-size="11.9" text-anchor="end" fill="#000">20</text>
<line x1="968.8" y1="393.2" x2="977.3" y2="393.2" stroke="#000" stroke-width="2" stroke-linecap="butt"/>
<text transform="translate(967.3 397.4602) scale(1.25 1)" font-size="11.9" text-anchor="end" fill="#000">0</text>
<line x1="976.3" y1="393.2" x2="1263" y2="393.2" stroke="#000" stroke-width="2" stroke-linecap="butt"/>
<line x1="1058.2" y1="393.2" x2="1058.2" y2="400.2" stroke="#000" stroke-width="2" stroke-linecap="butt"/>
<line x1="1179.5" y1="393.2" x2="1179.5" y2="400.2" stroke="#000" stroke-width="2" stroke-linecap="butt"/>
<text x="1178.9" y="336.35" font-size="14.5" text-anchor="middle" fill="#222" style="font-family:'DejaVu Sans',sans-serif">*</text>
<text x="1056" y="422.8" font-size="15.5" text-anchor="middle" fill="#000">Ang II</text>
<text x="1180.2" y="422.8" font-size="15.5" text-anchor="middle" fill="#000">Ang II + PBN</text>
<text x="920.3" y="313.6" font-size="15.9" text-anchor="middle" transform="rotate(-90 920.3 313.6)" fill="#000">% ratio</text>
<text x="938.9" y="313.6" font-size="15.9" text-anchor="middle" transform="rotate(-90 938.9 313.6)" fill="#000">(macrophage staining)</text>
<text x="901.5" y="417.5" font-size="18" text-anchor="start" font-weight="bold" fill="#000">g</text>
<rect x="1021.9" y="478.7" width="74.79999999999998" height="119.90000000000005" fill="#8080ff" stroke="#0000ff" stroke-width="2.6"/>
<rect x="1140.7" y="553.0" width="74.49999999999991" height="45.59999999999998" fill="#ff8080" stroke="#ff0000" stroke-width="2.6"/>
<line x1="1059" y1="468.5" x2="1059" y2="485.1" stroke="#0000ff" stroke-width="1.8" stroke-linecap="butt"/>
<line x1="1039" y1="468.5" x2="1079.7" y2="468.5" stroke="#0000ff" stroke-width="1.8" stroke-linecap="butt"/>
<line x1="1039" y1="485.1" x2="1079.7" y2="485.1" stroke="#0000ff" stroke-width="1.8" stroke-linecap="butt"/>
<line x1="1177.8" y1="543.6" x2="1177.8" y2="557.3" stroke="#ff0000" stroke-width="1.8" stroke-linecap="butt"/>
<line x1="1157.7" y1="543.6" x2="1198.2" y2="543.6" stroke="#ff0000" stroke-width="1.8" stroke-linecap="butt"/>
<line x1="1157.7" y1="557.3" x2="1198.2" y2="557.3" stroke="#ff0000" stroke-width="1.8" stroke-linecap="butt"/>
<ellipse cx="1059" cy="453.9" rx="3.7" ry="3.0" fill="#fff" stroke="#0000ff" stroke-width="1.8"/>
<ellipse cx="1059" cy="460.8" rx="3.7" ry="3.0" fill="#fff" stroke="#0000ff" stroke-width="1.8"/>
<ellipse cx="1059" cy="483.7" rx="3.7" ry="3.0" fill="#fff" stroke="#0000ff" stroke-width="1.8"/>
<ellipse cx="1051.8" cy="493.9" rx="3.7" ry="3.0" fill="#fff" stroke="#0000ff" stroke-width="1.8"/>
<ellipse cx="1066.8" cy="491.4" rx="3.7" ry="3.0" fill="#fff" stroke="#0000ff" stroke-width="1.8"/>
<rect x="1173.9" y="526.25" width="7.8" height="6.3" fill="#fff" stroke="#ff0000" stroke-width="1.8"/>
<rect x="1173.9" y="536.65" width="7.8" height="6.3" fill="#fff" stroke="#ff0000" stroke-width="1.8"/>
<rect x="1173.9" y="550.15" width="7.8" height="6.3" fill="#fff" stroke="#ff0000" stroke-width="1.8"/>
<rect x="1166.7" y="562.05" width="7.8" height="6.3" fill="#fff" stroke="#ff0000" stroke-width="1.8"/>
<rect x="1181.4" y="561.05" width="7.8" height="6.3" fill="#fff" stroke="#ff0000" stroke-width="1.8"/>
<line x1="980.5" y1="442.2" x2="980.5" y2="599.6" stroke="#000" stroke-width="2" stroke-linecap="butt"/>
<line x1="972.0" y1="443.2" x2="980.5" y2="443.2" stroke="#000" stroke-width="2" stroke-linecap="butt"/>
<text transform="translate(970.5 447.4602) scale(1.25 1)" font-size="11.9" text-anchor="end" fill="#000">100</text>
<line x1="972.0" y1="474.3" x2="980.5" y2="474.3" stroke="#000" stroke-width="2" stroke-linecap="butt"/>
<text transform="translate(970.5 478.5602) scale(1.25 1)" font-size="11.9" text-anchor="end" fill="#000">80</text>
<line x1="972.0" y1="505.4" x2="980.5" y2="505.4" stroke="#000" stroke-width="2" stroke-linecap="butt"/>
<text transform="translate(970.5 509.6602) scale(1.25 1)" font-size="11.9" text-anchor="end" fill="#000">60</text>
<line x1="972.0" y1="536.4" x2="980.5" y2="536.4" stroke="#000" stroke-width="2" stroke-linecap="butt"/>
<text transform="translate(970.5 540.6602) scale(1.25 1)" font-size="11.9" text-anchor="end" fill="#000">40</text>
<line x1="972.0" y1="567.5" x2="980.5" y2="567.5" stroke="#000" stroke-width="2" stroke-linecap="butt"/>
<text transform="translate(970.5 571.7602) scale(1.25 1)" font-size="11.9" text-anchor="end" fill="#000">20</text>
<line x1="972.0" y1="598.6" x2="980.5" y2="598.6" stroke="#000" stroke-width="2" stroke-linecap="butt"/>
<text transform="translate(970.5 602.8602000000001) scale(1.25 1)" font-size="11.9" text-anchor="end" fill="#000">0</text>
<line x1="979.5" y1="598.6" x2="1259" y2="598.6" stroke="#000" stroke-width="2" stroke-linecap="butt"/>
<line x1="1059" y1="598.6" x2="1059" y2="605.6" stroke="#000" stroke-width="2" stroke-linecap="butt"/>
<line x1="1177.8" y1="598.6" x2="1177.8" y2="605.6" stroke="#000" stroke-width="2" stroke-linecap="butt"/>
<text x="1177.4" y="517.15" font-size="14.5" text-anchor="middle" fill="#222" style="font-family:'DejaVu Sans',sans-serif">*</text>
<text x="1055.3" y="624.5" font-size="15.5" text-anchor="middle" fill="#000">Ang II</text>
<text x="1175" y="624.5" font-size="15.5" text-anchor="middle" fill="#000">Ang II + PBN</text>
<text x="919" y="518.8" font-size="15.9" text-anchor="middle" transform="rotate(-90 919 518.8)" fill="#000">% ratio</text>
<text x="937.2" y="521" font-size="15.9" text-anchor="middle" transform="rotate(-90 937.2 521)" fill="#000">(CD3+ T cell staining)</text>
<text x="905.5" y="637" font-size="18" text-anchor="start" font-weight="bold" fill="#000">h</text>
<rect x="1028.6" y="763.0" width="76.8000000000001" height="51.79999999999991" fill="#8080ff" stroke="#0000ff" stroke-width="2.6"/>
<rect x="1150.2" y="704.3" width="76.9" height="110.49999999999996" fill="#ff8080" stroke="#ff0000" stroke-width="2.6"/>
<line x1="1067.2" y1="750.6" x2="1067.2" y2="770.6" stroke="#0000ff" stroke-width="1.8" stroke-linecap="butt"/>
<line x1="1046.4" y1="750.6" x2="1088" y2="750.6" stroke="#0000ff" stroke-width="1.8" stroke-linecap="butt"/>
<line x1="1046.4" y1="770.6" x2="1088" y2="770.6" stroke="#0000ff" stroke-width="1.8" stroke-linecap="butt"/>
<line x1="1188.9" y1="694" x2="1188.9" y2="710.7" stroke="#ff0000" stroke-width="1.8" stroke-linecap="butt"/>
<line x1="1168" y1="694" x2="1209.7" y2="694" stroke="#ff0000" stroke-width="1.8" stroke-linecap="butt"/>
<line x1="1168" y1="710.7" x2="1209.7" y2="710.7" stroke="#ff0000" stroke-width="1.8" stroke-linecap="butt"/>
<ellipse cx="1059.5" cy="736.7" rx="3.7" ry="3.0" fill="#fff" stroke="#0000ff" stroke-width="1.8"/>
<ellipse cx="1074.9" cy="740.9" rx="3.7" ry="3.0" fill="#fff" stroke="#0000ff" stroke-width="1.8"/>
<ellipse cx="1067.2" cy="758.6" rx="3.7" ry="3.0" fill="#fff" stroke="#0000ff" stroke-width="1.8"/>
<ellipse cx="1059.5" cy="784.6" rx="3.7" ry="3.0" fill="#fff" stroke="#0000ff" stroke-width="1.8"/>
<ellipse cx="1074.9" cy="782.5" rx="3.7" ry="3.0" fill="#fff" stroke="#0000ff" stroke-width="1.8"/>
<rect x="1177.1" y="680.95" width="7.8" height="6.3" fill="#fff" stroke="#ff0000" stroke-width="1.8"/>
<rect x="1192.2" y="685.15" width="7.8" height="6.3" fill="#fff" stroke="#ff0000" stroke-width="1.8"/>
<rect x="1185.0" y="697.15" width="7.8" height="6.3" fill="#fff" stroke="#ff0000" stroke-width="1.8"/>
<rect x="1185.0" y="705.45" width="7.8" height="6.3" fill="#fff" stroke="#ff0000" stroke-width="1.8"/>
<rect x="1185.0" y="727.35" width="7.8" height="6.3" fill="#fff" stroke="#ff0000" stroke-width="1.8"/>
<line x1="986.5" y1="658.1" x2="986.5" y2="815.8" stroke="#000" stroke-width="2" stroke-linecap="butt"/>
<line x1="978.0" y1="659.1" x2="986.5" y2="659.1" stroke="#000" stroke-width="2" stroke-linecap="butt"/>
<text transform="translate(976.5 663.3602000000001) scale(1.25 1)" font-size="11.9" text-anchor="end" fill="#000">80</text>
<line x1="978.0" y1="698" x2="986.5" y2="698" stroke="#000" stroke-width="2" stroke-linecap="butt"/>
<text transform="translate(976.5 702.2602) scale(1.25 1)" font-size="11.9" text-anchor="end" fill="#000">60</text>
<line x1="978.0" y1="737" x2="986.5" y2="737" stroke="#000" stroke-width="2" stroke-linecap="butt"/>
<text transform="translate(976.5 741.2602) scale(1.25 1)" font-size="11.9" text-anchor="end" fill="#000">40</text>
<line x1="978.0" y1="775.9" x2="986.5" y2="775.9" stroke="#000" stroke-width="2" stroke-linecap="butt"/>
<text transform="translate(976.5 780.1602) scale(1.25 1)" font-size="11.9" text-anchor="end" fill="#000">20</text>
<line x1="978.0" y1="814.8" x2="986.5" y2="814.8" stroke="#000" stroke-width="2" stroke-linecap="butt"/>
<text transform="translate(976.5 819.0602) scale(1.25 1)" font-size="11.9" text-anchor="end" fill="#000">0</text>
<line x1="985.5" y1="814.8" x2="1272" y2="814.8" stroke="#000" stroke-width="2" stroke-linecap="butt"/>
<line x1="1067.2" y1="814.8" x2="1067.2" y2="821.8" stroke="#000" stroke-width="2" stroke-linecap="butt"/>
<line x1="1188.9" y1="814.8" x2="1188.9" y2="821.8" stroke="#000" stroke-width="2" stroke-linecap="butt"/>
<text x="1188.9" y="673.15" font-size="14.5" text-anchor="middle" fill="#222" style="font-family:'DejaVu Sans',sans-serif">*</text>
<text x="1067" y="842.2" font-size="15.5" text-anchor="middle" fill="#000">Ang II</text>
<text x="1199.2" y="842.2" font-size="15.5" text-anchor="middle" fill="#000">Ang II + PBN</text>
<text x="919.5" y="728.7" font-size="15.9" text-anchor="middle" transform="rotate(-90 919.5 728.7)" fill="#000">% ratio</text>
<text x="939.2" y="735.1" font-size="15.9" text-anchor="middle" transform="rotate(-90 939.2 735.1)" fill="#000">(SM &#945;-actin staining)</text>
<text x="914.5" y="841.7" font-size="18" text-anchor="start" font-weight="bold" fill="#000">i</text>
<rect x="1030.1" y="924.8" width="76.9" height="81.90000000000005" fill="#8080ff" stroke="#0000ff" stroke-width="2.6"/>
<rect x="1151.8999999999999" y="962.3" width="76.70000000000019" height="44.40000000000005" fill="#ff8080" stroke="#ff0000" stroke-width="2.6"/>
<line x1="1068.5" y1="915.2" x2="1068.5" y2="929.8" stroke="#0000ff" stroke-width="1.8" stroke-linecap="butt"/>
<line x1="1048" y1="915.2" x2="1089" y2="915.2" stroke="#0000ff" stroke-width="1.8" stroke-linecap="butt"/>
<line x1="1048" y1="929.8" x2="1089" y2="929.8" stroke="#0000ff" stroke-width="1.8" stroke-linecap="butt"/>
<line x1="1190.1" y1="953.7" x2="1190.1" y2="966.3" stroke="#ff0000" stroke-width="1.8" stroke-linecap="butt"/>
<line x1="1169.5" y1="953.7" x2="1210.7" y2="953.7" stroke="#ff0000" stroke-width="1.8" stroke-linecap="butt"/>
<line x1="1169.5" y1="966.3" x2="1210.7" y2="966.3" stroke="#ff0000" stroke-width="1.8" stroke-linecap="butt"/>
<ellipse cx="1068.5" cy="894.6" rx="3.7" ry="3.0" fill="#fff" stroke="#0000ff" stroke-width="1.8"/>
<ellipse cx="1053.7" cy="923" rx="3.7" ry="3.0" fill="#fff" stroke="#0000ff" stroke-width="1.8"/>
<ellipse cx="1068.5" cy="929" rx="3.7" ry="3.0" fill="#fff" stroke="#0000ff" stroke-width="1.8"/>
<ellipse cx="1083.6" cy="928" rx="3.7" ry="3.0" fill="#fff" stroke="#0000ff" stroke-width="1.8"/>
<ellipse cx="1068.5" cy="937.9" rx="3.7" ry="3.0" fill="#fff" stroke="#0000ff" stroke-width="1.8"/>
<rect x="1178.4" y="940.45" width="7.8" height="6.3" fill="#fff" stroke="#ff0000" stroke-width="1.8"/>
<rect x="1193.8" y="943.55" width="7.8" height="6.3" fill="#fff" stroke="#ff0000" stroke-width="1.8"/>
<rect x="1178.4" y="961.95" width="7.8" height="6.3" fill="#fff" stroke="#ff0000" stroke-width="1.8"/>
<rect x="1193.8" y="964.65" width="7.8" height="6.3" fill="#fff" stroke="#ff0000" stroke-width="1.8"/>
<rect x="1186.2" y="973.25" width="7.8" height="6.3" fill="#fff" stroke="#ff0000" stroke-width="1.8"/>
<line x1="987.2" y1="850.7" x2="987.2" y2="1007.7" stroke="#000" stroke-width="2" stroke-linecap="butt"/>
<line x1="978.7" y1="851.7" x2="987.2" y2="851.7" stroke="#000" stroke-width="2" stroke-linecap="butt"/>
<text transform="translate(977.2 855.9602000000001) scale(1.25 1)" font-size="11.9" text-anchor="end" fill="#000">80</text>
<line x1="978.7" y1="890.4" x2="987.2" y2="890.4" stroke="#000" stroke-width="2" stroke-linecap="butt"/>
<text transform="translate(977.2 894.6602) scale(1.25 1)" font-size="11.9" text-anchor="end" fill="#000">60</text>
<line x1="978.7" y1="929.2" x2="987.2" y2="929.2" stroke="#000" stroke-width="2" stroke-linecap="butt"/>
<text transform="translate(977.2 933.4602000000001) scale(1.25 1)" font-size="11.9" text-anchor="end" fill="#000">40</text>
<line x1="978.7" y1="967.9" x2="987.2" y2="967.9" stroke="#000" stroke-width="2" stroke-linecap="butt"/>
<text transform="translate(977.2 972.1602) scale(1.25 1)" font-size="11.9" text-anchor="end" fill="#000">20</text>
<line x1="978.7" y1="1006.7" x2="987.2" y2="1006.7" stroke="#000" stroke-width="2" stroke-linecap="butt"/>
<text transform="translate(977.2 1010.9602000000001) scale(1.25 1)" font-size="11.9" text-anchor="end" fill="#000">0</text>
<line x1="986.2" y1="1006.7" x2="1273" y2="1006.7" stroke="#000" stroke-width="2" stroke-linecap="butt"/>
<line x1="1068.5" y1="1006.7" x2="1068.5" y2="1013.7" stroke="#000" stroke-width="2" stroke-linecap="butt"/>
<line x1="1190.1" y1="1006.7" x2="1190.1" y2="1013.7" stroke="#000" stroke-width="2" stroke-linecap="butt"/>
<text x="1190" y="931.65" font-size="14.5" text-anchor="middle" fill="#222" style="font-family:'DejaVu Sans',sans-serif">*</text>
<text x="1071.1" y="1029.6" font-size="15.5" text-anchor="middle" fill="#000">Ang II</text>
<text x="1190.7" y="1029.6" font-size="15.5" text-anchor="middle" fill="#000">Ang II + PBN</text>
<text x="921.9" y="930.3" font-size="15.9" text-anchor="middle" transform="rotate(-90 921.9 930.3)" fill="#000">% rati0</text>
<text x="941.2" y="928" font-size="15.9" text-anchor="middle" transform="rotate(-90 941.2 928)" fill="#000">(elastin breaks)</text>
<text x="1302.5" y="17" font-size="18" text-anchor="start" font-weight="bold" fill="#000">j</text>
<line x1="1348.2" y1="24.8" x2="1348.2" y2="204.4" stroke="#000" stroke-width="2" stroke-linecap="butt"/>
<line x1="1339.7" y1="25.8" x2="1348.2" y2="25.8" stroke="#000" stroke-width="2" stroke-linecap="butt"/>
<text transform="translate(1338.2 30.489800000000002) scale(1.03 1)" font-size="13.1" text-anchor="end" fill="#000">200</text>
<line x1="1339.7" y1="70.2" x2="1348.2" y2="70.2" stroke="#000" stroke-width="2" stroke-linecap="butt"/>
<text transform="translate(1338.2 74.88980000000001) scale(1.03 1)" font-size="13.1" text-anchor="end" fill="#000">150</text>
<line x1="1339.7" y1="114.6" x2="1348.2" y2="114.6" stroke="#000" stroke-width="2" stroke-linecap="butt"/>
<text transform="translate(1338.2 119.2898) scale(1.03 1)" font-size="13.1" text-anchor="end" fill="#000">100</text>
<line x1="1339.7" y1="159" x2="1348.2" y2="159" stroke="#000" stroke-width="2" stroke-linecap="butt"/>
<text transform="translate(1338.2 163.6898) scale(1.03 1)" font-size="13.1" text-anchor="end" fill="#000">50</text>
<line x1="1339.7" y1="203.4" x2="1348.2" y2="203.4" stroke="#000" stroke-width="2" stroke-linecap="butt"/>
<text transform="translate(1338.2 208.0898) scale(1.03 1)" font-size="13.1" text-anchor="end" fill="#000">0</text>
<line x1="1347.2" y1="203.4" x2="1615.5" y2="203.4" stroke="#000" stroke-width="2" stroke-linecap="butt"/>
<line x1="1410.9" y1="203.4" x2="1410.9" y2="210.9" stroke="#000" stroke-width="2" stroke-linecap="butt"/>
<line x1="1549.7" y1="203.4" x2="1549.7" y2="210.9" stroke="#000" stroke-width="2" stroke-linecap="butt"/>
<circle cx="1373.2" cy="68.3" r="4.9" fill="#0000ff" stroke="none" stroke-width="0"/>
<circle cx="1373.2" cy="76.2" r="4.9" fill="#0000ff" stroke="none" stroke-width="0"/>
<circle cx="1373.2" cy="86" r="4.9" fill="#0000ff" stroke="none" stroke-width="0"/>
<circle cx="1373.2" cy="116" r="4.9" fill="#0000ff" stroke="none" stroke-width="0"/>
<circle cx="1373.2" cy="135.7" r="4.9" fill="#0000ff" stroke="none" stroke-width="0"/>
<line x1="1360.2" y1="96.6" x2="1386.2" y2="96.6" stroke="#0000ff" stroke-width="2" stroke-linecap="butt"/>
<line x1="1373.2" y1="84" x2="1373.2" y2="108.9" stroke="#0000ff" stroke-width="2" stroke-linecap="butt"/>
<line x1="1366.7" y1="84" x2="1379.7" y2="84" stroke="#0000ff" stroke-width="2" stroke-linecap="butt"/>
<line x1="1366.7" y1="108.9" x2="1379.7" y2="108.9" stroke="#0000ff" stroke-width="2" stroke-linecap="butt"/>
<rect x="1406.7" y="60.2" width="8.4" height="8.4" fill="#ff0000" stroke="none" stroke-width="0"/>
<rect x="1406.7" y="97.8" width="8.4" height="8.4" fill="#ff0000" stroke="none" stroke-width="0"/>
<rect x="1406.7" y="107.6" width="8.4" height="8.4" fill="#ff0000" stroke="none" stroke-width="0"/>
<rect x="1406.7" y="124.8" width="8.4" height="8.4" fill="#ff0000" stroke="none" stroke-width="0"/>
<rect x="1406.7" y="139.10000000000002" width="8.4" height="8.4" fill="#ff0000" stroke="none" stroke-width="0"/>
<line x1="1397.9" y1="110.6" x2="1423.9" y2="110.6" stroke="#ff0000" stroke-width="2" stroke-linecap="butt"/>
<line x1="1410.9" y1="97.1" x2="1410.9" y2="124.1" stroke="#ff0000" stroke-width="2" stroke-linecap="butt"/>
<line x1="1404.4" y1="97.1" x2="1417.4" y2="97.1" stroke="#ff0000" stroke-width="2" stroke-linecap="butt"/>
<line x1="1404.4" y1="124.1" x2="1417.4" y2="124.1" stroke="#ff0000" stroke-width="2" stroke-linecap="butt"/>
<polygon points="1449,129.20 1453.5,137.48 1444.5,137.48" fill="#00c000" stroke="#00c000" stroke-width="0.8" stroke-linejoin="round"/>
<polygon points="1449,139.00 1453.5,147.28 1444.5,147.28" fill="#00c000" stroke="#00c000" stroke-width="0.8" stroke-linejoin="round"/>
<polygon points="1449,148.80 1453.5,157.08 1444.5,157.08" fill="#00c000" stroke="#00c000" stroke-width="0.8" stroke-linejoin="round"/>
<polygon points="1439.6,165.60 1444.1,173.88 1435.1,173.88" fill="#00c000" stroke="#00c000" stroke-width="0.8" stroke-linejoin="round"/>
<polygon points="1458,160.40 1462.5,168.68 1453.5,168.68" fill="#00c000" stroke="#00c000" stroke-width="0.8" stroke-linejoin="round"/>
<line x1="1436" y1="153.6" x2="1462" y2="153.6" stroke="#00c000" stroke-width="2" stroke-linecap="butt"/>
<line x1="1449" y1="146.3" x2="1449" y2="159.8" stroke="#00c000" stroke-width="2" stroke-linecap="butt"/>
<line x1="1442.5" y1="146.3" x2="1455.5" y2="146.3" stroke="#00c000" stroke-width="2" stroke-linecap="butt"/>
<line x1="1442.5" y1="159.8" x2="1455.5" y2="159.8" stroke="#00c000" stroke-width="2" stroke-linecap="butt"/>
<circle cx="1512.1" cy="129.5" r="4.9" fill="#0000ff" stroke="none" stroke-width="0"/>
<circle cx="1503" cy="158.6" r="4.9" fill="#0000ff" stroke="none" stroke-width="0"/>
<circle cx="1522" cy="152.4" r="4.9" fill="#0000ff" stroke="none" stroke-width="0"/>
<circle cx="1522" cy="163.5" r="4.9" fill="#0000ff" stroke="none" stroke-width="0"/>
<circle cx="1512.1" cy="173.8" r="4.9" fill="#0000ff" stroke="none" stroke-width="0"/>
<line x1="1499.1" y1="156.6" x2="1525.1" y2="156.6" stroke="#0000ff" stroke-width="2" stroke-linecap="butt"/>
<line x1="1512.1" y1="148.2" x2="1512.1" y2="163" stroke="#0000ff" stroke-width="2" stroke-linecap="butt"/>
<line x1="1505.6" y1="148.2" x2="1518.6" y2="148.2" stroke="#0000ff" stroke-width="2" stroke-linecap="butt"/>
<line x1="1505.6" y1="163" x2="1518.6" y2="163" stroke="#0000ff" stroke-width="2" stroke-linecap="butt"/>
<rect x="1536.8999999999999" y="148.20000000000002" width="8.4" height="8.4" fill="#ff0000" stroke="none" stroke-width="0"/>
<rect x="1555.3999999999999" y="150.70000000000002" width="8.4" height="8.4" fill="#ff0000" stroke="none" stroke-width="0"/>
<rect x="1536.2" y="160.0" width="8.4" height="8.4" fill="#ff0000" stroke="none" stroke-width="0"/>
<rect x="1555.3999999999999" y="163.70000000000002" width="8.4" height="8.4" fill="#ff0000" stroke="none" stroke-width="0"/>
<rect x="1546.0" y="178.20000000000002" width="8.4" height="8.4" fill="#ff0000" stroke="none" stroke-width="0"/>
<line x1="1537.2" y1="163.5" x2="1563.2" y2="163.5" stroke="#ff0000" stroke-width="2" stroke-linecap="butt"/>
<line x1="1550.2" y1="159.3" x2="1550.2" y2="169.6" stroke="#ff0000" stroke-width="2" stroke-linecap="butt"/>
<line x1="1543.7" y1="159.3" x2="1556.7" y2="159.3" stroke="#ff0000" stroke-width="2" stroke-linecap="butt"/>
<line x1="1543.7" y1="169.6" x2="1556.7" y2="169.6" stroke="#ff0000" stroke-width="2" stroke-linecap="butt"/>
<polygon points="1579,178.30 1583.5,186.58 1574.5,186.58" fill="#00c000" stroke="#00c000" stroke-width="0.8" stroke-linejoin="round"/>
<polygon points="1597.7,173.90 1602.2,182.18 1593.2,182.18" fill="#00c000" stroke="#00c000" stroke-width="0.8" stroke-linejoin="round"/>
<polygon points="1597.7,181.30 1602.2,189.58 1593.2,189.58" fill="#00c000" stroke="#00c000" stroke-width="0.8" stroke-linejoin="round"/>
<polygon points="1588.3,183.70 1592.8,191.98 1583.8,191.98" fill="#00c000" stroke="#00c000" stroke-width="0.8" stroke-linejoin="round"/>
<polygon points="1588.3,191.90 1592.8,200.18 1583.8,200.18" fill="#00c000" stroke="#00c000" stroke-width="0.8" stroke-linejoin="round"/>
<line x1="1575.3" y1="186" x2="1601.3" y2="186" stroke="#00c000" stroke-width="2" stroke-linecap="butt"/>
<line x1="1588.3" y1="182.6" x2="1588.3" y2="189.3" stroke="#00c000" stroke-width="2" stroke-linecap="butt"/>
<line x1="1581.8" y1="182.6" x2="1594.8" y2="182.6" stroke="#00c000" stroke-width="2" stroke-linecap="butt"/>
<line x1="1581.8" y1="189.3" x2="1594.8" y2="189.3" stroke="#00c000" stroke-width="2" stroke-linecap="butt"/>
<text x="1512" y="119.75" font-size="14.5" text-anchor="middle" fill="#222" style="font-family:'DejaVu Sans',sans-serif">**</text>
<text x="1550" y="146.75" font-size="14.5" text-anchor="middle" fill="#222" style="font-family:'DejaVu Sans',sans-serif">*</text>
<text x="1587" y="172.35" font-size="14.5" text-anchor="middle" fill="#222" style="font-family:'DejaVu Sans',sans-serif">*</text>
<circle cx="1546.5" cy="28.3" r="4.9" fill="#0000ff" stroke="none" stroke-width="0"/>
<text transform="translate(1567.4 33.2) scale(1.04 1)" font-size="13.2" text-anchor="start" fill="#000">IFN-&#947;</text>
<rect x="1541.85" y="46.95" width="9.3" height="9.3" fill="#ff0000" stroke="none" stroke-width="0"/>
<text transform="translate(1567.4 56) scale(1.04 1)" font-size="13.2" text-anchor="start" fill="#000">IL-17</text>
<polygon points="1546.5,70.20 1551.0,78.48 1542.0,78.48" fill="#00c000" stroke="#00c000" stroke-width="0.8" stroke-linejoin="round"/>
<text transform="translate(1567.4 79.9) scale(1.04 1)" font-size="13.2" text-anchor="start" fill="#000">IL-23</text>
<text x="1299.2" y="92.7" font-size="15.8" text-anchor="middle" transform="rotate(-90 1299.2 92.7)" fill="#000">pg/ml</text>
<text x="1410.9" y="226" font-size="15.6" text-anchor="middle" fill="#000">Ang II</text>
<text x="1410.9" y="245.8" font-size="15.6" text-anchor="middle" fill="#000">Control</text>
<text x="1549.7" y="226.5" font-size="15.6" text-anchor="middle" fill="#000">Ang II</text>
<text x="1549.7" y="246.6" font-size="15.6" text-anchor="middle" fill="#000">+PBN</text>
<text x="1303" y="259.7" font-size="18" text-anchor="start" font-weight="bold" fill="#000">k</text>
<rect x="1395.3999999999999" y="347.0" width="71.9" height="103.89999999999999" fill="#8080ff" stroke="#0000ff" stroke-width="2.6"/>
<rect x="1510.2" y="412.6" width="72.4" height="38.29999999999997" fill="#ff8080" stroke="#ff0000" stroke-width="2.6"/>
<line x1="1431.5" y1="325.3" x2="1431.5" y2="363.6" stroke="#0000ff" stroke-width="1.9" stroke-linecap="butt"/>
<line x1="1412" y1="325.3" x2="1450.7" y2="325.3" stroke="#0000ff" stroke-width="1.9" stroke-linecap="butt"/>
<line x1="1412" y1="363.6" x2="1450.7" y2="363.6" stroke="#0000ff" stroke-width="1.9" stroke-linecap="butt"/>
<line x1="1546" y1="402.2" x2="1546" y2="417.5" stroke="#ff0000" stroke-width="1.9" stroke-linecap="butt"/>
<line x1="1526.9" y1="402.2" x2="1565.7" y2="402.2" stroke="#ff0000" stroke-width="1.9" stroke-linecap="butt"/>
<line x1="1526.9" y1="417.5" x2="1565.7" y2="417.5" stroke="#ff0000" stroke-width="1.9" stroke-linecap="butt"/>
<circle cx="1431.5" cy="301.5" r="3.6" fill="#fff" stroke="#0000ff" stroke-width="1.8"/>
<circle cx="1424.1" cy="321.1" r="3.6" fill="#fff" stroke="#0000ff" stroke-width="1.8"/>
<circle cx="1438.6" cy="318.7" r="3.6" fill="#fff" stroke="#0000ff" stroke-width="1.8"/>
<circle cx="1431.5" cy="381.3" r="3.6" fill="#fff" stroke="#0000ff" stroke-width="1.8"/>
<circle cx="1431.5" cy="399.3" r="3.6" fill="#fff" stroke="#0000ff" stroke-width="1.8"/>
<rect x="1542.7" y="383.7" width="6.6" height="6.6" fill="#fff" stroke="#ff0000" stroke-width="1.8"/>
<rect x="1535.9" y="401.9" width="6.6" height="6.6" fill="#fff" stroke="#ff0000" stroke-width="1.8"/>
<rect x="1550.1000000000001" y="401.4" width="6.6" height="6.6" fill="#fff" stroke="#ff0000" stroke-width="1.8"/>
<rect x="1550.1000000000001" y="421.59999999999997" width="6.6" height="6.6" fill="#fff" stroke="#ff0000" stroke-width="1.8"/>
<rect x="1535.9" y="426.0" width="6.6" height="6.6" fill="#fff" stroke="#ff0000" stroke-width="1.8"/>
<line x1="1354.8" y1="270.5" x2="1354.8" y2="451.9" stroke="#000" stroke-width="2" stroke-linecap="butt"/>
<line x1="1346.3" y1="271.5" x2="1354.8" y2="271.5" stroke="#000" stroke-width="2" stroke-linecap="butt"/>
<text transform="translate(1344.8 276.4046) scale(0.98 1)" font-size="13.7" text-anchor="end" fill="#000">60</text>
<line x1="1346.3" y1="331.3" x2="1354.8" y2="331.3" stroke="#000" stroke-width="2" stroke-linecap="butt"/>
<text transform="translate(1344.8 336.2046) scale(0.98 1)" font-size="13.7" text-anchor="end" fill="#000">40</text>
<line x1="1346.3" y1="391.1" x2="1354.8" y2="391.1" stroke="#000" stroke-width="2" stroke-linecap="butt"/>
<text transform="translate(1344.8 396.00460000000004) scale(0.98 1)" font-size="13.7" text-anchor="end" fill="#000">20</text>
<line x1="1346.3" y1="450.9" x2="1354.8" y2="450.9" stroke="#000" stroke-width="2" stroke-linecap="butt"/>
<text transform="translate(1344.8 455.8046) scale(0.98 1)" font-size="13.7" text-anchor="end" fill="#000">0</text>
<line x1="1353.8" y1="450.9" x2="1624" y2="450.9" stroke="#000" stroke-width="2" stroke-linecap="butt"/>
<line x1="1431.5" y1="450.9" x2="1431.5" y2="458.4" stroke="#000" stroke-width="2" stroke-linecap="butt"/>
<line x1="1546" y1="450.9" x2="1546" y2="458.4" stroke="#000" stroke-width="2" stroke-linecap="butt"/>
<text x="1545.3" y="377.45" font-size="14.5" text-anchor="middle" fill="#222" style="font-family:'DejaVu Sans',sans-serif">**</text>
<text x="1307.5" y="351" font-size="15.8" text-anchor="middle" transform="rotate(-90 1307.5 351)" fill="#000">HMGB1 (ng/ml)</text>
<text x="1427.3" y="477.2" font-size="15.6" text-anchor="middle" fill="#000">Ang II</text>
<text x="1427.3" y="495.6" font-size="15.6" text-anchor="middle" fill="#000">Control</text>
<text x="1549" y="475.5" font-size="15.6" text-anchor="middle" fill="#000">Ang II</text>
<text x="1546" y="493.2" font-size="15.6" text-anchor="middle" fill="#000">+PBN</text>
<text x="1309.5" y="519.8" font-size="18" text-anchor="start" font-weight="bold" fill="#000">l</text>
<line x1="1360.8" y1="532.9" x2="1360.8" y2="722.0" stroke="#000" stroke-width="2" stroke-linecap="butt"/>
<line x1="1352.3" y1="533.9" x2="1360.8" y2="533.9" stroke="#000" stroke-width="2" stroke-linecap="butt"/>
<text transform="translate(1350.8 539.091) scale(0.98 1)" font-size="14.5" text-anchor="end" fill="#000">600</text>
<line x1="1352.3" y1="596.3" x2="1360.8" y2="596.3" stroke="#000" stroke-width="2" stroke-linecap="butt"/>
<text transform="translate(1350.8 601.491) scale(0.98 1)" font-size="14.5" text-anchor="end" fill="#000">400</text>
<line x1="1352.3" y1="658.6" x2="1360.8" y2="658.6" stroke="#000" stroke-width="2" stroke-linecap="butt"/>
<text transform="translate(1350.8 663.791) scale(0.98 1)" font-size="14.5" text-anchor="end" fill="#000">200</text>
<line x1="1352.3" y1="721" x2="1360.8" y2="721" stroke="#000" stroke-width="2" stroke-linecap="butt"/>
<text transform="translate(1350.8 726.191) scale(0.98 1)" font-size="14.5" text-anchor="end" fill="#000">0</text>
<line x1="1359.8" y1="721" x2="1642.6" y2="721" stroke="#000" stroke-width="2" stroke-linecap="butt"/>
<line x1="1427.4" y1="721" x2="1427.4" y2="728.5" stroke="#000" stroke-width="2" stroke-linecap="butt"/>
<line x1="1573.8" y1="721" x2="1573.8" y2="728.5" stroke="#000" stroke-width="2" stroke-linecap="butt"/>
<circle cx="1377.7" cy="653.5" r="4.7" fill="#0000ff" stroke="none" stroke-width="0"/>
<circle cx="1397" cy="654.3" r="4.7" fill="#0000ff" stroke="none" stroke-width="0"/>
<circle cx="1386.4" cy="673.3" r="4.7" fill="#0000ff" stroke="none" stroke-width="0"/>
<circle cx="1386.4" cy="680" r="4.7" fill="#0000ff" stroke="none" stroke-width="0"/>
<circle cx="1386.4" cy="691" r="4.7" fill="#0000ff" stroke="none" stroke-width="0"/>
<line x1="1372.4" y1="669.9" x2="1400.4" y2="669.9" stroke="#0000ff" stroke-width="2" stroke-linecap="butt"/>
<line x1="1386.4" y1="662.7" x2="1386.4" y2="676.8" stroke="#0000ff" stroke-width="2" stroke-linecap="butt"/>
<line x1="1379.4" y1="662.7" x2="1393.4" y2="662.7" stroke="#0000ff" stroke-width="2" stroke-linecap="butt"/>
<line x1="1379.4" y1="676.8" x2="1393.4" y2="676.8" stroke="#0000ff" stroke-width="2" stroke-linecap="butt"/>
<rect x="1422.9" y="582.0" width="9.0" height="9.0" fill="#ff0000" stroke="none" stroke-width="0"/>
<rect x="1422.9" y="619.9" width="9.0" height="9.0" fill="#ff0000" stroke="none" stroke-width="0"/>
<rect x="1422.9" y="639.7" width="9.0" height="9.0" fill="#ff0000" stroke="none" stroke-width="0"/>
<rect x="1413.2" y="657.7" width="9.0" height="9.0" fill="#ff0000" stroke="none" stroke-width="0"/>
<rect x="1432.2" y="657.7" width="9.0" height="9.0" fill="#ff0000" stroke="none" stroke-width="0"/>
<line x1="1413.4" y1="635.7" x2="1441.4" y2="635.7" stroke="#ff0000" stroke-width="2" stroke-linecap="butt"/>
<line x1="1427.4" y1="621.7" x2="1427.4" y2="650.3" stroke="#ff0000" stroke-width="2" stroke-linecap="butt"/>
<line x1="1420.4" y1="621.7" x2="1434.4" y2="621.7" stroke="#ff0000" stroke-width="2" stroke-linecap="butt"/>
<line x1="1420.4" y1="650.3" x2="1434.4" y2="650.3" stroke="#ff0000" stroke-width="2" stroke-linecap="butt"/>
<polygon points="1467.7,546.80 1472.2,555.08 1463.2,555.08" fill="#00c000" stroke="#00c000" stroke-width="0.8" stroke-linejoin="round"/>
<polygon points="1467.7,558.20 1472.2,566.48 1463.2,566.48" fill="#00c000" stroke="#00c000" stroke-width="0.8" stroke-linejoin="round"/>
<polygon points="1467.7,581.20 1472.2,589.48 1463.2,589.48" fill="#00c000" stroke="#00c000" stroke-width="0.8" stroke-linejoin="round"/>
<polygon points="1467.7,608.50 1472.2,616.78 1463.2,616.78" fill="#00c000" stroke="#00c000" stroke-width="0.8" stroke-linejoin="round"/>
<polygon points="1467.7,637.60 1472.2,645.88 1463.2,645.88" fill="#00c000" stroke="#00c000" stroke-width="0.8" stroke-linejoin="round"/>
<line x1="1453.7" y1="591.3" x2="1481.7" y2="591.3" stroke="#00c000" stroke-width="2" stroke-linecap="butt"/>
<line x1="1467.7" y1="574.9" x2="1467.7" y2="607.7" stroke="#00c000" stroke-width="2" stroke-linecap="butt"/>
<line x1="1460.7" y1="574.9" x2="1474.7" y2="574.9" stroke="#00c000" stroke-width="2" stroke-linecap="butt"/>
<line x1="1460.7" y1="607.7" x2="1474.7" y2="607.7" stroke="#00c000" stroke-width="2" stroke-linecap="butt"/>
<circle cx="1524.6" cy="701.1" r="4.7" fill="#0000ff" stroke="none" stroke-width="0"/>
<circle cx="1530.6" cy="705" r="4.7" fill="#0000ff" stroke="none" stroke-width="0"/>
<circle cx="1537.3" cy="706.4" r="4.7" fill="#0000ff" stroke="none" stroke-width="0"/>
<circle cx="1544.4" cy="705.9" r="4.7" fill="#0000ff" stroke="none" stroke-width="0"/>
<circle cx="1524.6" cy="710.9" r="4.7" fill="#0000ff" stroke="none" stroke-width="0"/>
<line x1="1520.6" y1="705.6" x2="1540.6" y2="705.6" stroke="#0000ff" stroke-width="2" stroke-linecap="butt"/>
<line x1="1530.6" y1="703.5" x2="1530.6" y2="707.5" stroke="#0000ff" stroke-width="2" stroke-linecap="butt"/>
<line x1="1525.6" y1="703.5" x2="1535.6" y2="703.5" stroke="#0000ff" stroke-width="2" stroke-linecap="butt"/>
<line x1="1525.6" y1="707.5" x2="1535.6" y2="707.5" stroke="#0000ff" stroke-width="2" stroke-linecap="butt"/>
<rect x="1569.3" y="670.9" width="9.0" height="9.0" fill="#ff0000" stroke="none" stroke-width="0"/>
<rect x="1569.3" y="678.1" width="9.0" height="9.0" fill="#ff0000" stroke="none" stroke-width="0"/>
<rect x="1569.3" y="689.2" width="9.0" height="9.0" fill="#ff0000" stroke="none" stroke-width="0"/>
<rect x="1560.0" y="696.1" width="9.0" height="9.0" fill="#ff0000" stroke="none" stroke-width="0"/>
<rect x="1579.6" y="691.8" width="9.0" height="9.0" fill="#ff0000" stroke="none" stroke-width="0"/>
<line x1="1559.8" y1="690" x2="1587.8" y2="690" stroke="#ff0000" stroke-width="2" stroke-linecap="butt"/>
<line x1="1573.8" y1="686" x2="1573.8" y2="694" stroke="#ff0000" stroke-width="2" stroke-linecap="butt"/>
<line x1="1566.8" y1="686" x2="1580.8" y2="686" stroke="#ff0000" stroke-width="2" stroke-linecap="butt"/>
<line x1="1566.8" y1="694" x2="1580.8" y2="694" stroke="#ff0000" stroke-width="2" stroke-linecap="butt"/>
<polygon points="1614,650.00 1618.5,658.28 1609.5,658.28" fill="#00c000" stroke="#00c000" stroke-width="0.8" stroke-linejoin="round"/>
<polygon points="1604,667.70 1608.5,675.98 1599.5,675.98" fill="#00c000" stroke="#00c000" stroke-width="0.8" stroke-linejoin="round"/>
<polygon points="1624.6,661.10 1629.1,669.38 1620.1,669.38" fill="#00c000" stroke="#00c000" stroke-width="0.8" stroke-linejoin="round"/>
<polygon points="1624.6,673.80 1629.1,682.08 1620.1,682.08" fill="#00c000" stroke="#00c000" stroke-width="0.8" stroke-linejoin="round"/>
<polygon points="1614,693.20 1618.5,701.48 1609.5,701.48" fill="#00c000" stroke="#00c000" stroke-width="0.8" stroke-linejoin="round"/>
<line x1="1600" y1="673.9" x2="1628" y2="673.9" stroke="#00c000" stroke-width="2" stroke-linecap="butt"/>
<line x1="1614" y1="667.2" x2="1614" y2="681.3" stroke="#00c000" stroke-width="2" stroke-linecap="butt"/>
<line x1="1607" y1="667.2" x2="1621" y2="667.2" stroke="#00c000" stroke-width="2" stroke-linecap="butt"/>
<line x1="1607" y1="681.3" x2="1621" y2="681.3" stroke="#00c000" stroke-width="2" stroke-linecap="butt"/>
<text x="1530.6" y="688.45" font-size="14.5" text-anchor="middle" fill="#222" style="font-family:'DejaVu Sans',sans-serif">*</text>
<text x="1571.7" y="663.25" font-size="14.5" text-anchor="middle" fill="#222" style="font-family:'DejaVu Sans',sans-serif">*</text>
<text x="1612.7" y="643.95" font-size="14.5" text-anchor="middle" fill="#222" style="font-family:'DejaVu Sans',sans-serif">*</text>
<circle cx="1555.8" cy="547.1" r="4.8" fill="#0000ff" stroke="none" stroke-width="0"/>
<text transform="translate(1577 551.6) scale(1.04 1)" font-size="13.2" text-anchor="start" fill="#000">TNF-&#945;</text>
<rect x="1551.15" y="566.25" width="9.3" height="9.3" fill="#ff0000" stroke="none" stroke-width="0"/>
<text transform="translate(1577 576.2) scale(1.04 1)" font-size="13.2" text-anchor="start" fill="#000">RANTES</text>
<polygon points="1555.8,591.80 1560.3,600.08 1551.3,600.08" fill="#00c000" stroke="#00c000" stroke-width="0.8" stroke-linejoin="round"/>
<text transform="translate(1577 601.1) scale(1.04 1)" font-size="13.2" text-anchor="start" fill="#000">MCP-1</text>
<text x="1308.3" y="624.3" font-size="15.8" text-anchor="middle" transform="rotate(-90 1308.3 624.3)" fill="#000">pg/ml</text>
<text x="1427.4" y="743.4" font-size="15.6" text-anchor="middle" fill="#000">Ang II</text>
<text x="1427.4" y="762" font-size="15.6" text-anchor="middle" fill="#000">Control</text>
<text x="1571.7" y="741.3" font-size="15.6" text-anchor="middle" fill="#000">Ang II</text>
<text x="1571.7" y="760.1" font-size="15.6" text-anchor="middle" fill="#000">+PBN</text>
<text x="1310.5" y="805.8" font-size="18" text-anchor="start" font-weight="bold" fill="#000">m</text>
<line x1="1368.6" y1="818.4" x2="1368.6" y2="1012.0" stroke="#000" stroke-width="2" stroke-linecap="butt"/>
<line x1="1360.1" y1="819.4" x2="1368.6" y2="819.4" stroke="#000" stroke-width="2" stroke-linecap="butt"/>
<text transform="translate(1358.6 824.591) scale(1.0 1)" font-size="14.5" text-anchor="end" fill="#000">200</text>
<line x1="1360.1" y1="867.3" x2="1368.6" y2="867.3" stroke="#000" stroke-width="2" stroke-linecap="butt"/>
<text transform="translate(1358.6 872.491) scale(1.0 1)" font-size="14.5" text-anchor="end" fill="#000">150</text>
<line x1="1360.1" y1="915.2" x2="1368.6" y2="915.2" stroke="#000" stroke-width="2" stroke-linecap="butt"/>
<text transform="translate(1358.6 920.3910000000001) scale(1.0 1)" font-size="14.5" text-anchor="end" fill="#000">100</text>
<line x1="1360.1" y1="963.1" x2="1368.6" y2="963.1" stroke="#000" stroke-width="2" stroke-linecap="butt"/>
<text transform="translate(1358.6 968.291) scale(1.0 1)" font-size="14.5" text-anchor="end" fill="#000">50</text>
<line x1="1360.1" y1="1011" x2="1368.6" y2="1011" stroke="#000" stroke-width="2" stroke-linecap="butt"/>
<text transform="translate(1358.6 1016.191) scale(1.0 1)" font-size="14.5" text-anchor="end" fill="#000">0</text>
<line x1="1367.6" y1="1011" x2="1657.4" y2="1011" stroke="#000" stroke-width="2" stroke-linecap="butt"/>
<line x1="1435.6" y1="1011" x2="1435.6" y2="1018.5" stroke="#000" stroke-width="2" stroke-linecap="butt"/>
<line x1="1588.8" y1="1011" x2="1588.8" y2="1018.5" stroke="#000" stroke-width="2" stroke-linecap="butt"/>
<circle cx="1406.7" cy="830" r="5.0" fill="#0000ff" stroke="none" stroke-width="0"/>
<circle cx="1406.7" cy="863.3" r="5.0" fill="#0000ff" stroke="none" stroke-width="0"/>
<circle cx="1406.7" cy="902.7" r="5.0" fill="#0000ff" stroke="none" stroke-width="0"/>
<circle cx="1406.7" cy="925.9" r="5.0" fill="#0000ff" stroke="none" stroke-width="0"/>
<circle cx="1406.7" cy="946.9" r="5.0" fill="#0000ff" stroke="none" stroke-width="0"/>
<line x1="1386.7" y1="893.8" x2="1426.7" y2="893.8" stroke="#0000ff" stroke-width="2" stroke-linecap="butt"/>
<line x1="1406.7" y1="872.5" x2="1406.7" y2="914.8" stroke="#0000ff" stroke-width="2" stroke-linecap="butt"/>
<line x1="1396.4" y1="872.5" x2="1417.0" y2="872.5" stroke="#0000ff" stroke-width="2" stroke-linecap="butt"/>
<line x1="1396.4" y1="914.8" x2="1417.0" y2="914.8" stroke="#0000ff" stroke-width="2" stroke-linecap="butt"/>
<rect x="1459.9" y="902.1" width="9.2" height="9.2" fill="#ff0000" stroke="none" stroke-width="0"/>
<rect x="1452.5" y="919.9" width="9.2" height="9.2" fill="#ff0000" stroke="none" stroke-width="0"/>
<rect x="1467.8000000000002" y="916.0" width="9.2" height="9.2" fill="#ff0000" stroke="none" stroke-width="0"/>
<rect x="1459.9" y="927.8" width="9.2" height="9.2" fill="#ff0000" stroke="none" stroke-width="0"/>
<rect x="1459.9" y="952.3" width="9.2" height="9.2" fill="#ff0000" stroke="none" stroke-width="0"/>
<line x1="1444.5" y1="928.8" x2="1484.5" y2="928.8" stroke="#ff0000" stroke-width="2" stroke-linecap="butt"/>
<line x1="1464.5" y1="920.6" x2="1464.5" y2="937.2" stroke="#ff0000" stroke-width="2" stroke-linecap="butt"/>
<line x1="1454.2" y1="920.6" x2="1474.8" y2="920.6" stroke="#ff0000" stroke-width="2" stroke-linecap="butt"/>
<line x1="1454.2" y1="937.2" x2="1474.8" y2="937.2" stroke="#ff0000" stroke-width="2" stroke-linecap="butt"/>
<circle cx="1559.9" cy="946.1" r="5.0" fill="#0000ff" stroke="none" stroke-width="0"/>
<circle cx="1559.9" cy="956.6" r="5.0" fill="#0000ff" stroke="none" stroke-width="0"/>
<circle cx="1559.9" cy="964" r="5.0" fill="#0000ff" stroke="none" stroke-width="0"/>
<circle cx="1559.9" cy="979.7" r="5.0" fill="#0000ff" stroke="none" stroke-width="0"/>
<circle cx="1559.9" cy="991" r="5.0" fill="#0000ff" stroke="none" stroke-width="0"/>
<line x1="1539.9" y1="967.9" x2="1579.9" y2="967.9" stroke="#0000ff" stroke-width="2" stroke-linecap="butt"/>
<line x1="1559.9" y1="960" x2="1559.9" y2="975.8" stroke="#0000ff" stroke-width="2" stroke-linecap="butt"/>
<line x1="1549.6000000000001" y1="960" x2="1570.2" y2="960" stroke="#0000ff" stroke-width="2" stroke-linecap="butt"/>
<line x1="1549.6000000000001" y1="975.8" x2="1570.2" y2="975.8" stroke="#0000ff" stroke-width="2" stroke-linecap="butt"/>
<rect x="1612.3000000000002" y="954.1" width="9.2" height="9.2" fill="#ff0000" stroke="none" stroke-width="0"/>
<rect x="1620.2" y="967.8" width="9.2" height="9.2" fill="#ff0000" stroke="none" stroke-width="0"/>
<rect x="1605.0" y="973.0" width="9.2" height="9.2" fill="#ff0000" stroke="none" stroke-width="0"/>
<rect x="1612.3000000000002" y="985.6999999999999" width="9.2" height="9.2" fill="#ff0000" stroke="none" stroke-width="0"/>
<rect x="1612.3000000000002" y="996.1999999999999" width="9.2" height="9.2" fill="#ff0000" stroke="none" stroke-width="0"/>
<line x1="1596.9" y1="981" x2="1636.9" y2="981" stroke="#ff0000" stroke-width="2" stroke-linecap="butt"/>
<line x1="1616.9" y1="973.2" x2="1616.9" y2="988.1" stroke="#ff0000" stroke-width="2" stroke-linecap="butt"/>
<line x1="1606.6000000000001" y1="973.2" x2="1627.2" y2="973.2" stroke="#ff0000" stroke-width="2" stroke-linecap="butt"/>
<line x1="1606.6000000000001" y1="988.1" x2="1627.2" y2="988.1" stroke="#ff0000" stroke-width="2" stroke-linecap="butt"/>
<text x="1559.1" y="935.65" font-size="14.5" text-anchor="middle" fill="#222" style="font-family:'DejaVu Sans',sans-serif">**</text>
<text x="1617" y="948.75" font-size="14.5" text-anchor="middle" fill="#222" style="font-family:'DejaVu Sans',sans-serif">*</text>
<circle cx="1573.5" cy="830" r="4.8" fill="#0000ff" stroke="none" stroke-width="0"/>
<text transform="translate(1595.9 835.2) scale(1.04 1)" font-size="13.2" text-anchor="start" fill="#000">CXCL1</text>
<rect x="1568.85" y="852.05" width="9.3" height="9.3" fill="#ff0000" stroke="none" stroke-width="0"/>
<text transform="translate(1595.9 861.5) scale(1.04 1)" font-size="13.2" text-anchor="start" fill="#000">MIP-1&#945;</text>
<text x="1320.8" y="917.6" font-size="15.8" text-anchor="middle" transform="rotate(-90 1320.8 917.6)" fill="#000">pg/ml</text>
<text x="1433.5" y="1037.6" font-size="15.6" text-anchor="middle" fill="#000">Ang II</text>
<text x="1433.5" y="1056" font-size="15.6" text-anchor="middle" fill="#000">Control</text>
<text x="1584.8" y="1037.6" font-size="15.6" text-anchor="middle" fill="#000">Ang II</text>
<text x="1584.8" y="1056" font-size="15.6" text-anchor="middle" fill="#000">+PBN</text>
<text x="1670.7" y="14.7" font-size="18" text-anchor="start" font-weight="bold" fill="#000">n</text>
<rect x="1767.3" y="93.5" width="73.60000000000005" height="107.6" fill="#8080ff" stroke="#0000ff" stroke-width="2.6"/>
<rect x="1884.3" y="166.0" width="73.60000000000005" height="35.10000000000001" fill="#ff8080" stroke="#ff0000" stroke-width="2.6"/>
<line x1="1804.1" y1="76.9" x2="1804.1" y2="105" stroke="#0000ff" stroke-width="1.9" stroke-linecap="butt"/>
<line x1="1784" y1="76.9" x2="1824" y2="76.9" stroke="#0000ff" stroke-width="1.9" stroke-linecap="butt"/>
<line x1="1784" y1="105" x2="1824" y2="105" stroke="#0000ff" stroke-width="1.9" stroke-linecap="butt"/>
<line x1="1920.9" y1="156.1" x2="1920.9" y2="172.1" stroke="#ff0000" stroke-width="1.9" stroke-linecap="butt"/>
<line x1="1900.7" y1="156.1" x2="1940.8" y2="156.1" stroke="#ff0000" stroke-width="1.9" stroke-linecap="butt"/>
<line x1="1900.7" y1="172.1" x2="1940.8" y2="172.1" stroke="#ff0000" stroke-width="1.9" stroke-linecap="butt"/>
<circle cx="1804.1" cy="48.7" r="3.6" fill="#fff" stroke="#0000ff" stroke-width="1.8"/>
<circle cx="1804.1" cy="70.8" r="3.6" fill="#fff" stroke="#0000ff" stroke-width="1.8"/>
<circle cx="1804.1" cy="99.1" r="3.6" fill="#fff" stroke="#0000ff" stroke-width="1.8"/>
<circle cx="1804.1" cy="111.8" r="3.6" fill="#fff" stroke="#0000ff" stroke-width="1.8"/>
<circle cx="1804.1" cy="125.4" r="3.6" fill="#fff" stroke="#0000ff" stroke-width="1.8"/>
<rect x="1910.5" y="138.79999999999998" width="6.6" height="6.6" fill="#fff" stroke="#ff0000" stroke-width="1.8"/>
<rect x="1925.0" y="144.89999999999998" width="6.6" height="6.6" fill="#fff" stroke="#ff0000" stroke-width="1.8"/>
<rect x="1917.6000000000001" y="165.79999999999998" width="6.6" height="6.6" fill="#fff" stroke="#ff0000" stroke-width="1.8"/>
<rect x="1925.0" y="173.2" width="6.6" height="6.6" fill="#fff" stroke="#ff0000" stroke-width="1.8"/>
<rect x="1910.5" y="179.79999999999998" width="6.6" height="6.6" fill="#fff" stroke="#ff0000" stroke-width="1.8"/>
<line x1="1725.7" y1="17.4" x2="1725.7" y2="202.1" stroke="#000" stroke-width="2" stroke-linecap="butt"/>
<line x1="1717.2" y1="18.4" x2="1725.7" y2="18.4" stroke="#000" stroke-width="2" stroke-linecap="butt"/>
<text transform="translate(1715.7 23.447799999999997) scale(0.97 1)" font-size="14.1" text-anchor="end" fill="#000">200</text>
<line x1="1717.2" y1="64.1" x2="1725.7" y2="64.1" stroke="#000" stroke-width="2" stroke-linecap="butt"/>
<text transform="translate(1715.7 69.14779999999999) scale(0.97 1)" font-size="14.1" text-anchor="end" fill="#000">150</text>
<line x1="1717.2" y1="109.8" x2="1725.7" y2="109.8" stroke="#000" stroke-width="2" stroke-linecap="butt"/>
<text transform="translate(1715.7 114.84779999999999) scale(0.97 1)" font-size="14.1" text-anchor="end" fill="#000">100</text>
<line x1="1717.2" y1="155.4" x2="1725.7" y2="155.4" stroke="#000" stroke-width="2" stroke-linecap="butt"/>
<text transform="translate(1715.7 160.4478) scale(0.97 1)" font-size="14.1" text-anchor="end" fill="#000">50</text>
<line x1="1717.2" y1="201.1" x2="1725.7" y2="201.1" stroke="#000" stroke-width="2" stroke-linecap="butt"/>
<text transform="translate(1715.7 206.1478) scale(0.97 1)" font-size="14.1" text-anchor="end" fill="#000">0</text>
<line x1="1724.7" y1="201.1" x2="2001" y2="201.1" stroke="#000" stroke-width="2" stroke-linecap="butt"/>
<line x1="1804.1" y1="201.1" x2="1804.1" y2="208.6" stroke="#000" stroke-width="2" stroke-linecap="butt"/>
<line x1="1920.9" y1="201.1" x2="1920.9" y2="208.6" stroke="#000" stroke-width="2" stroke-linecap="butt"/>
<text x="1921.6" y="128.85" font-size="14.5" text-anchor="middle" fill="#222" style="font-family:'DejaVu Sans',sans-serif">*</text>
<text x="1677.3" y="99.5" font-size="15.8" text-anchor="middle" transform="rotate(-90 1677.3 99.5)" fill="#000">IL-1&#946; (pg/ml)</text>
<text x="1801.9" y="224.9" font-size="15.6" text-anchor="middle" fill="#000">Ang II</text>
<text x="1801.9" y="244.6" font-size="15.6" text-anchor="middle" fill="#000">Control</text>
<text x="1921.6" y="228.1" font-size="15.6" text-anchor="middle" fill="#000">Ang II</text>
<text x="1918" y="246.6" font-size="15.6" text-anchor="middle" fill="#000">+PBN</text>
<text x="1676.3" y="249.5" font-size="18" text-anchor="start" font-weight="bold" fill="#000">o</text>
<rect x="1770.5" y="331.8" width="66.69999999999996" height="96.2" fill="#8080ff" stroke="#0000ff" stroke-width="2.6"/>
<rect x="1876.7" y="392.5" width="66.29999999999987" height="35.500000000000014" fill="#ff8080" stroke="#ff0000" stroke-width="2.6"/>
<line x1="1803.6" y1="315.7" x2="1803.6" y2="343.2" stroke="#0000ff" stroke-width="1.9" stroke-linecap="butt"/>
<line x1="1785.7" y1="315.7" x2="1821.6" y2="315.7" stroke="#0000ff" stroke-width="1.9" stroke-linecap="butt"/>
<line x1="1785.7" y1="343.2" x2="1821.6" y2="343.2" stroke="#0000ff" stroke-width="1.9" stroke-linecap="butt"/>
<line x1="1909.8" y1="379.4" x2="1909.8" y2="401.7" stroke="#ff0000" stroke-width="1.9" stroke-linecap="butt"/>
<line x1="1891.6" y1="379.4" x2="1927.8" y2="379.4" stroke="#ff0000" stroke-width="1.9" stroke-linecap="butt"/>
<line x1="1891.6" y1="401.7" x2="1927.8" y2="401.7" stroke="#ff0000" stroke-width="1.9" stroke-linecap="butt"/>
<circle cx="1803.6" cy="282.3" r="3.6" fill="#fff" stroke="#0000ff" stroke-width="1.8"/>
<circle cx="1803.6" cy="319.2" r="3.6" fill="#fff" stroke="#0000ff" stroke-width="1.8"/>
<circle cx="1797" cy="339.6" r="3.6" fill="#fff" stroke="#0000ff" stroke-width="1.8"/>
<circle cx="1810.3" cy="345.7" r="3.6" fill="#fff" stroke="#0000ff" stroke-width="1.8"/>
<circle cx="1803.6" cy="362.2" r="3.6" fill="#fff" stroke="#0000ff" stroke-width="1.8"/>
<rect x="1906.5" y="354.7" width="6.6" height="6.6" fill="#fff" stroke="#ff0000" stroke-width="1.8"/>
<rect x="1906.5" y="375.59999999999997" width="6.6" height="6.6" fill="#fff" stroke="#ff0000" stroke-width="1.8"/>
<rect x="1906.5" y="385.4" width="6.6" height="6.6" fill="#fff" stroke="#ff0000" stroke-width="1.8"/>
<rect x="1906.5" y="399.7" width="6.6" height="6.6" fill="#fff" stroke="#ff0000" stroke-width="1.8"/>
<rect x="1906.5" y="420.59999999999997" width="6.6" height="6.6" fill="#fff" stroke="#ff0000" stroke-width="1.8"/>
<line x1="1733.6" y1="262.4" x2="1733.6" y2="429.0" stroke="#000" stroke-width="2" stroke-linecap="butt"/>
<line x1="1725.1" y1="263.4" x2="1733.6" y2="263.4" stroke="#000" stroke-width="2" stroke-linecap="butt"/>
<text transform="translate(1723.6 268.16139999999996) scale(0.95 1)" font-size="13.3" text-anchor="end" fill="#000">0.08</text>
<line x1="1725.1" y1="304.5" x2="1733.6" y2="304.5" stroke="#000" stroke-width="2" stroke-linecap="butt"/>
<text transform="translate(1723.6 309.2614) scale(0.95 1)" font-size="13.3" text-anchor="end" fill="#000">0.06</text>
<line x1="1725.1" y1="345.7" x2="1733.6" y2="345.7" stroke="#000" stroke-width="2" stroke-linecap="butt"/>
<text transform="translate(1723.6 350.46139999999997) scale(0.95 1)" font-size="13.3" text-anchor="end" fill="#000">0.04</text>
<line x1="1725.1" y1="386.8" x2="1733.6" y2="386.8" stroke="#000" stroke-width="2" stroke-linecap="butt"/>
<text transform="translate(1723.6 391.5614) scale(0.95 1)" font-size="13.3" text-anchor="end" fill="#000">0.02</text>
<line x1="1725.1" y1="428" x2="1733.6" y2="428" stroke="#000" stroke-width="2" stroke-linecap="butt"/>
<text transform="translate(1723.6 432.7614) scale(0.95 1)" font-size="13.3" text-anchor="end" fill="#000">0.00</text>
<line x1="1732.6" y1="428" x2="1982" y2="428" stroke="#000" stroke-width="2" stroke-linecap="butt"/>
<line x1="1803.6" y1="428" x2="1803.6" y2="435.5" stroke="#000" stroke-width="2" stroke-linecap="butt"/>
<line x1="1909.8" y1="428" x2="1909.8" y2="435.5" stroke="#000" stroke-width="2" stroke-linecap="butt"/>
<text x="1909.8" y="347.45" font-size="14.5" text-anchor="middle" fill="#222" style="font-family:'DejaVu Sans',sans-serif">**</text>
<text x="1686.5" y="340.2" font-size="16.3" text-anchor="middle" transform="rotate(-90 1686.5 340.2)" fill="#000">ATP (&#181;M gm<tspan font-size="10" dy="-6">-1</tspan><tspan dy="6">)</tspan></text>
<text x="1799.2" y="451.4" font-size="15.6" text-anchor="middle" fill="#000">Ang II</text>
<text x="1799.2" y="469.8" font-size="15.6" text-anchor="middle" fill="#000">Control</text>
<text x="1911" y="451.4" font-size="15.6" text-anchor="middle" fill="#000">Ang II</text>
<text x="1907.6" y="469.8" font-size="15.6" text-anchor="middle" fill="#000">+PBN</text>
<text x="1695" y="512" font-size="18" text-anchor="start" font-weight="bold" fill="#000">p</text>
<rect x="1784.2" y="591.3" width="67.79999999999987" height="100.59999999999998" fill="#8080ff" stroke="#0000ff" stroke-width="2.6"/>
<rect x="1891.8" y="644.1999999999999" width="67.9" height="47.7" fill="#ff8080" stroke="#ff0000" stroke-width="2.6"/>
<line x1="1818" y1="580.4" x2="1818" y2="598.5" stroke="#0000ff" stroke-width="1.9" stroke-linecap="butt"/>
<line x1="1799.9" y1="580.4" x2="1836.3" y2="580.4" stroke="#0000ff" stroke-width="1.9" stroke-linecap="butt"/>
<line x1="1799.9" y1="598.5" x2="1836.3" y2="598.5" stroke="#0000ff" stroke-width="1.9" stroke-linecap="butt"/>
<line x1="1925.3" y1="635.2" x2="1925.3" y2="648.1" stroke="#ff0000" stroke-width="1.9" stroke-linecap="butt"/>
<line x1="1907.5" y1="635.2" x2="1943.7" y2="635.2" stroke="#ff0000" stroke-width="1.9" stroke-linecap="butt"/>
<line x1="1907.5" y1="648.1" x2="1943.7" y2="648.1" stroke="#ff0000" stroke-width="1.9" stroke-linecap="butt"/>
<circle cx="1818" cy="571.6" r="3.6" fill="#fff" stroke="#0000ff" stroke-width="1.8"/>
<circle cx="1818" cy="581.2" r="3.6" fill="#fff" stroke="#0000ff" stroke-width="1.8"/>
<circle cx="1818" cy="591.9" r="3.6" fill="#fff" stroke="#0000ff" stroke-width="1.8"/>
<circle cx="1818" cy="613.3" r="3.6" fill="#fff" stroke="#0000ff" stroke-width="1.8"/>
<rect x="1922.0" y="622.9000000000001" width="6.6" height="6.6" fill="#fff" stroke="#ff0000" stroke-width="1.8"/>
<rect x="1915.7" y="636.6" width="6.6" height="6.6" fill="#fff" stroke="#ff0000" stroke-width="1.8"/>
<rect x="1928.9" y="640.9000000000001" width="6.6" height="6.6" fill="#fff" stroke="#ff0000" stroke-width="1.8"/>
<rect x="1922.0" y="653.3000000000001" width="6.6" height="6.6" fill="#fff" stroke="#ff0000" stroke-width="1.8"/>
<line x1="1746.4" y1="523.8" x2="1746.4" y2="692.9" stroke="#000" stroke-width="2" stroke-linecap="butt"/>
<line x1="1737.9" y1="524.8" x2="1746.4" y2="524.8" stroke="#000" stroke-width="2" stroke-linecap="butt"/>
<text transform="translate(1736.4 529.1676) scale(1.05 1)" font-size="12.2" text-anchor="end" fill="#000">200</text>
<line x1="1737.9" y1="566.6" x2="1746.4" y2="566.6" stroke="#000" stroke-width="2" stroke-linecap="butt"/>
<text transform="translate(1736.4 570.9676000000001) scale(1.05 1)" font-size="12.2" text-anchor="end" fill="#000">150</text>
<line x1="1737.9" y1="608.4" x2="1746.4" y2="608.4" stroke="#000" stroke-width="2" stroke-linecap="butt"/>
<text transform="translate(1736.4 612.7676) scale(1.05 1)" font-size="12.2" text-anchor="end" fill="#000">100</text>
<line x1="1737.9" y1="650.1" x2="1746.4" y2="650.1" stroke="#000" stroke-width="2" stroke-linecap="butt"/>
<text transform="translate(1736.4 654.4676000000001) scale(1.05 1)" font-size="12.2" text-anchor="end" fill="#000">50</text>
<line x1="1737.9" y1="691.9" x2="1746.4" y2="691.9" stroke="#000" stroke-width="2" stroke-linecap="butt"/>
<text transform="translate(1736.4 696.2676) scale(1.05 1)" font-size="12.2" text-anchor="end" fill="#000">0</text>
<line x1="1745.4" y1="691.9" x2="1998.5" y2="691.9" stroke="#000" stroke-width="2" stroke-linecap="butt"/>
<line x1="1818" y1="691.9" x2="1818" y2="699.4" stroke="#000" stroke-width="2" stroke-linecap="butt"/>
<line x1="1925.3" y1="691.9" x2="1925.3" y2="699.4" stroke="#000" stroke-width="2" stroke-linecap="butt"/>
<text x="1925.3" y="612.15" font-size="14.5" text-anchor="middle" fill="#222" style="font-family:'DejaVu Sans',sans-serif">*</text>
<text x="1701.8" y="607.7" font-size="15.9" text-anchor="middle" transform="rotate(-90 1701.8 607.7)" fill="#000">MMP2 (pg/ml)</text>
<text x="1813.8" y="718.8" font-size="15.6" text-anchor="middle" fill="#000">Ang II</text>
<text x="1813.8" y="738" font-size="15.6" text-anchor="middle" fill="#000">Control</text>
<text x="1928.6" y="718.8" font-size="15.6" text-anchor="middle" fill="#000">Ang II</text>
<text x="1924.8" y="738" font-size="15.6" text-anchor="middle" fill="#000">+PBN</text>
</svg>
</body></html>
